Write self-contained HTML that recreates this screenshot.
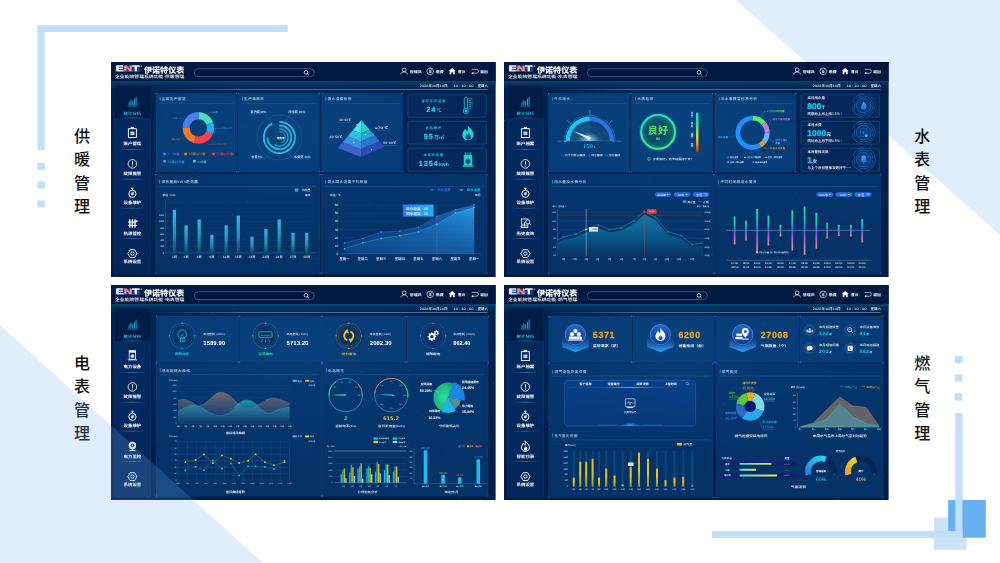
<!DOCTYPE html>
<html lang="zh-CN"><head><meta charset="utf-8"><title>能效管理系统</title>
<style>
html,body{margin:0;padding:0}
body{width:1000px;height:563px;position:relative;overflow:hidden;background:#fff;font-family:"Liberation Sans","Noto Sans CJK SC",sans-serif}
.d{position:absolute}
.dash{position:absolute;display:block;overflow:hidden;will-change:transform;text-rendering:geometricPrecision;transform:scale(0.2);transform-origin:0 0}
.vl{position:absolute;width:20px;height:24px;line-height:24px;text-align:center;font-size:16px;font-weight:500;color:#111;font-family:"Liberation Sans","Noto Sans CJK SC",sans-serif}
.bg{position:absolute;left:0;top:0}
</style></head><body>
<svg class="bg" width="1000" height="563" viewBox="0 0 1000 563">
<polygon points="736,0 1000,0 1000,235" fill="#dfedfc"/>
<rect x="37.5" y="25" width="250.3" height="7" fill="#c0dff9"/>
<rect x="37.5" y="25" width="7.1" height="125" fill="#c0dff9"/>
<rect x="37.4" y="162.8" width="7.5" height="7" fill="#c0dff9"/>
<rect x="37.4" y="181.5" width="7.5" height="7" fill="#c0dff9"/>
<rect x="37.4" y="200.4" width="7.5" height="7" fill="#c0dff9"/>
<rect x="934" y="517.6" width="32.5" height="32.2" fill="#cbe3f9"/>
<rect x="948.2" y="500" width="37.6" height="37.7" fill="#66b0f2"/>
<rect x="955.2" y="413" width="7.3" height="125" fill="#c0dff9"/>
<rect x="712" y="531" width="250.5" height="7" fill="#c0dff9"/>
<rect x="954.8" y="355.8" width="7.6" height="7.4" fill="#c0dff9"/>
<rect x="954.8" y="374.4" width="7.6" height="7.4" fill="#c0dff9"/>
<rect x="954.8" y="393.3" width="7.6" height="7.4" fill="#c0dff9"/>
</svg>
<div class="vl" style="left:72px;top:124.6px">供</div><div class="vl" style="left:72px;top:148.05px">暖</div><div class="vl" style="left:72px;top:171.5px">管</div><div class="vl" style="left:72px;top:194.95px">理</div>
<div class="vl" style="left:912.3px;top:124.6px">水</div><div class="vl" style="left:912.3px;top:148.05px">表</div><div class="vl" style="left:912.3px;top:171.5px">管</div><div class="vl" style="left:912.3px;top:194.95px">理</div>
<div class="vl" style="left:72px;top:351.6px">电</div><div class="vl" style="left:72px;top:375.05px">表</div><div class="vl" style="left:72px;top:398.5px">管</div><div class="vl" style="left:72px;top:421.95px">理</div>
<div class="vl" style="left:912.3px;top:351.6px">燃</div><div class="vl" style="left:912.3px;top:375.05px">气</div><div class="vl" style="left:912.3px;top:398.5px">管</div><div class="vl" style="left:912.3px;top:421.95px">理</div>
<svg class="dash" style="left:111.2px;top:62.3px" width="1924" height="1075" viewBox="111.2 62.3 384.8 215" font-family='"Liberation Sans","Noto Sans CJK SC",sans-serif' font-weight="500">
<defs>
<linearGradient id="bga" x1="0" y1="0" x2="0" y2="1"><stop offset="0" stop-color="#021f4a"/><stop offset="0.45" stop-color="#03224f"/><stop offset="1" stop-color="#031d47"/></linearGradient>
<radialGradient id="gla" cx="0.45" cy="0.3" r="0.52"><stop offset="0" stop-color="#0a5290" stop-opacity="0.32"/><stop offset="1" stop-color="#06306a" stop-opacity="0"/></radialGradient>
<linearGradient id="hla" x1="0" y1="0" x2="1" y2="0"><stop offset="0" stop-color="#7fb6ea" stop-opacity="0"/><stop offset="0.25" stop-color="#8fc2f0" stop-opacity="0.9"/><stop offset="1" stop-color="#b8dcff" stop-opacity="1"/></linearGradient>
<linearGradient id="dva" x1="0" y1="0" x2="1" y2="0"><stop offset="0" stop-color="#7fb6ea" stop-opacity="0"/><stop offset="0.5" stop-color="#8fc2f0" stop-opacity="0.9"/><stop offset="1" stop-color="#7fb6ea" stop-opacity="0"/></linearGradient>
<linearGradient id="hba" x1="0" y1="0" x2="0" y2="1"><stop offset="0" stop-color="#0c5480" stop-opacity="0.85"/><stop offset="0.3" stop-color="#0a4674" stop-opacity="0.45"/><stop offset="1" stop-color="#0a4070" stop-opacity="0"/></linearGradient>
</defs>
<rect x="111.2" y="62.3" width="384.8" height="215" fill="url(#bga)"/>
<rect x="111.2" y="62.3" width="384.8" height="215" fill="url(#gla)"/>
<g fill="#9fd0ff"><circle cx="143.49" cy="95.42" r="0.36" opacity="0.44"/><circle cx="342.41" cy="229.48" r="0.36" opacity="0.54"/><circle cx="299.33" cy="137.85" r="0.29" opacity="0.24"/><circle cx="225.92" cy="197.02" r="0.33" opacity="0.19"/><circle cx="242.87" cy="97.25" r="0.2" opacity="0.27"/><circle cx="144.22" cy="135.8" r="0.45" opacity="0.49"/><circle cx="220.03" cy="208.36" r="0.43" opacity="0.49"/><circle cx="454.05" cy="133.99" r="0.3" opacity="0.23"/><circle cx="406.4" cy="228.5" r="0.48" opacity="0.25"/><circle cx="484.82" cy="251.57" r="0.32" opacity="0.5"/><circle cx="288.66" cy="87.17" r="0.34" opacity="0.22"/><circle cx="280.49" cy="159.21" r="0.25" opacity="0.24"/><circle cx="440.38" cy="102.91" r="0.34" opacity="0.55"/><circle cx="268.68" cy="266.77" r="0.38" opacity="0.55"/><circle cx="252.31" cy="218.41" r="0.26" opacity="0.54"/><circle cx="199.93" cy="172.35" r="0.4" opacity="0.52"/><circle cx="211.89" cy="127.93" r="0.46" opacity="0.31"/><circle cx="486.71" cy="155.61" r="0.43" opacity="0.38"/><circle cx="142.27" cy="239.57" r="0.36" opacity="0.17"/><circle cx="378.96" cy="205.51" r="0.25" opacity="0.44"/><circle cx="461.42" cy="242.24" r="0.37" opacity="0.4"/><circle cx="493.01" cy="155.28" r="0.25" opacity="0.31"/><circle cx="433.28" cy="161.59" r="0.4" opacity="0.51"/><circle cx="308.1" cy="210.9" r="0.3" opacity="0.28"/><circle cx="210.73" cy="179.03" r="0.39" opacity="0.15"/><circle cx="198.32" cy="273.51" r="0.34" opacity="0.44"/><circle cx="376.27" cy="239.54" r="0.46" opacity="0.33"/><circle cx="126.79" cy="256.15" r="0.23" opacity="0.38"/><circle cx="465.64" cy="127.29" r="0.4" opacity="0.16"/><circle cx="334.08" cy="161.48" r="0.27" opacity="0.39"/><circle cx="425.43" cy="263.57" r="0.27" opacity="0.15"/><circle cx="322.84" cy="239.76" r="0.46" opacity="0.17"/><circle cx="483.69" cy="100.2" r="0.2" opacity="0.26"/><circle cx="486.92" cy="179.5" r="0.47" opacity="0.4"/><circle cx="368.49" cy="203.82" r="0.36" opacity="0.45"/><circle cx="470.45" cy="171.04" r="0.2" opacity="0.51"/><circle cx="206.11" cy="219.82" r="0.21" opacity="0.33"/><circle cx="198.74" cy="137.26" r="0.28" opacity="0.39"/><circle cx="189.03" cy="258.24" r="0.24" opacity="0.44"/><circle cx="368.06" cy="100.02" r="0.35" opacity="0.19"/><circle cx="156.81" cy="248.31" r="0.24" opacity="0.54"/><circle cx="341.1" cy="130.43" r="0.38" opacity="0.33"/><circle cx="289.26" cy="180.39" r="0.22" opacity="0.36"/><circle cx="481.67" cy="255.58" r="0.33" opacity="0.44"/><circle cx="281.49" cy="114.66" r="0.47" opacity="0.45"/><circle cx="456.22" cy="89.12" r="0.33" opacity="0.45"/><circle cx="317.26" cy="171.26" r="0.3" opacity="0.34"/><circle cx="189.69" cy="100.48" r="0.3" opacity="0.27"/><circle cx="311.38" cy="211.94" r="0.18" opacity="0.31"/><circle cx="178.32" cy="120.96" r="0.31" opacity="0.4"/><circle cx="476.23" cy="175.07" r="0.3" opacity="0.33"/><circle cx="357.98" cy="117" r="0.2" opacity="0.16"/><circle cx="150.11" cy="102.13" r="0.32" opacity="0.49"/><circle cx="245.29" cy="91.12" r="0.21" opacity="0.49"/><circle cx="385.5" cy="258.71" r="0.21" opacity="0.38"/><circle cx="446.6" cy="131.81" r="0.41" opacity="0.45"/><circle cx="179.22" cy="150.87" r="0.34" opacity="0.48"/><circle cx="342.86" cy="187.38" r="0.33" opacity="0.37"/><circle cx="267.94" cy="176.35" r="0.41" opacity="0.37"/><circle cx="418.23" cy="263.97" r="0.18" opacity="0.25"/><circle cx="459.96" cy="192.41" r="0.44" opacity="0.31"/><circle cx="212.8" cy="112.61" r="0.44" opacity="0.37"/><circle cx="410.46" cy="206.31" r="0.24" opacity="0.48"/><circle cx="320.84" cy="230.44" r="0.33" opacity="0.2"/><circle cx="167.66" cy="115.61" r="0.39" opacity="0.42"/><circle cx="344.9" cy="144.94" r="0.22" opacity="0.42"/><circle cx="117.64" cy="138.39" r="0.29" opacity="0.29"/><circle cx="263.78" cy="263.18" r="0.36" opacity="0.49"/><circle cx="410.02" cy="144.12" r="0.22" opacity="0.32"/><circle cx="140.82" cy="161.24" r="0.29" opacity="0.31"/><circle cx="315.28" cy="123.84" r="0.18" opacity="0.17"/><circle cx="436.61" cy="257.74" r="0.3" opacity="0.26"/><circle cx="150.5" cy="178.22" r="0.21" opacity="0.16"/><circle cx="450.87" cy="253.04" r="0.33" opacity="0.29"/><circle cx="441.35" cy="242.5" r="0.46" opacity="0.32"/><circle cx="379.8" cy="162.91" r="0.32" opacity="0.17"/><circle cx="336.07" cy="226.95" r="0.23" opacity="0.2"/><circle cx="342.28" cy="134.73" r="0.3" opacity="0.42"/><circle cx="476.6" cy="150.05" r="0.33" opacity="0.2"/><circle cx="247.19" cy="180.11" r="0.33" opacity="0.18"/><circle cx="279.06" cy="217.06" r="0.44" opacity="0.22"/><circle cx="127.3" cy="87.88" r="0.3" opacity="0.25"/><circle cx="240.35" cy="113.94" r="0.25" opacity="0.43"/><circle cx="352.93" cy="171.58" r="0.31" opacity="0.2"/><circle cx="157.56" cy="180.51" r="0.24" opacity="0.55"/><circle cx="128.59" cy="122.16" r="0.43" opacity="0.17"/><circle cx="410.57" cy="240.02" r="0.48" opacity="0.37"/><circle cx="255.37" cy="165.61" r="0.38" opacity="0.22"/><circle cx="247.74" cy="201.55" r="0.39" opacity="0.5"/><circle cx="478.62" cy="186.03" r="0.39" opacity="0.5"/><circle cx="244.26" cy="239.73" r="0.36" opacity="0.45"/><circle cx="303.62" cy="97.17" r="0.33" opacity="0.19"/><circle cx="242.28" cy="127.69" r="0.44" opacity="0.5"/><circle cx="206.25" cy="115.25" r="0.31" opacity="0.22"/><circle cx="424.07" cy="194.49" r="0.28" opacity="0.25"/><circle cx="349.63" cy="249.61" r="0.31" opacity="0.54"/><circle cx="169.65" cy="197.17" r="0.33" opacity="0.22"/><circle cx="317.49" cy="258.89" r="0.47" opacity="0.52"/><circle cx="233.74" cy="111.9" r="0.27" opacity="0.18"/><circle cx="139.73" cy="254.31" r="0.23" opacity="0.23"/><circle cx="239.77" cy="99.81" r="0.36" opacity="0.22"/><circle cx="347.75" cy="150.37" r="0.23" opacity="0.31"/><circle cx="425.99" cy="83.65" r="0.39" opacity="0.39"/><circle cx="197.93" cy="114.37" r="0.46" opacity="0.25"/><circle cx="330.79" cy="228.2" r="0.46" opacity="0.26"/><circle cx="160.1" cy="209.82" r="0.26" opacity="0.43"/><circle cx="374.99" cy="102.27" r="0.37" opacity="0.31"/><circle cx="186.72" cy="90.96" r="0.34" opacity="0.21"/><circle cx="358.64" cy="227.01" r="0.21" opacity="0.47"/><circle cx="212.53" cy="175.4" r="0.34" opacity="0.18"/><circle cx="243.5" cy="231.02" r="0.32" opacity="0.53"/><circle cx="258.47" cy="249.19" r="0.3" opacity="0.44"/><circle cx="402.41" cy="178.89" r="0.45" opacity="0.21"/><circle cx="474.44" cy="146.03" r="0.46" opacity="0.23"/><circle cx="405.9" cy="224.35" r="0.21" opacity="0.38"/><circle cx="491.05" cy="150.57" r="0.4" opacity="0.23"/><circle cx="462.11" cy="214.6" r="0.43" opacity="0.23"/><circle cx="427.55" cy="150.39" r="0.45" opacity="0.55"/><circle cx="182.69" cy="258.58" r="0.33" opacity="0.39"/><circle cx="407.87" cy="208.89" r="0.44" opacity="0.2"/><circle cx="116.54" cy="110.88" r="0.33" opacity="0.2"/><circle cx="375.7" cy="137.02" r="0.33" opacity="0.29"/><circle cx="137.14" cy="132.78" r="0.26" opacity="0.43"/><circle cx="423.94" cy="169.42" r="0.19" opacity="0.26"/><circle cx="190.56" cy="251.96" r="0.21" opacity="0.48"/><circle cx="127.3" cy="221.15" r="0.22" opacity="0.23"/><circle cx="417.29" cy="226.98" r="0.41" opacity="0.15"/><circle cx="206.09" cy="216.65" r="0.26" opacity="0.36"/><circle cx="333.19" cy="248.3" r="0.25" opacity="0.2"/><circle cx="264.33" cy="88.73" r="0.43" opacity="0.26"/><circle cx="417.31" cy="258.17" r="0.44" opacity="0.34"/><circle cx="287.88" cy="270.88" r="0.18" opacity="0.49"/><circle cx="225.19" cy="211.6" r="0.26" opacity="0.25"/><circle cx="223.79" cy="189.89" r="0.38" opacity="0.29"/><circle cx="224.56" cy="205.42" r="0.47" opacity="0.36"/><circle cx="390.86" cy="258.78" r="0.37" opacity="0.29"/><circle cx="360.02" cy="248.75" r="0.24" opacity="0.41"/><circle cx="311.02" cy="232.41" r="0.39" opacity="0.15"/><circle cx="189.44" cy="123.23" r="0.32" opacity="0.42"/><circle cx="280.32" cy="90.9" r="0.3" opacity="0.41"/><circle cx="213.06" cy="121.57" r="0.36" opacity="0.51"/><circle cx="411.81" cy="265.05" r="0.26" opacity="0.25"/><circle cx="127.89" cy="252.98" r="0.47" opacity="0.31"/><circle cx="381.99" cy="181.13" r="0.28" opacity="0.15"/><circle cx="303.63" cy="179.14" r="0.38" opacity="0.32"/><circle cx="331.25" cy="180.32" r="0.33" opacity="0.54"/><circle cx="436.09" cy="166.31" r="0.28" opacity="0.2"/><circle cx="379.54" cy="227.19" r="0.32" opacity="0.3"/><circle cx="171.95" cy="191.2" r="0.34" opacity="0.29"/><circle cx="399.37" cy="187.84" r="0.27" opacity="0.44"/><circle cx="311.11" cy="232.11" r="0.23" opacity="0.46"/><circle cx="126.82" cy="126.47" r="0.43" opacity="0.22"/><circle cx="438.02" cy="274.16" r="0.24" opacity="0.4"/><circle cx="459.03" cy="275.37" r="0.24" opacity="0.41"/><circle cx="417.21" cy="122.2" r="0.41" opacity="0.48"/><circle cx="184.27" cy="205.5" r="0.2" opacity="0.29"/><circle cx="424.89" cy="223.9" r="0.47" opacity="0.51"/><circle cx="160.36" cy="206.25" r="0.26" opacity="0.45"/><circle cx="331.41" cy="234.84" r="0.47" opacity="0.43"/><circle cx="168.37" cy="86.76" r="0.2" opacity="0.15"/><circle cx="145.07" cy="199.47" r="0.19" opacity="0.39"/><circle cx="429.42" cy="230.38" r="0.41" opacity="0.52"/><circle cx="178.11" cy="87.06" r="0.19" opacity="0.36"/><circle cx="276.91" cy="171.2" r="0.29" opacity="0.53"/><circle cx="132.51" cy="248.2" r="0.37" opacity="0.54"/><circle cx="385.53" cy="144.16" r="0.3" opacity="0.54"/><circle cx="357.04" cy="147.85" r="0.29" opacity="0.49"/><circle cx="244.95" cy="125.78" r="0.21" opacity="0.36"/><circle cx="140.72" cy="255.34" r="0.46" opacity="0.42"/><circle cx="252.07" cy="168.36" r="0.22" opacity="0.3"/></g>
<rect x="111.2" y="62.3" width="384.8" height="19.2" fill="#021a3f"/>
<rect x="111.2" y="81.5" width="384.8" height="9" fill="url(#hba)"/>
<rect x="115.5" y="66.1" width="24.6" height="6.3" fill="#2458c8" rx="0.5" opacity="0.6"/>
<text x="116" y="71.8" font-size="7.7" font-weight="bold" textLength="23.6" lengthAdjust="spacingAndGlyphs" stroke-width="0.35" font-family='"Liberation Sans","Noto Sans CJK SC",sans-serif'><tspan fill="#ffffff" stroke="#ffffff">E</tspan><tspan fill="#f58a7c" stroke="#f58a7c">N</tspan><tspan fill="#ffffff" stroke="#ffffff">T</tspan></text>
<text x="140.8" y="67.51" font-size="2.2" fill="#fff">®</text>
<text x="144.2" y="72.88" font-size="8" fill="#fff" font-weight="900" textLength="40.3" lengthAdjust="spacingAndGlyphs">伊诺特仪表</text>
<text x="115.2" y="78.73" font-size="4.1" fill="#fff" font-weight="500" textLength="69.4" lengthAdjust="spacingAndGlyphs">企业能效管理系统功能·供暖管理</text>
<rect x="194.5" y="69" width="120" height="7.9" fill="#03153a" rx="3.95" stroke="#8fb4dc" stroke-width="0.4" opacity="1"/>
<circle cx="306.2" cy="72.7" r="1.8" fill="none" stroke="#fff" stroke-width="0.7"/>
<line x1="307.5" y1="74" x2="308.9" y2="75.3" stroke="#fff" stroke-width="0.75"/>
<circle cx="404.3" cy="70.2" r="1.9" fill="none" stroke="#fff" stroke-width="0.7"/>
<path d="M401 74.7C401.3 71.3 407.3 71.3 407.6 74.7" fill="none" stroke="#fff" stroke-width="0.7"/>
<text x="410" y="73.03" font-size="3.5" fill="#fff" font-weight="bold" textLength="12" lengthAdjust="spacingAndGlyphs">管理员</text>
<circle cx="430.4" cy="71.6" r="3.35" fill="none" stroke="#fff" stroke-width="0.6"/>
<path d="M428.9 69.5L430.4 71.5L431.9 69.5M430.4 71.5L430.4 73.9M429 71.7L431.8 71.7M429 72.7L431.8 72.7" fill="none" stroke="#fff" stroke-width="0.5"/>
<text x="436" y="73.03" font-size="3.5" fill="#fff" font-weight="bold" textLength="7.9" lengthAdjust="spacingAndGlyphs">缴费</text>
<polygon points="452.4,68.3 455.9,71.4 454.9,71.4 454.9,74.6 453.3,74.6 453.3,72.5 451.5,72.5 451.5,74.6 449.9,74.6 449.9,71.4 448.9,71.4" fill="#fff"/>
<text x="458.2" y="73.03" font-size="3.5" fill="#fff" font-weight="bold" textLength="7.4" lengthAdjust="spacingAndGlyphs">首页</text>
<path d="M471.9 69.7H476.7A1.9 1.9 0 0 1 476.7 73.5H472.9" fill="none" stroke="#fff" stroke-width="0.6"/>
<polygon points="471.5,73.5 473.5,72.2 473.5,74.8" fill="#fff"/>
<text x="480.5" y="73.03" font-size="3.5" fill="#fff" font-weight="bold" textLength="7.5" lengthAdjust="spacingAndGlyphs">返回</text>
<text x="420" y="87.74" font-size="3.4" fill="#fff" font-weight="500" textLength="28" lengthAdjust="spacingAndGlyphs">2020年10月10日</text>
<text x="453.6" y="87.74" font-size="3.4" fill="#fff" font-weight="500" textLength="20.1" lengthAdjust="spacingAndGlyphs">10 : 10 : 00</text>
<text x="477.9" y="87.74" font-size="3.4" fill="#fff" font-weight="500" textLength="10.1" lengthAdjust="spacingAndGlyphs">星期六</text>
<rect x="152.2" y="89.65" width="335.5" height="0.45" fill="url(#hla)"/>
<rect x="114.65" y="85.7" width="36.4" height="188.4" fill="#04306c" stroke="#15558a" stroke-width="0.35" opacity="0.55"/>
<rect x="114.8" y="85.85" width="36.1" height="32.3" fill="#021a44" opacity="0.85"/>
<rect x="118.7" y="118" width="28" height="0.4" fill="url(#dva)"/>
<rect x="118.7" y="149.4" width="28" height="0.4" fill="url(#dva)"/>
<rect x="118.7" y="179.2" width="28" height="0.4" fill="url(#dva)"/>
<rect x="118.7" y="208.2" width="28" height="0.4" fill="url(#dva)"/>
<rect x="118.7" y="238.9" width="28" height="0.4" fill="url(#dva)"/>
<line x1="127.8" y1="106.4" x2="137.4" y2="106.4" stroke="#27b4dc" stroke-width="0.6"/><rect x="128.85" y="102.4" width="0.9" height="3.2" fill="#27b4dc"/><rect x="130.65" y="100.4" width="0.9" height="5.2" fill="#27b4dc"/><rect x="132.45" y="101.6" width="0.9" height="4" fill="#27b4dc"/><rect x="134.25" y="99" width="0.9" height="6.6" fill="#27b4dc"/><rect x="135.85" y="97" width="0.9" height="8.6" fill="#27b4dc"/>
<text x="132.6" y="114.88" font-size="4.1" fill="#27b4dc" text-anchor="middle" font-weight="bold" textLength="17.6" lengthAdjust="spacingAndGlyphs">统计分析</text>
<rect x="128.6" y="129" width="8" height="8.8" fill="none" stroke="#ffffff" stroke-width="0.9"/><rect x="131" y="127.2" width="3.2" height="2" fill="#ffffff"/><rect x="130.6" y="131.8" width="4" height="3.6" fill="#ffffff" opacity="0.75"/>
<text x="132.6" y="144.98" font-size="4.1" fill="#ffffff" text-anchor="middle" font-weight="bold" textLength="17.6" lengthAdjust="spacingAndGlyphs">账户管理</text>
<circle cx="132.6" cy="164.2" r="4.3" fill="none" stroke="#ffffff" stroke-width="0.8"/><rect x="132.15" y="161.6" width="0.9" height="3.4" fill="#ffffff"/><circle cx="132.6" cy="166.3" r="0.6" fill="#ffffff"/>
<text x="132.6" y="175.58" font-size="4.1" fill="#ffffff" text-anchor="middle" font-weight="bold" textLength="17.6" lengthAdjust="spacingAndGlyphs">故障报警</text>
<circle cx="132.6" cy="194.1" r="3.6" fill="none" stroke="#ffffff" stroke-width="1"/><rect x="131.6" y="188" width="2" height="1.3" fill="#ffffff"/><circle cx="132.6" cy="194.1" r="1.5" fill="#ffffff" opacity="0.8"/><line x1="132.6" y1="194.1" x2="134.4" y2="191.9" stroke="#ffffff" stroke-width="0.6"/><rect x="132.2" y="189.1" width="0.8" height="1.4" fill="#ffffff"/>
<text x="132.6" y="204.78" font-size="4.1" fill="#ffffff" text-anchor="middle" font-weight="bold" textLength="17.6" lengthAdjust="spacingAndGlyphs">设备维护</text>
<rect x="129.3" y="219.5" width="1.4" height="8.6" fill="#ffffff" rx="0.5"/><rect x="131.9" y="219.5" width="1.4" height="8.6" fill="#ffffff" rx="0.5"/><rect x="134.5" y="219.5" width="1.4" height="8.6" fill="#ffffff" rx="0.5"/><rect x="128.2" y="221.9" width="8.8" height="0.9" fill="#ffffff"/><rect x="128.2" y="225.3" width="8.8" height="0.9" fill="#ffffff"/><rect x="136.2" y="220.5" width="1.6" height="1.6" fill="#ffffff"/>
<text x="132.6" y="234.98" font-size="4.1" fill="#ffffff" text-anchor="middle" font-weight="bold" textLength="17.6" lengthAdjust="spacingAndGlyphs">热源管控</text>
<polygon points="134.85,250 137.1,253.9 134.85,257.8 130.35,257.8 128.1,253.9 130.35,250" fill="none" stroke="#ffffff" stroke-width="0.9" stroke-linejoin="round"/><circle cx="132.6" cy="253.9" r="1.7" fill="none" stroke="#ffffff" stroke-width="0.9"/>
<text x="132.6" y="263.68" font-size="4.1" fill="#ffffff" text-anchor="middle" font-weight="bold" textLength="17.6" lengthAdjust="spacingAndGlyphs">系统设置</text>
<defs><linearGradient id="bara" x1="0" y1="0" x2="0" y2="1"><stop offset="0" stop-color="#35b4e6"/><stop offset="0.55" stop-color="#2191b8"/><stop offset="1" stop-color="#0d5c66" stop-opacity="0.75"/></linearGradient><linearGradient id="tipa" x1="0" y1="0" x2="1" y2="0"><stop offset="0" stop-color="#2b72f2"/><stop offset="1" stop-color="#1eb4f4"/></linearGradient><linearGradient id="ar1a" x1="0" y1="1" x2="1" y2="0"><stop offset="0" stop-color="#2a6fd0" stop-opacity="0.12"/><stop offset="0.6" stop-color="#2a6fd0" stop-opacity="0.4"/><stop offset="1" stop-color="#2a74d8" stop-opacity="0.75"/></linearGradient><linearGradient id="ar2a" x1="0" y1="1" x2="1" y2="0"><stop offset="0" stop-color="#1a86d0" stop-opacity="0.1"/><stop offset="0.55" stop-color="#1a86d0" stop-opacity="0.38"/><stop offset="0.85" stop-color="#2096dc" stop-opacity="0.7"/><stop offset="1" stop-color="#28a4e8" stop-opacity="0.95"/></linearGradient></defs>
<rect x="156.4" y="93.8" width="80.2" height="78.2" fill="#0a4f92" opacity="0.58"/>
<rect x="156.4" y="93.8" width="80.2" height="78.2" fill="none" stroke="#1c5aa8" stroke-width="0.3" opacity="0.8"/>
<rect x="155.9" y="93.3" width="1" height="1" fill="#2f7df0"/>
<rect x="236.1" y="93.3" width="1" height="1" fill="#2f7df0"/>
<rect x="155.9" y="171.5" width="1" height="1" fill="#2f7df0"/>
<rect x="236.1" y="171.5" width="1" height="1" fill="#2f7df0"/>
<rect x="160" y="97.1" width="0.55" height="3.8" fill="#36c6f0"/>
<text x="162" y="100.48" font-size="3.6" fill="#b4def8" letter-spacing="0.45">正常生产留温</text>
<line x1="159.4" y1="103.7" x2="233.6" y2="103.7" stroke="#4c86c8" stroke-width="0.3" opacity="0.75"/>
<path d="M198.6 112.4A15.8 15.8 0 0 1 213.25 122.28L206.57 124.98A8.6 8.6 0 0 0 198.6 119.6Z" fill="#4edbc2"/>
<path d="M213.25 122.28A15.8 15.8 0 0 1 213.14 134.37L206.52 131.56A8.6 8.6 0 0 0 206.57 124.98Z" fill="#25a9f2"/>
<path d="M213.14 134.37A15.8 15.8 0 0 1 193.98 143.31L196.09 136.42A8.6 8.6 0 0 0 206.52 131.56Z" fill="#f5414d"/>
<path d="M193.98 143.31A15.8 15.8 0 0 1 182.8 128.2L190 128.2A8.6 8.6 0 0 0 196.09 136.42Z" fill="#f27a22"/>
<path d="M182.8 128.2A15.8 15.8 0 0 1 198.6 112.4L198.6 119.6A8.6 8.6 0 0 0 190 128.2Z" fill="#4e7bf2"/>
<polyline points="207.89,114.93 209.5,112.64 212,112.64" fill="none" stroke="#4edbc2" stroke-width="0.3"/>
<text x="212.6" y="113.46" font-size="2" fill="#4edbc2" opacity="0.9">≥18度</text>
<polyline points="214.79,128.77 217.59,128.86 221.5,128.86" fill="none" stroke="#25a9f2" stroke-width="0.3"/>
<text x="222.1" y="129.68" font-size="2" fill="#25a9f2" opacity="0.9">20度≥18度</text>
<polyline points="206.7,142.23 208.1,144.65 216,144.65" fill="none" stroke="#f5414d" stroke-width="0.3"/>
<text x="216.6" y="145.47" font-size="2" fill="#f5414d" opacity="0.9">22度≥20度</text>
<polyline points="185.33,137.49 183.04,139.1 181,139.1" fill="none" stroke="#f27a22" stroke-width="0.3"/>
<text x="180.4" y="139.92" font-size="2" fill="#f27a22" text-anchor="end" opacity="0.9">22度≥24度</text>
<polyline points="184.57,120.1 182.15,118.7 178,118.7" fill="none" stroke="#4e7bf2" stroke-width="0.3"/>
<text x="177.4" y="119.52" font-size="2" fill="#4e7bf2" text-anchor="end" opacity="0.9">＜16度</text>
<rect x="163.5" y="153" width="2.6" height="2.6" fill="#4e7bf2"/>
<text x="167.7" y="155.65" font-size="3.3" fill="#4e7bf2" letter-spacing="0.2">＜ 16度</text>
<rect x="184.5" y="153" width="2.6" height="2.6" fill="#f27a22"/>
<text x="188.7" y="155.65" font-size="3.3" fill="#f27a22" letter-spacing="0.2">22度≥24度</text>
<rect x="212.5" y="153" width="2.6" height="2.6" fill="#f5414d"/>
<text x="216.7" y="155.65" font-size="3.3" fill="#f5414d" letter-spacing="0.2">22度≥20度</text>
<rect x="163.5" y="160.2" width="2.6" height="2.6" fill="#25a9f2"/>
<text x="167.7" y="162.85" font-size="3.3" fill="#25a9f2" letter-spacing="0.2">20度≥18度</text>
<rect x="193.2" y="160.2" width="2.6" height="2.6" fill="#4edbc2"/>
<text x="197.4" y="162.85" font-size="3.3" fill="#4edbc2" letter-spacing="0.2">≥18度</text>
<rect x="238.7" y="93.8" width="80.8" height="78.2" fill="#0a4f92" opacity="0.58"/>
<rect x="238.7" y="93.8" width="80.8" height="78.2" fill="none" stroke="#1c5aa8" stroke-width="0.3" opacity="0.8"/>
<rect x="238.2" y="93.3" width="1" height="1" fill="#2f7df0"/>
<rect x="319" y="93.3" width="1" height="1" fill="#2f7df0"/>
<rect x="238.2" y="171.5" width="1" height="1" fill="#2f7df0"/>
<rect x="319" y="171.5" width="1" height="1" fill="#2f7df0"/>
<rect x="242.3" y="97.1" width="0.55" height="3.8" fill="#36c6f0"/>
<text x="244.3" y="100.48" font-size="3.6" fill="#b4def8" letter-spacing="0.45">生产单耗率</text>
<line x1="241.7" y1="103.7" x2="316.5" y2="103.7" stroke="#4c86c8" stroke-width="0.3" opacity="0.75"/>
<circle cx="279.6" cy="137.7" r="22.4" fill="none" stroke="#2a86b8" stroke-width="0.35" opacity="0.85"/>
<circle cx="279.6" cy="137.7" r="18.9" fill="none" stroke="#1c6a9a" stroke-width="0.3" opacity="0.7"/>
<circle cx="279.6" cy="137.7" r="12.2" fill="#0c4a78" opacity="0.45"/>
<path d="M279.6 122.1A15.6 15.6 0 1 1 272.28 123.93" fill="none" stroke="#35b8e0" stroke-width="1.8" stroke-linecap="butt"/>
<path d="M279.6 125.8A11.9 11.9 0 1 1 267.71 138.12" fill="none" stroke="#2fb0d8" stroke-width="1.9" stroke-linecap="butt"/>
<path d="M279.6 129.1A8.6 8.6 0 1 1 274.67 144.74" fill="none" stroke="#2190b4" stroke-width="1.7" stroke-linecap="butt"/>
<path d="M279.6 131.9A5.8 5.8 0 0 1 281.58 143.15" fill="none" stroke="#1f86a8" stroke-width="1.4" stroke-linecap="butt"/>
<text x="280.8" y="138.97" font-size="2.6" fill="#fff" text-anchor="middle" font-weight="bold">增费率</text>
<polyline points="250.2,114.1 265,114.1 276,127" fill="none" stroke="#3b9ad0" stroke-width="0.3"/>
<text x="250.7" y="113.01" font-size="3.2" fill="#a8dcf8" font-weight="bold">蒸汽费30%</text>
<polyline points="305.8,114.1 291,114.1 283,124.5" fill="none" stroke="#3b9ad0" stroke-width="0.3"/>
<text x="305.3" y="113.01" font-size="3.2" fill="#a8dcf8" text-anchor="end" font-weight="bold">白班费 30%</text>
<polyline points="251,159.1 266,159.1 277,143" fill="none" stroke="#3b9ad0" stroke-width="0.3"/>
<text x="251.5" y="158.01" font-size="3.2" fill="#a8dcf8" font-weight="bold">水费5%</text>
<polyline points="311.3,159.1 293.5,159.1 284,147" fill="none" stroke="#3b9ad0" stroke-width="0.3"/>
<text x="310.8" y="158.01" font-size="3.2" fill="#a8dcf8" text-anchor="end" font-weight="bold">水资费 13%</text>
<rect x="322.2" y="93.8" width="80.2" height="78.2" fill="#0a4f92" opacity="0.58"/>
<rect x="322.2" y="93.8" width="80.2" height="78.2" fill="none" stroke="#1c5aa8" stroke-width="0.3" opacity="0.8"/>
<rect x="321.7" y="93.3" width="1" height="1" fill="#2f7df0"/>
<rect x="401.9" y="93.3" width="1" height="1" fill="#2f7df0"/>
<rect x="321.7" y="171.5" width="1" height="1" fill="#2f7df0"/>
<rect x="401.9" y="171.5" width="1" height="1" fill="#2f7df0"/>
<rect x="325.8" y="97.1" width="0.55" height="3.8" fill="#36c6f0"/>
<text x="327.8" y="100.48" font-size="3.6" fill="#b4def8" letter-spacing="0.45">供水温度比例</text>
<line x1="325.2" y1="103.7" x2="399.4" y2="103.7" stroke="#4c86c8" stroke-width="0.3" opacity="0.75"/>
<polygon points="361.4,120.4 361.4,120.4 361.4,133.65 352.98,130.48" fill="#46e6e4"/>
<polygon points="361.4,120.4 361.4,120.4 369.82,130.01 361.4,133.65" fill="#2fcad4"/>
<polygon points="352.98,130.48 361.4,133.65 361.4,141.74 347.83,136.64" fill="#35bfe2"/>
<polygon points="361.4,133.65 369.82,130.01 374.97,135.89 361.4,141.74" fill="#26a4d2"/>
<polygon points="347.83,136.64 361.4,141.74 361.4,149.47 342.91,142.52" fill="#3a8fdc"/>
<polygon points="361.4,141.74 374.97,135.89 379.89,141.49 361.4,149.47" fill="#2c74cc"/>
<polygon points="342.91,142.52 361.4,149.47 361.4,157.2 338,148.4" fill="#3f60d2"/>
<polygon points="361.4,149.47 379.89,141.49 384.8,147.1 361.4,157.2" fill="#3048ba"/>
<circle cx="357.3" cy="124.8" r="0.7" fill="#d8f4ff" opacity="0.8"/>
<circle cx="366" cy="134.8" r="0.7" fill="#d8f4ff" opacity="0.8"/>
<circle cx="354" cy="142.8" r="0.7" fill="#d8f4ff" opacity="0.8"/>
<circle cx="371.8" cy="150" r="0.7" fill="#d8f4ff" opacity="0.8"/>
<text x="339.5" y="121.78" font-size="3.2" fill="#eef6ff" textLength="11.5" lengthAdjust="spacingAndGlyphs">30~60℃</text>
<line x1="339" y1="122.8" x2="352" y2="122.8" stroke="#3b86c8" stroke-width="0.25"/>
<text x="375.2" y="129.58" font-size="3.2" fill="#eef6ff" textLength="13.3" lengthAdjust="spacingAndGlyphs">≥70℃</text>
<line x1="374.7" y1="130.6" x2="389.5" y2="130.6" stroke="#3b86c8" stroke-width="0.25"/>
<text x="329.8" y="138.08" font-size="3.2" fill="#eef6ff" textLength="12.7" lengthAdjust="spacingAndGlyphs">40~50℃</text>
<line x1="329.3" y1="139.1" x2="343.5" y2="139.1" stroke="#3b86c8" stroke-width="0.25"/>
<text x="383.5" y="144.78" font-size="3.2" fill="#eef6ff" textLength="12.9" lengthAdjust="spacingAndGlyphs">50~60℃</text>
<line x1="383" y1="145.8" x2="397.4" y2="145.8" stroke="#3b86c8" stroke-width="0.25"/>
<rect x="408.1" y="94.4" width="78.4" height="23.1" fill="#06306a" rx="1.6" opacity="0.45"/>
<rect x="408.1" y="94.4" width="78.4" height="23.1" fill="none" rx="1.6" stroke="#2a7fc0" stroke-width="0.4" opacity="0.9"/>
<text x="434" y="102.55" font-size="3.3" fill="#2fd6f0" text-anchor="middle" letter-spacing="0.8">当前室内温度</text>
<text x="434" y="112.1" text-anchor="middle" fill="#2fd6f0" font-weight="bold" dominant-baseline="alphabetic"><tspan font-size="7.4" letter-spacing="0.9" stroke="#2fd6f0" stroke-width="0.2">24</tspan><tspan font-size="5" dx="0.2">℃</tspan></text>
<rect x="464.5" y="97.6" width="3.2" height="12.5" fill="none" rx="1.6" stroke="#2fd6f0" stroke-width="0.7"/>
<circle cx="466.1" cy="111.2" r="2.7" fill="#0a4478" stroke="#2fd6f0" stroke-width="0.7"/>
<circle cx="466.1" cy="111.2" r="1.2" fill="#2fd6f0"/>
<line x1="468.8" y1="99" x2="473" y2="99" stroke="#2fd6f0" stroke-width="0.55"/>
<line x1="468.8" y1="100.9" x2="471.4" y2="100.9" stroke="#2fd6f0" stroke-width="0.55"/>
<line x1="468.8" y1="102.8" x2="473" y2="102.8" stroke="#2fd6f0" stroke-width="0.55"/>
<line x1="468.8" y1="104.7" x2="471.4" y2="104.7" stroke="#2fd6f0" stroke-width="0.55"/>
<line x1="468.8" y1="106.6" x2="473" y2="106.6" stroke="#2fd6f0" stroke-width="0.55"/>
<line x1="468.8" y1="108.5" x2="471.4" y2="108.5" stroke="#2fd6f0" stroke-width="0.55"/>
<rect x="408.1" y="121.4" width="78.4" height="23.1" fill="#06306a" rx="1.6" opacity="0.45"/>
<rect x="408.1" y="121.4" width="78.4" height="23.1" fill="none" rx="1.6" stroke="#2a7fc0" stroke-width="0.4" opacity="0.9"/>
<text x="434" y="129.55" font-size="3.3" fill="#2fd6f0" text-anchor="middle" letter-spacing="0.8">供热面积</text>
<text x="434" y="139.1" text-anchor="middle" fill="#2fd6f0" font-weight="bold" dominant-baseline="alphabetic"><tspan font-size="7.4" letter-spacing="0.9" stroke="#2fd6f0" stroke-width="0.2">95</tspan><tspan font-size="5" dx="0.2">万㎡</tspan></text>
<path d="M467.7 125.51C470.18 128.81 474.14 130.79 473.81 135.41C473.64 138.71 471.17 140.53 468.2 140.53C464.9 140.53 462.43 138.38 462.59 134.75C462.75 132.11 464.57 130.79 465.23 128.81C466.22 130.46 466.71 131.12 467.38 131.78C468.37 129.8 468.53 127.82 467.7 125.51Z" fill="#22d8d0"/>
<path d="M468.26 132.72C469.46 134.32 471.38 135.28 471.22 137.52C471.14 139.12 469.94 140 468.5 140C466.9 140 465.7 138.96 465.78 137.2C465.86 135.92 466.74 135.28 467.06 134.32C467.54 135.12 467.78 135.44 468.1 135.76C468.58 134.8 468.66 133.84 468.26 132.72Z" fill="#0a4a80"/>
<rect x="408.1" y="148.4" width="78.4" height="23.1" fill="#06306a" rx="1.6" opacity="0.45"/>
<rect x="408.1" y="148.4" width="78.4" height="23.1" fill="none" rx="1.6" stroke="#2a7fc0" stroke-width="0.4" opacity="0.9"/>
<text x="434" y="156.55" font-size="3.3" fill="#2fd6f0" text-anchor="middle" letter-spacing="0.8">本周供热量</text>
<text x="434" y="166.1" text-anchor="middle" fill="#2fd6f0" font-weight="bold" dominant-baseline="alphabetic"><tspan font-size="7.4" letter-spacing="0.9" stroke="#2fd6f0" stroke-width="0.2">1354</tspan><tspan font-size="5" dx="0.2">kwh</tspan></text>
<rect x="463.9" y="155.4" width="8.6" height="10.4" fill="#22d0c8" rx="0.5"/>
<rect x="462.8" y="165.8" width="10.8" height="1.3" fill="#22d0c8"/>
<rect x="465.1" y="152.6" width="1" height="3" fill="#22d0c8"/>
<rect x="467.7" y="152.6" width="1" height="3" fill="#22d0c8"/>
<rect x="470.3" y="152.6" width="1" height="3" fill="#22d0c8"/>
<path d="M467.98 157.69C469.06 159.13 470.79 159.99 470.65 162.01C470.58 163.45 469.5 164.24 468.2 164.24C466.76 164.24 465.68 163.3 465.75 161.72C465.82 160.57 466.62 159.99 466.9 159.13C467.34 159.85 467.55 160.14 467.84 160.42C468.27 159.56 468.34 158.7 467.98 157.69Z" fill="#0a4a80"/>
<rect x="156" y="175" width="164.2" height="98.5" fill="#0a4f92" opacity="0.43"/>
<rect x="156" y="175" width="164.2" height="98.5" fill="none" stroke="#1c5aa8" stroke-width="0.3" opacity="0.8"/>
<rect x="155.5" y="174.5" width="1" height="1" fill="#2f7df0"/>
<rect x="319.7" y="174.5" width="1" height="1" fill="#2f7df0"/>
<rect x="155.5" y="273" width="1" height="1" fill="#2f7df0"/>
<rect x="319.7" y="273" width="1" height="1" fill="#2f7df0"/>
<rect x="159.6" y="180.3" width="0.55" height="3.8" fill="#36c6f0"/>
<text x="161.6" y="183.68" font-size="3.6" fill="#b4def8" letter-spacing="0.45">供热量耗kWh走势图</text>
<line x1="159" y1="186.9" x2="317.2" y2="186.9" stroke="#4c86c8" stroke-width="0.3" opacity="0.75"/>
<rect x="295" y="188.7" width="3.5" height="3.3" fill="#2fa8dc"/>
<text x="310.6" y="191.51" font-size="2.7" fill="#d8ecff" text-anchor="end">供热量</text>
<text x="310.6" y="196.51" font-size="2.7" fill="#d8ecff" text-anchor="end">每日</text>
<text x="162.7" y="196.55" font-size="2.8" fill="#d8ecff">单位 : kwh</text>
<text x="164.3" y="253.95" font-size="2.3" fill="#e4f2ff" text-anchor="end">0</text>
<text x="164.3" y="247.68" font-size="2.3" fill="#e4f2ff" text-anchor="end">200</text>
<line x1="165.6" y1="246.83" x2="311" y2="246.83" stroke="#4a86c4" stroke-width="0.2" opacity="0.35"/>
<text x="164.3" y="241.41" font-size="2.3" fill="#e4f2ff" text-anchor="end">400</text>
<line x1="165.6" y1="240.56" x2="311" y2="240.56" stroke="#4a86c4" stroke-width="0.2" opacity="0.35"/>
<text x="164.3" y="235.14" font-size="2.3" fill="#e4f2ff" text-anchor="end">600</text>
<line x1="165.6" y1="234.29" x2="311" y2="234.29" stroke="#4a86c4" stroke-width="0.2" opacity="0.35"/>
<text x="164.3" y="228.87" font-size="2.3" fill="#e4f2ff" text-anchor="end">800</text>
<line x1="165.6" y1="228.02" x2="311" y2="228.02" stroke="#4a86c4" stroke-width="0.2" opacity="0.35"/>
<text x="164.3" y="222.6" font-size="2.3" fill="#e4f2ff" text-anchor="end">1000</text>
<line x1="165.6" y1="221.75" x2="311" y2="221.75" stroke="#4a86c4" stroke-width="0.2" opacity="0.35"/>
<text x="164.3" y="216.33" font-size="2.3" fill="#e4f2ff" text-anchor="end">1200</text>
<line x1="165.6" y1="215.48" x2="311" y2="215.48" stroke="#4a86c4" stroke-width="0.2" opacity="0.35"/>
<line x1="165.6" y1="208.5" x2="311" y2="208.5" stroke="#4a86c4" stroke-width="0.2" opacity="0.3"/>
<line x1="165.6" y1="202.3" x2="311" y2="202.3" stroke="#4a86c4" stroke-width="0.2" opacity="0.3"/>
<line x1="165.6" y1="200.3" x2="165.6" y2="253.1" stroke="#3f7fc0" stroke-width="0.3"/>
<line x1="165.6" y1="253.1" x2="316" y2="253.1" stroke="#3f7fc0" stroke-width="0.35"/>
<rect x="172.95" y="210.1" width="3.3" height="43" fill="url(#bara)"/>
<text x="174.6" y="257.91" font-size="3.2" fill="#e4f2ff" text-anchor="middle">1日</text>
<rect x="184.65" y="225.7" width="3.3" height="27.4" fill="url(#bara)"/>
<text x="186.3" y="257.91" font-size="3.2" fill="#e4f2ff" text-anchor="middle">3日</text>
<rect x="197.75" y="219.8" width="3.3" height="33.3" fill="url(#bara)"/>
<text x="199.4" y="257.91" font-size="3.2" fill="#e4f2ff" text-anchor="middle">6日</text>
<rect x="210.45" y="235.1" width="3.3" height="18" fill="url(#bara)"/>
<text x="212.1" y="257.91" font-size="3.2" fill="#e4f2ff" text-anchor="middle">9日</text>
<rect x="224.75" y="225.7" width="3.3" height="27.4" fill="url(#bara)"/>
<text x="226.4" y="257.91" font-size="3.2" fill="#e4f2ff" text-anchor="middle">12日</text>
<rect x="236.85" y="215.9" width="3.3" height="37.2" fill="url(#bara)"/>
<text x="238.5" y="257.91" font-size="3.2" fill="#e4f2ff" text-anchor="middle">15日</text>
<rect x="250.55" y="237" width="3.3" height="16.1" fill="url(#bara)"/>
<text x="252.2" y="257.91" font-size="3.2" fill="#e4f2ff" text-anchor="middle">18日</text>
<rect x="264.45" y="229.2" width="3.3" height="23.9" fill="url(#bara)"/>
<text x="266.1" y="257.91" font-size="3.2" fill="#e4f2ff" text-anchor="middle">21日</text>
<rect x="277.75" y="219.8" width="3.3" height="33.3" fill="url(#bara)"/>
<text x="279.4" y="257.91" font-size="3.2" fill="#e4f2ff" text-anchor="middle">24日</text>
<rect x="291.55" y="233.1" width="3.3" height="20" fill="url(#bara)"/>
<text x="293.2" y="257.91" font-size="3.2" fill="#e4f2ff" text-anchor="middle">27日</text>
<rect x="305.25" y="233.1" width="3.3" height="20" fill="url(#bara)"/>
<text x="306.9" y="257.91" font-size="3.2" fill="#e4f2ff" text-anchor="middle">30日</text>
<rect x="322" y="175" width="165.2" height="98.5" fill="#0a4f92" opacity="0.43"/>
<rect x="322" y="175" width="165.2" height="98.5" fill="none" stroke="#1c5aa8" stroke-width="0.3" opacity="0.8"/>
<rect x="321.5" y="174.5" width="1" height="1" fill="#2f7df0"/>
<rect x="486.7" y="174.5" width="1" height="1" fill="#2f7df0"/>
<rect x="321.5" y="273" width="1" height="1" fill="#2f7df0"/>
<rect x="486.7" y="273" width="1" height="1" fill="#2f7df0"/>
<rect x="325.6" y="180.3" width="0.55" height="3.8" fill="#36c6f0"/>
<text x="327.6" y="183.68" font-size="3.6" fill="#b4def8" letter-spacing="0.45">供水回水温度平均数值</text>
<line x1="325" y1="186.9" x2="484.2" y2="186.9" stroke="#4c86c8" stroke-width="0.3" opacity="0.75"/>
<line x1="429.8" y1="190.1" x2="434.8" y2="190.1" stroke="#3f7df5" stroke-width="0.5"/>
<circle cx="432.3" cy="190.1" r="0.9" fill="#3f7df5"/>
<text x="437.7" y="191.41" font-size="3.2" fill="#3f7df5" textLength="13.1" lengthAdjust="spacingAndGlyphs">供水温度</text>
<line x1="459.1" y1="190.1" x2="464.1" y2="190.1" stroke="#1fd3ee" stroke-width="0.5"/>
<circle cx="461.6" cy="190.1" r="0.9" fill="#1fd3ee"/>
<text x="467" y="191.41" font-size="3.2" fill="#1fd3ee" textLength="13.7" lengthAdjust="spacingAndGlyphs">回水温度</text>
<text x="330.2" y="196.75" font-size="2.8" fill="#d8ecff">单位 : ℃</text>
<text x="480.7" y="196.75" font-size="2.8" fill="#d8ecff" text-anchor="end">每日</text>
<text x="338.5" y="255.18" font-size="3.2" fill="#e4f2ff" text-anchor="end">0</text>
<line x1="341" y1="254" x2="481" y2="254" stroke="#4a86c4" stroke-width="0.35" opacity="0.9"/>
<text x="338.5" y="247.08" font-size="3.2" fill="#e4f2ff" text-anchor="end">10</text>
<line x1="341" y1="245.9" x2="481" y2="245.9" stroke="#4a86c4" stroke-width="0.2" opacity="0.4"/>
<text x="338.5" y="238.98" font-size="3.2" fill="#e4f2ff" text-anchor="end">20</text>
<line x1="341" y1="237.8" x2="481" y2="237.8" stroke="#4a86c4" stroke-width="0.2" opacity="0.4"/>
<text x="338.5" y="230.88" font-size="3.2" fill="#e4f2ff" text-anchor="end">30</text>
<line x1="341" y1="229.7" x2="481" y2="229.7" stroke="#4a86c4" stroke-width="0.2" opacity="0.4"/>
<text x="338.5" y="222.78" font-size="3.2" fill="#e4f2ff" text-anchor="end">40</text>
<line x1="341" y1="221.6" x2="481" y2="221.6" stroke="#4a86c4" stroke-width="0.2" opacity="0.4"/>
<text x="338.5" y="214.68" font-size="3.2" fill="#e4f2ff" text-anchor="end">50</text>
<line x1="341" y1="213.5" x2="481" y2="213.5" stroke="#4a86c4" stroke-width="0.2" opacity="0.4"/>
<text x="338.5" y="206.58" font-size="3.2" fill="#e4f2ff" text-anchor="end">60</text>
<line x1="341" y1="205.4" x2="481" y2="205.4" stroke="#4a86c4" stroke-width="0.2" opacity="0.4"/>
<polygon points="344.7,243.5 362.9,238.8 381.4,232.5 400,231.4 418.6,227.7 437.1,216.9 455.7,210.1 474.3,205.2 474.3,254 344.7,254" fill="url(#ar1a)"/>
<polygon points="344.7,249.1 362.9,243.1 381.4,238.8 400,235.9 418.6,232 437.1,224.3 455.7,213.4 474.3,207.7 474.3,254 344.7,254" fill="url(#ar2a)"/>
<polyline points="344.7,243.5 362.9,238.8 381.4,232.5 400,231.4 418.6,227.7 437.1,216.9 455.7,210.1 474.3,205.2" fill="none" stroke="#3f7df5" stroke-width="0.35"/>
<polyline points="344.7,249.1 362.9,243.1 381.4,238.8 400,235.9 418.6,232 437.1,224.3 455.7,213.4 474.3,207.7" fill="none" stroke="#1fd3ee" stroke-width="0.35"/>
<circle cx="344.7" cy="243.5" r="0.85" fill="#3f7df5"/>
<circle cx="362.9" cy="238.8" r="0.85" fill="#3f7df5"/>
<circle cx="381.4" cy="232.5" r="0.85" fill="#3f7df5"/>
<circle cx="400" cy="231.4" r="0.85" fill="#3f7df5"/>
<circle cx="418.6" cy="227.7" r="0.85" fill="#3f7df5"/>
<circle cx="437.1" cy="216.9" r="0.85" fill="#3f7df5"/>
<circle cx="455.7" cy="210.1" r="0.85" fill="#3f7df5"/>
<circle cx="474.3" cy="205.2" r="0.85" fill="#3f7df5"/>
<circle cx="344.7" cy="249.1" r="0.85" fill="#1fd3ee"/>
<circle cx="362.9" cy="243.1" r="0.85" fill="#1fd3ee"/>
<circle cx="381.4" cy="238.8" r="0.85" fill="#1fd3ee"/>
<circle cx="400" cy="235.9" r="0.85" fill="#1fd3ee"/>
<circle cx="418.6" cy="232" r="0.85" fill="#1fd3ee"/>
<circle cx="437.1" cy="224.3" r="0.85" fill="#1fd3ee"/>
<circle cx="455.7" cy="213.4" r="0.85" fill="#1fd3ee"/>
<circle cx="474.3" cy="207.7" r="0.85" fill="#1fd3ee"/>
<line x1="437.1" y1="204.5" x2="437.1" y2="254" stroke="#5aa0e8" stroke-width="0.3" opacity="0.8"/>
<line x1="344.7" y1="254" x2="344.7" y2="255" stroke="#5a96d4" stroke-width="0.3"/>
<text x="344.7" y="260.29" font-size="3.4" fill="#e4f2ff" text-anchor="middle">星期一</text>
<line x1="362.9" y1="254" x2="362.9" y2="255" stroke="#5a96d4" stroke-width="0.3"/>
<text x="362.9" y="260.29" font-size="3.4" fill="#e4f2ff" text-anchor="middle">星期二</text>
<line x1="381.4" y1="254" x2="381.4" y2="255" stroke="#5a96d4" stroke-width="0.3"/>
<text x="381.4" y="260.29" font-size="3.4" fill="#e4f2ff" text-anchor="middle">星期三</text>
<line x1="400" y1="254" x2="400" y2="255" stroke="#5a96d4" stroke-width="0.3"/>
<text x="400" y="260.29" font-size="3.4" fill="#e4f2ff" text-anchor="middle">星期四</text>
<line x1="418.6" y1="254" x2="418.6" y2="255" stroke="#5a96d4" stroke-width="0.3"/>
<text x="418.6" y="260.29" font-size="3.4" fill="#e4f2ff" text-anchor="middle">星期五</text>
<line x1="437.1" y1="254" x2="437.1" y2="255" stroke="#5a96d4" stroke-width="0.3"/>
<text x="437.1" y="260.29" font-size="3.4" fill="#e4f2ff" text-anchor="middle">星期六</text>
<line x1="455.7" y1="254" x2="455.7" y2="255" stroke="#5a96d4" stroke-width="0.3"/>
<text x="455.7" y="260.29" font-size="3.4" fill="#e4f2ff" text-anchor="middle">星期日</text>
<line x1="474.3" y1="254" x2="474.3" y2="255" stroke="#5a96d4" stroke-width="0.3"/>
<text x="474.3" y="260.29" font-size="3.4" fill="#e4f2ff" text-anchor="middle">星期一</text>
<rect x="403" y="204.8" width="30.8" height="12.1" fill="url(#tipa)"/>
<text x="406.2" y="209.82" font-size="3.7" fill="#fff">供水温度 : 48</text>
<text x="406.2" y="215.02" font-size="3.7" fill="#fff">回水温度 : 35</text>
</svg>
<svg class="dash" style="left:504.2px;top:62.3px" width="1924" height="1075" viewBox="504.2 62.3 384.8 215" font-family='"Liberation Sans","Noto Sans CJK SC",sans-serif' font-weight="500">
<defs>
<linearGradient id="bgb" x1="0" y1="0" x2="0" y2="1"><stop offset="0" stop-color="#021f4a"/><stop offset="0.45" stop-color="#03224f"/><stop offset="1" stop-color="#031d47"/></linearGradient>
<radialGradient id="glb" cx="0.45" cy="0.3" r="0.52"><stop offset="0" stop-color="#0a5290" stop-opacity="0.32"/><stop offset="1" stop-color="#06306a" stop-opacity="0"/></radialGradient>
<linearGradient id="hlb" x1="0" y1="0" x2="1" y2="0"><stop offset="0" stop-color="#7fb6ea" stop-opacity="0"/><stop offset="0.25" stop-color="#8fc2f0" stop-opacity="0.9"/><stop offset="1" stop-color="#b8dcff" stop-opacity="1"/></linearGradient>
<linearGradient id="dvb" x1="0" y1="0" x2="1" y2="0"><stop offset="0" stop-color="#7fb6ea" stop-opacity="0"/><stop offset="0.5" stop-color="#8fc2f0" stop-opacity="0.9"/><stop offset="1" stop-color="#7fb6ea" stop-opacity="0"/></linearGradient>
<linearGradient id="hbb" x1="0" y1="0" x2="0" y2="1"><stop offset="0" stop-color="#0c5480" stop-opacity="0.85"/><stop offset="0.3" stop-color="#0a4674" stop-opacity="0.45"/><stop offset="1" stop-color="#0a4070" stop-opacity="0"/></linearGradient>
</defs>
<rect x="504.2" y="62.3" width="384.8" height="215" fill="url(#bgb)"/>
<rect x="504.2" y="62.3" width="384.8" height="215" fill="url(#glb)"/>
<g fill="#9fd0ff"><circle cx="588.8" cy="269.68" r="0.33" opacity="0.24"/><circle cx="618.56" cy="225.92" r="0.41" opacity="0.26"/><circle cx="674.89" cy="148.71" r="0.24" opacity="0.48"/><circle cx="540.9" cy="100.95" r="0.37" opacity="0.33"/><circle cx="845.32" cy="152.02" r="0.29" opacity="0.44"/><circle cx="835.41" cy="256" r="0.34" opacity="0.3"/><circle cx="707.81" cy="167.6" r="0.29" opacity="0.21"/><circle cx="784.33" cy="138.56" r="0.37" opacity="0.26"/><circle cx="819.58" cy="111.6" r="0.4" opacity="0.48"/><circle cx="765.94" cy="193.03" r="0.31" opacity="0.34"/><circle cx="709.46" cy="269.43" r="0.27" opacity="0.36"/><circle cx="866.59" cy="164.56" r="0.2" opacity="0.55"/><circle cx="649.05" cy="182.04" r="0.46" opacity="0.33"/><circle cx="552.72" cy="171.23" r="0.37" opacity="0.54"/><circle cx="818.01" cy="227.15" r="0.29" opacity="0.38"/><circle cx="550.89" cy="136.1" r="0.33" opacity="0.32"/><circle cx="553.06" cy="269.1" r="0.46" opacity="0.32"/><circle cx="534.99" cy="276.79" r="0.26" opacity="0.18"/><circle cx="526.52" cy="130.56" r="0.41" opacity="0.43"/><circle cx="600.73" cy="204.34" r="0.19" opacity="0.36"/><circle cx="586.85" cy="121.22" r="0.25" opacity="0.4"/><circle cx="686" cy="94.58" r="0.24" opacity="0.33"/><circle cx="846.28" cy="277" r="0.39" opacity="0.25"/><circle cx="629.62" cy="122.01" r="0.48" opacity="0.27"/><circle cx="862.46" cy="176.95" r="0.31" opacity="0.24"/><circle cx="748.97" cy="170.08" r="0.25" opacity="0.27"/><circle cx="757.13" cy="180.16" r="0.19" opacity="0.52"/><circle cx="651.81" cy="257.26" r="0.22" opacity="0.35"/><circle cx="647.29" cy="96.85" r="0.18" opacity="0.16"/><circle cx="816.25" cy="200.36" r="0.26" opacity="0.4"/><circle cx="861.84" cy="234.65" r="0.42" opacity="0.35"/><circle cx="571.4" cy="215.92" r="0.41" opacity="0.38"/><circle cx="528.19" cy="228.1" r="0.24" opacity="0.31"/><circle cx="684.07" cy="179.92" r="0.26" opacity="0.33"/><circle cx="672.94" cy="270.23" r="0.33" opacity="0.41"/><circle cx="820.92" cy="214.67" r="0.48" opacity="0.54"/><circle cx="799.3" cy="144.18" r="0.27" opacity="0.39"/><circle cx="504.52" cy="120.81" r="0.38" opacity="0.5"/><circle cx="847.35" cy="203.92" r="0.4" opacity="0.27"/><circle cx="755.48" cy="162.41" r="0.22" opacity="0.46"/><circle cx="644.53" cy="203.1" r="0.36" opacity="0.19"/><circle cx="693.4" cy="191.82" r="0.35" opacity="0.2"/><circle cx="561.63" cy="176.94" r="0.2" opacity="0.29"/><circle cx="612.78" cy="201.85" r="0.18" opacity="0.15"/><circle cx="739.08" cy="154.1" r="0.25" opacity="0.37"/><circle cx="795.34" cy="194.17" r="0.37" opacity="0.48"/><circle cx="702.73" cy="224.83" r="0.39" opacity="0.19"/><circle cx="805.51" cy="255.81" r="0.28" opacity="0.26"/><circle cx="568.85" cy="212.88" r="0.28" opacity="0.44"/><circle cx="870.63" cy="157.99" r="0.29" opacity="0.16"/><circle cx="736.31" cy="201.73" r="0.2" opacity="0.54"/><circle cx="648.34" cy="138.54" r="0.39" opacity="0.42"/><circle cx="787.97" cy="276.21" r="0.42" opacity="0.22"/><circle cx="536.44" cy="185.71" r="0.34" opacity="0.37"/><circle cx="508.15" cy="181.39" r="0.41" opacity="0.2"/><circle cx="508.99" cy="160.12" r="0.41" opacity="0.32"/><circle cx="750.58" cy="175.17" r="0.4" opacity="0.17"/><circle cx="540.55" cy="190.06" r="0.4" opacity="0.41"/><circle cx="662.15" cy="276.26" r="0.43" opacity="0.36"/><circle cx="684.63" cy="274.24" r="0.33" opacity="0.32"/><circle cx="852.54" cy="231.25" r="0.21" opacity="0.35"/><circle cx="509.32" cy="147.29" r="0.33" opacity="0.19"/><circle cx="676.24" cy="92.93" r="0.36" opacity="0.2"/><circle cx="778.93" cy="159.97" r="0.43" opacity="0.18"/><circle cx="552.86" cy="238.17" r="0.21" opacity="0.32"/><circle cx="513.85" cy="132.07" r="0.21" opacity="0.46"/><circle cx="799.78" cy="198.35" r="0.27" opacity="0.44"/><circle cx="870.75" cy="155.03" r="0.46" opacity="0.51"/><circle cx="861.95" cy="94.78" r="0.41" opacity="0.45"/><circle cx="851.17" cy="158.56" r="0.22" opacity="0.41"/><circle cx="693.46" cy="244.5" r="0.45" opacity="0.29"/><circle cx="571.61" cy="233.78" r="0.25" opacity="0.46"/><circle cx="756.37" cy="218.15" r="0.33" opacity="0.38"/><circle cx="820.39" cy="153.8" r="0.31" opacity="0.38"/><circle cx="862.84" cy="122.41" r="0.31" opacity="0.3"/><circle cx="573.82" cy="207.65" r="0.22" opacity="0.27"/><circle cx="641.89" cy="182.12" r="0.25" opacity="0.41"/><circle cx="857.46" cy="112.38" r="0.35" opacity="0.19"/><circle cx="715.49" cy="141.27" r="0.22" opacity="0.3"/><circle cx="547.12" cy="124.01" r="0.23" opacity="0.48"/><circle cx="602.11" cy="180.85" r="0.22" opacity="0.21"/><circle cx="591.75" cy="243.38" r="0.41" opacity="0.52"/><circle cx="541.93" cy="144.31" r="0.19" opacity="0.29"/><circle cx="573.5" cy="113.75" r="0.32" opacity="0.18"/><circle cx="734.54" cy="220.28" r="0.43" opacity="0.38"/><circle cx="859.77" cy="255.4" r="0.37" opacity="0.2"/><circle cx="626.37" cy="192.98" r="0.37" opacity="0.26"/><circle cx="860.38" cy="124.4" r="0.24" opacity="0.5"/><circle cx="711.09" cy="235.57" r="0.38" opacity="0.27"/><circle cx="539.24" cy="239.27" r="0.47" opacity="0.41"/><circle cx="659.44" cy="140.25" r="0.42" opacity="0.2"/><circle cx="716.6" cy="116.64" r="0.24" opacity="0.42"/><circle cx="708.87" cy="123.33" r="0.36" opacity="0.39"/><circle cx="729.88" cy="207.12" r="0.32" opacity="0.51"/><circle cx="571.96" cy="230.37" r="0.3" opacity="0.36"/><circle cx="737.16" cy="148.72" r="0.48" opacity="0.18"/><circle cx="820.34" cy="221.78" r="0.3" opacity="0.53"/><circle cx="837.63" cy="248.13" r="0.33" opacity="0.42"/><circle cx="682.1" cy="263.69" r="0.29" opacity="0.46"/><circle cx="764.38" cy="220.51" r="0.28" opacity="0.51"/><circle cx="740.37" cy="86.42" r="0.29" opacity="0.49"/><circle cx="521.7" cy="258.96" r="0.44" opacity="0.31"/><circle cx="652.76" cy="149.1" r="0.48" opacity="0.23"/><circle cx="883.19" cy="118.57" r="0.25" opacity="0.5"/><circle cx="565.79" cy="193.7" r="0.29" opacity="0.16"/><circle cx="844.94" cy="216.51" r="0.36" opacity="0.45"/><circle cx="815.45" cy="251.28" r="0.34" opacity="0.53"/><circle cx="773.19" cy="231.99" r="0.27" opacity="0.54"/><circle cx="664.41" cy="83.61" r="0.25" opacity="0.43"/><circle cx="871.72" cy="146.06" r="0.44" opacity="0.35"/><circle cx="650.58" cy="179.85" r="0.38" opacity="0.29"/><circle cx="830.07" cy="239.37" r="0.37" opacity="0.53"/><circle cx="574.03" cy="232.51" r="0.42" opacity="0.37"/><circle cx="713.1" cy="255.87" r="0.39" opacity="0.43"/><circle cx="659.92" cy="150.44" r="0.42" opacity="0.25"/><circle cx="595.21" cy="180.24" r="0.31" opacity="0.18"/><circle cx="568.54" cy="156.98" r="0.25" opacity="0.38"/><circle cx="728" cy="237.74" r="0.33" opacity="0.21"/><circle cx="723.35" cy="217.71" r="0.43" opacity="0.39"/><circle cx="613.22" cy="104.04" r="0.38" opacity="0.25"/><circle cx="575.82" cy="200.34" r="0.22" opacity="0.33"/><circle cx="690.62" cy="140.97" r="0.29" opacity="0.4"/><circle cx="571.41" cy="99.57" r="0.39" opacity="0.36"/><circle cx="770.18" cy="208.02" r="0.25" opacity="0.26"/><circle cx="594.49" cy="140.13" r="0.43" opacity="0.4"/><circle cx="654.43" cy="109.14" r="0.18" opacity="0.26"/><circle cx="596.05" cy="232.75" r="0.44" opacity="0.28"/><circle cx="775.35" cy="208.69" r="0.3" opacity="0.36"/><circle cx="573.89" cy="182.87" r="0.31" opacity="0.36"/><circle cx="574.97" cy="85.34" r="0.35" opacity="0.31"/><circle cx="825.01" cy="273.11" r="0.41" opacity="0.41"/><circle cx="771.9" cy="112.97" r="0.29" opacity="0.51"/><circle cx="817.19" cy="263.18" r="0.35" opacity="0.32"/><circle cx="561.94" cy="146.97" r="0.48" opacity="0.53"/><circle cx="686.23" cy="133.93" r="0.27" opacity="0.25"/><circle cx="514.05" cy="167.19" r="0.43" opacity="0.21"/><circle cx="736.71" cy="169.94" r="0.22" opacity="0.18"/><circle cx="585.89" cy="103.1" r="0.19" opacity="0.48"/><circle cx="678.69" cy="91.21" r="0.25" opacity="0.2"/><circle cx="687.27" cy="140.6" r="0.36" opacity="0.31"/><circle cx="650.56" cy="250.15" r="0.25" opacity="0.38"/><circle cx="793.76" cy="127.3" r="0.47" opacity="0.49"/><circle cx="553.25" cy="221.49" r="0.22" opacity="0.17"/><circle cx="871.15" cy="251.9" r="0.34" opacity="0.43"/><circle cx="583.57" cy="111.94" r="0.44" opacity="0.18"/><circle cx="827.57" cy="185.62" r="0.19" opacity="0.37"/><circle cx="511.63" cy="182.69" r="0.38" opacity="0.52"/><circle cx="682.89" cy="128.49" r="0.33" opacity="0.54"/><circle cx="545.15" cy="276.12" r="0.22" opacity="0.36"/><circle cx="724.17" cy="157.66" r="0.19" opacity="0.33"/><circle cx="790.59" cy="202.69" r="0.38" opacity="0.35"/><circle cx="703.53" cy="262.4" r="0.46" opacity="0.25"/><circle cx="504.31" cy="163.67" r="0.3" opacity="0.32"/><circle cx="707.71" cy="261.36" r="0.45" opacity="0.33"/><circle cx="866.89" cy="143.74" r="0.27" opacity="0.17"/><circle cx="664.03" cy="114.58" r="0.25" opacity="0.18"/><circle cx="609.44" cy="248.18" r="0.23" opacity="0.28"/><circle cx="839.23" cy="183.17" r="0.47" opacity="0.33"/><circle cx="540.56" cy="248.53" r="0.42" opacity="0.25"/><circle cx="784" cy="100.34" r="0.44" opacity="0.19"/><circle cx="884.11" cy="94.86" r="0.29" opacity="0.5"/><circle cx="874.41" cy="271.28" r="0.28" opacity="0.26"/><circle cx="712.89" cy="174.28" r="0.24" opacity="0.25"/><circle cx="706.82" cy="227.3" r="0.25" opacity="0.4"/><circle cx="648.02" cy="173.44" r="0.33" opacity="0.23"/><circle cx="625.68" cy="230.53" r="0.31" opacity="0.2"/><circle cx="582.02" cy="273.1" r="0.21" opacity="0.38"/><circle cx="734.13" cy="85.37" r="0.22" opacity="0.51"/><circle cx="566.55" cy="143.15" r="0.2" opacity="0.25"/><circle cx="696" cy="234.02" r="0.3" opacity="0.41"/></g>
<rect x="504.2" y="62.3" width="384.8" height="19.2" fill="#021a3f"/>
<rect x="504.2" y="81.5" width="384.8" height="9" fill="url(#hbb)"/>
<rect x="508.5" y="66.1" width="24.6" height="6.3" fill="#2458c8" rx="0.5" opacity="0.6"/>
<text x="509" y="71.8" font-size="7.7" font-weight="bold" textLength="23.6" lengthAdjust="spacingAndGlyphs" stroke-width="0.35" font-family='"Liberation Sans","Noto Sans CJK SC",sans-serif'><tspan fill="#ffffff" stroke="#ffffff">E</tspan><tspan fill="#f58a7c" stroke="#f58a7c">N</tspan><tspan fill="#ffffff" stroke="#ffffff">T</tspan></text>
<text x="533.8" y="67.51" font-size="2.2" fill="#fff">®</text>
<text x="537.2" y="72.88" font-size="8" fill="#fff" font-weight="900" textLength="40.3" lengthAdjust="spacingAndGlyphs">伊诺特仪表</text>
<text x="508.2" y="78.73" font-size="4.1" fill="#fff" font-weight="500" textLength="69.4" lengthAdjust="spacingAndGlyphs">企业能效管理系统功能·水表管理</text>
<rect x="587.5" y="69" width="120" height="7.9" fill="#03153a" rx="3.95" stroke="#8fb4dc" stroke-width="0.4" opacity="1"/>
<circle cx="699.2" cy="72.7" r="1.8" fill="none" stroke="#fff" stroke-width="0.7"/>
<line x1="700.5" y1="74" x2="701.9" y2="75.3" stroke="#fff" stroke-width="0.75"/>
<circle cx="797.3" cy="70.2" r="1.9" fill="none" stroke="#fff" stroke-width="0.7"/>
<path d="M794 74.7C794.3 71.3 800.3 71.3 800.6 74.7" fill="none" stroke="#fff" stroke-width="0.7"/>
<text x="803" y="73.03" font-size="3.5" fill="#fff" font-weight="bold" textLength="12" lengthAdjust="spacingAndGlyphs">管理员</text>
<circle cx="823.4" cy="71.6" r="3.35" fill="none" stroke="#fff" stroke-width="0.6"/>
<path d="M821.9 69.5L823.4 71.5L824.9 69.5M823.4 71.5L823.4 73.9M822 71.7L824.8 71.7M822 72.7L824.8 72.7" fill="none" stroke="#fff" stroke-width="0.5"/>
<text x="829" y="73.03" font-size="3.5" fill="#fff" font-weight="bold" textLength="7.9" lengthAdjust="spacingAndGlyphs">缴费</text>
<polygon points="845.4,68.3 848.9,71.4 847.9,71.4 847.9,74.6 846.3,74.6 846.3,72.5 844.5,72.5 844.5,74.6 842.9,74.6 842.9,71.4 841.9,71.4" fill="#fff"/>
<text x="851.2" y="73.03" font-size="3.5" fill="#fff" font-weight="bold" textLength="7.4" lengthAdjust="spacingAndGlyphs">首页</text>
<path d="M864.9 69.7H869.7A1.9 1.9 0 0 1 869.7 73.5H865.9" fill="none" stroke="#fff" stroke-width="0.6"/>
<polygon points="864.5,73.5 866.5,72.2 866.5,74.8" fill="#fff"/>
<text x="873.5" y="73.03" font-size="3.5" fill="#fff" font-weight="bold" textLength="7.5" lengthAdjust="spacingAndGlyphs">返回</text>
<text x="813" y="87.74" font-size="3.4" fill="#fff" font-weight="500" textLength="28" lengthAdjust="spacingAndGlyphs">2020年10月10日</text>
<text x="846.6" y="87.74" font-size="3.4" fill="#fff" font-weight="500" textLength="20.1" lengthAdjust="spacingAndGlyphs">10 : 10 : 00</text>
<text x="870.9" y="87.74" font-size="3.4" fill="#fff" font-weight="500" textLength="10.1" lengthAdjust="spacingAndGlyphs">星期六</text>
<rect x="545.2" y="89.65" width="335.5" height="0.45" fill="url(#hlb)"/>
<rect x="507.65" y="85.7" width="36.4" height="188.4" fill="#04306c" stroke="#15558a" stroke-width="0.35" opacity="0.55"/>
<rect x="507.8" y="85.85" width="36.1" height="32.3" fill="#021a44" opacity="0.85"/>
<rect x="511.7" y="118" width="28" height="0.4" fill="url(#dvb)"/>
<rect x="511.7" y="149.4" width="28" height="0.4" fill="url(#dvb)"/>
<rect x="511.7" y="179.2" width="28" height="0.4" fill="url(#dvb)"/>
<rect x="511.7" y="208.2" width="28" height="0.4" fill="url(#dvb)"/>
<rect x="511.7" y="238.9" width="28" height="0.4" fill="url(#dvb)"/>
<line x1="520.8" y1="106.4" x2="530.4" y2="106.4" stroke="#27b4dc" stroke-width="0.6"/><rect x="521.85" y="102.4" width="0.9" height="3.2" fill="#27b4dc"/><rect x="523.65" y="100.4" width="0.9" height="5.2" fill="#27b4dc"/><rect x="525.45" y="101.6" width="0.9" height="4" fill="#27b4dc"/><rect x="527.25" y="99" width="0.9" height="6.6" fill="#27b4dc"/><rect x="528.85" y="97" width="0.9" height="8.6" fill="#27b4dc"/>
<text x="525.6" y="114.88" font-size="4.1" fill="#27b4dc" text-anchor="middle" font-weight="bold" textLength="17.6" lengthAdjust="spacingAndGlyphs">统计分析</text>
<rect x="521.6" y="129" width="8" height="8.8" fill="none" stroke="#ffffff" stroke-width="0.9"/><rect x="524" y="127.2" width="3.2" height="2" fill="#ffffff"/><rect x="523.6" y="131.8" width="4" height="3.6" fill="#ffffff" opacity="0.75"/>
<text x="525.6" y="144.98" font-size="4.1" fill="#ffffff" text-anchor="middle" font-weight="bold" textLength="17.6" lengthAdjust="spacingAndGlyphs">账户档案</text>
<circle cx="525.6" cy="164.2" r="4.3" fill="none" stroke="#ffffff" stroke-width="0.8"/><rect x="525.15" y="161.6" width="0.9" height="3.4" fill="#ffffff"/><circle cx="525.6" cy="166.3" r="0.6" fill="#ffffff"/>
<text x="525.6" y="175.58" font-size="4.1" fill="#ffffff" text-anchor="middle" font-weight="bold" textLength="17.6" lengthAdjust="spacingAndGlyphs">故障报警</text>
<circle cx="525.6" cy="194.1" r="3.6" fill="none" stroke="#ffffff" stroke-width="1"/><rect x="524.6" y="188" width="2" height="1.3" fill="#ffffff"/><circle cx="525.6" cy="194.1" r="1.5" fill="#ffffff" opacity="0.8"/><line x1="525.6" y1="194.1" x2="527.4" y2="191.9" stroke="#ffffff" stroke-width="0.6"/><rect x="525.2" y="189.1" width="0.8" height="1.4" fill="#ffffff"/>
<text x="525.6" y="204.78" font-size="4.1" fill="#ffffff" text-anchor="middle" font-weight="bold" textLength="17.6" lengthAdjust="spacingAndGlyphs">设备维护</text>
<rect x="521.6" y="219.3" width="6.4" height="8.6" fill="none" stroke="#ffffff" stroke-width="0.8"/><rect x="522.8" y="223.9" width="0.9" height="3" fill="#ffffff"/><rect x="524.3" y="222.5" width="0.9" height="4.4" fill="#ffffff"/><rect x="525.8" y="224.7" width="0.9" height="2.2" fill="#ffffff"/><circle cx="528" cy="222.1" r="2.1" fill="#0a2d66" stroke="#ffffff" stroke-width="0.8"/><line x1="529.5" y1="223.6" x2="530.8" y2="225.1" stroke="#ffffff" stroke-width="0.9"/>
<text x="525.6" y="234.98" font-size="4.1" fill="#ffffff" text-anchor="middle" font-weight="bold" textLength="17.6" lengthAdjust="spacingAndGlyphs">历史查询</text>
<polygon points="527.85,250 530.1,253.9 527.85,257.8 523.35,257.8 521.1,253.9 523.35,250" fill="none" stroke="#ffffff" stroke-width="0.9" stroke-linejoin="round"/><circle cx="525.6" cy="253.9" r="1.7" fill="none" stroke="#ffffff" stroke-width="0.9"/>
<text x="525.6" y="263.68" font-size="4.1" fill="#ffffff" text-anchor="middle" font-weight="bold" textLength="17.6" lengthAdjust="spacingAndGlyphs">系统设置</text>
<defs><linearGradient id="wqb" x1="0" y1="0" x2="0" y2="1"><stop offset="0" stop-color="#27d9e6"/><stop offset="0.3" stop-color="#2fe08a"/><stop offset="0.6" stop-color="#e8d21e"/><stop offset="0.8" stop-color="#f08a1a"/><stop offset="1" stop-color="#d8201a"/></linearGradient><linearGradient id="rgb" x1="0" y1="0" x2="0.3" y2="1"><stop offset="0" stop-color="#22d8d8"/><stop offset="1" stop-color="#48e878"/></linearGradient><radialGradient id="rgfb" cx="0.5" cy="0.5" r="0.5"><stop offset="0" stop-color="#0a3a66"/><stop offset="0.8" stop-color="#0c5a72"/><stop offset="1" stop-color="#14847e"/></radialGradient><linearGradient id="wab" x1="0" y1="0" x2="0" y2="1"><stop offset="0" stop-color="#0f7fae" stop-opacity="0.95"/><stop offset="0.6" stop-color="#0c6a9a" stop-opacity="0.7"/><stop offset="1" stop-color="#0a4f84" stop-opacity="0.35"/></linearGradient><linearGradient id="upb" x1="0" y1="0" x2="0" y2="1"><stop offset="0" stop-color="#22eaa0"/><stop offset="0.6" stop-color="#22c8b8"/><stop offset="1" stop-color="#2a72ea"/></linearGradient><linearGradient id="dnb" x1="0" y1="0" x2="0" y2="1"><stop offset="0" stop-color="#6a58ee"/><stop offset="0.4" stop-color="#b45ee0"/><stop offset="1" stop-color="#f58a7c"/></linearGradient><radialGradient id="gdb" cx="0.5" cy="1" r="1"><stop offset="0" stop-color="#8fd8f0" stop-opacity="0.55"/><stop offset="0.35" stop-color="#1a5a8a" stop-opacity="0.8"/><stop offset="1" stop-color="#145080" stop-opacity="0.85"/></radialGradient><linearGradient id="drb" x1="0" y1="0" x2="0" y2="1"><stop offset="0" stop-color="#35b8f5"/><stop offset="1" stop-color="#1f62d8"/></linearGradient></defs>
<rect x="548.7" y="93.8" width="80.7" height="78.2" fill="#0a4f92" opacity="0.58"/>
<rect x="548.7" y="93.8" width="80.7" height="78.2" fill="none" stroke="#1c5aa8" stroke-width="0.3" opacity="0.8"/>
<rect x="548.2" y="93.3" width="1" height="1" fill="#2f7df0"/>
<rect x="628.9" y="93.3" width="1" height="1" fill="#2f7df0"/>
<rect x="548.2" y="171.5" width="1" height="1" fill="#2f7df0"/>
<rect x="628.9" y="171.5" width="1" height="1" fill="#2f7df0"/>
<rect x="552.3" y="97.1" width="0.55" height="3.8" fill="#36c6f0"/>
<text x="554.3" y="100.48" font-size="3.6" fill="#b4def8" letter-spacing="0.45">今日用水</text>
<line x1="551.7" y1="103.7" x2="626.4" y2="103.7" stroke="#4c86c8" stroke-width="0.3" opacity="0.75"/>
<path d="M564.4 141.2A25.6 25.6 0 0 1 615.6 141.2L615.2 141.2A25.2 25.2 0 0 0 564.8 141.2Z" fill="#6a9ac8" opacity="0.8"/>
<path d="M590 141.2L570.5 141.2A19.5 19.5 0 0 1 609.5 141.2Z" fill="url(#gdb)"/>
<path d="M565.7 141.2A24.3 24.3 0 0 1 590 116.9L590 121.3A19.9 19.9 0 0 0 570.1 141.2Z" fill="#17c8f6"/>
<path d="M590 116.9A24.3 24.3 0 0 1 614.3 141.2L609.9 141.2A19.9 19.9 0 0 0 590 121.3Z" fill="#2a74e2"/>
<path d="M590 141.2L590 121.7A19.5 19.5 0 0 1 609.5 141.2Z" fill="#0a2f66" opacity="0.35"/>
<path d="M590 141.2L581.5 141.2A8.5 8.5 0 0 1 598.5 141.2Z" fill="#9fd8f0" opacity="0.17"/>
<path d="M590 141.2L583.8 141.2A6.2 6.2 0 0 1 596.2 141.2Z" fill="#9fd8f0" opacity="0.23"/>
<path d="M590 141.2L586 141.2A4 4 0 0 1 594 141.2Z" fill="#9fd8f0" opacity="0.3"/>
<polygon points="573.3,131.4 589.6,137 588.4,139.6" fill="#e8f6ff"/>
<circle cx="589" cy="138.6" r="1.9" fill="#d0e8f8"/>
<line x1="560.5" y1="141.4" x2="620.5" y2="141.4" stroke="#5a90c8" stroke-width="0.3" opacity="0.8"/>
<line x1="570.75" y1="123.87" x2="568.08" y2="121.46" stroke="#9fc0e0" stroke-width="0.45"/>
<line x1="566.83" y1="121.95" x2="568.43" y2="120.17" stroke="#9fc0e0" stroke-width="0.45"/>
<line x1="590" y1="115.3" x2="590" y2="111.7" stroke="#9fc0e0" stroke-width="0.45"/>
<line x1="588.8" y1="111.1" x2="591.2" y2="111.1" stroke="#9fc0e0" stroke-width="0.45"/>
<line x1="609.25" y1="123.87" x2="611.92" y2="121.46" stroke="#9fc0e0" stroke-width="0.45"/>
<line x1="611.57" y1="120.17" x2="613.17" y2="121.95" stroke="#9fc0e0" stroke-width="0.45"/>
<rect x="564.3" y="141" width="2.2" height="1.4" fill="#17c8f6"/>
<rect x="612.6" y="141" width="2.2" height="1.4" fill="#2a74e2"/>
<text x="561.5" y="141.97" font-size="1.8" fill="#9fc0e0" text-anchor="end">0.00</text>
<text x="618.5" y="141.97" font-size="1.8" fill="#9fc0e0">5.00</text>
<text x="589.6" y="148.8" text-anchor="middle" dominant-baseline="alphabetic" fill="#1fc8f2" font-weight="bold" font-family='"Liberation Serif","Noto Serif CJK SC",serif'><tspan font-size="5.6" letter-spacing="0.6">150</tspan><tspan font-size="3.2">T</tspan></text>
<circle cx="562.6" cy="155.7" r="0.95" fill="none" stroke="#1fc8f2" stroke-width="0.35"/>
<text x="564.8" y="156.72" font-size="2.5" fill="#d8ecff" textLength="20.5" lengthAdjust="spacingAndGlyphs">水压下限总警报</text>
<circle cx="589.3" cy="155.7" r="0.95" fill="none" stroke="#1fc8f2" stroke-width="0.35"/>
<text x="591.5" y="156.72" font-size="2.5" fill="#d8ecff" textLength="11.3" lengthAdjust="spacingAndGlyphs">流水警报</text>
<circle cx="606.8" cy="155.7" r="0.95" fill="none" stroke="#1fc8f2" stroke-width="0.35"/>
<text x="609" y="156.72" font-size="2.5" fill="#d8ecff" textLength="11.3" lengthAdjust="spacingAndGlyphs">停水警报</text>
<rect x="631.9" y="93.8" width="80.8" height="78.2" fill="#0a4f92" opacity="0.58"/>
<rect x="631.9" y="93.8" width="80.8" height="78.2" fill="none" stroke="#1c5aa8" stroke-width="0.3" opacity="0.8"/>
<rect x="631.4" y="93.3" width="1" height="1" fill="#2f7df0"/>
<rect x="712.2" y="93.3" width="1" height="1" fill="#2f7df0"/>
<rect x="631.4" y="171.5" width="1" height="1" fill="#2f7df0"/>
<rect x="712.2" y="171.5" width="1" height="1" fill="#2f7df0"/>
<rect x="635.5" y="97.1" width="0.55" height="3.8" fill="#36c6f0"/>
<text x="637.5" y="100.48" font-size="3.6" fill="#b4def8" letter-spacing="0.45">水质检测</text>
<line x1="634.9" y1="103.7" x2="709.7" y2="103.7" stroke="#4c86c8" stroke-width="0.3" opacity="0.75"/>
<circle cx="658.3" cy="132.2" r="19.3" fill="#22d8c0" opacity="0.16"/>
<circle cx="658.3" cy="132.2" r="18.4" fill="#22d8c0" opacity="0.2"/>
<circle cx="658.3" cy="132.2" r="16.9" fill="url(#rgfb)" stroke="url(#rgb)" stroke-width="2"/>
<circle cx="658.3" cy="132.2" r="14.6" fill="none" stroke="#1a8a8a" stroke-width="0.3" opacity="0.8"/>
<text x="658.3" y="134.18" font-size="10.2" fill="#5cea5c" text-anchor="middle" font-weight="bold" letter-spacing="0.2">良好</text>
<text x="658.3" y="140.64" font-size="3.9" fill="#5cea5c" text-anchor="middle" font-weight="bold">80</text>
<rect x="696.2" y="112.9" width="2.5" height="39.6" fill="url(#wqb)" rx="1.2"/>
<rect x="695.6" y="123.6" width="3.7" height="0.7" fill="#1fd8e8"/>
<text x="691.8" y="114.6" font-size="2.6" fill="#d8ecff" text-anchor="middle" writing-mode="tb" style="writing-mode:vertical-rl" dominant-baseline="central">优秀</text>
<text x="691.8" y="124.6" font-size="2.6" fill="#d8ecff" text-anchor="middle" writing-mode="tb" style="writing-mode:vertical-rl" dominant-baseline="central">良好</text>
<text x="691.8" y="135.3" font-size="2.6" fill="#d8ecff" text-anchor="middle" writing-mode="tb" style="writing-mode:vertical-rl" dominant-baseline="central">警报</text>
<text x="691.8" y="145.5" font-size="2.6" fill="#d8ecff" text-anchor="middle" writing-mode="tb" style="writing-mode:vertical-rl" dominant-baseline="central">危险</text>
<circle cx="649.3" cy="159.2" r="1.6" fill="none" stroke="#c8dcf0" stroke-width="0.35"/>
<circle cx="649.3" cy="159.2" r="0.6" fill="none" stroke="#c8dcf0" stroke-width="0.3"/>
<text x="653" y="160.31" font-size="2.7" fill="#d8ecff" textLength="41" lengthAdjust="spacingAndGlyphs">水质良好，请继续保持下去！</text>
<rect x="715.5" y="93.8" width="80.6" height="78.2" fill="#0a4f92" opacity="0.58"/>
<rect x="715.5" y="93.8" width="80.6" height="78.2" fill="none" stroke="#1c5aa8" stroke-width="0.3" opacity="0.8"/>
<rect x="715" y="93.3" width="1" height="1" fill="#2f7df0"/>
<rect x="795.6" y="93.3" width="1" height="1" fill="#2f7df0"/>
<rect x="715" y="171.5" width="1" height="1" fill="#2f7df0"/>
<rect x="795.6" y="171.5" width="1" height="1" fill="#2f7df0"/>
<rect x="719.1" y="97.1" width="0.55" height="3.8" fill="#36c6f0"/>
<text x="721.1" y="100.48" font-size="3.6" fill="#b4def8" letter-spacing="0.45">年水表报警信息分析</text>
<line x1="718.5" y1="103.7" x2="793.1" y2="103.7" stroke="#4c86c8" stroke-width="0.3" opacity="0.75"/>
<path d="M752.7 116A17.1 17.1 0 0 1 765.8 122.11L762.05 125.26A12.2 12.2 0 0 0 752.7 120.9Z" fill="#5eea5e"/>
<path d="M765.8 122.11A17.1 17.1 0 0 1 769.8 133.1L764.9 133.1A12.2 12.2 0 0 0 762.05 125.26Z" fill="#c77ddc"/>
<path d="M769.8 133.1A17.1 17.1 0 0 1 766.17 143.63L762.31 140.61A12.2 12.2 0 0 0 764.9 133.1Z" fill="#5cb8ff"/>
<path d="M766.17 143.63A17.1 17.1 0 0 1 761.25 147.91L758.8 143.67A12.2 12.2 0 0 0 762.31 140.61Z" fill="#f29220"/>
<path d="M761.25 147.91A17.1 17.1 0 1 1 752.7 116L752.7 120.9A12.2 12.2 0 1 0 758.8 143.67Z" fill="#1e90ff"/>
<polyline points="760.73,118 764.2,111.8 766.3,111.8" fill="none" stroke="#5eea5e" stroke-width="0.3"/>
<text x="767.2" y="112.62" font-size="2.5" fill="#5eea5e" textLength="17.5" lengthAdjust="spacingAndGlyphs">24小时三期报警</text>
<polyline points="768.55,126.69 771.5,119.8" fill="none" stroke="#c77ddc" stroke-width="0.3"/>
<text x="772.6" y="120.62" font-size="2.5" fill="#c77ddc" textLength="17.5" lengthAdjust="spacingAndGlyphs">超月下限流报警</text>
<polyline points="768.96,138.38 772.5,141.8 774.2,141.8" fill="none" stroke="#5cb8ff" stroke-width="0.3"/>
<text x="775.2" y="140.93" font-size="2.5" fill="#5cb8ff" textLength="12.2" lengthAdjust="spacingAndGlyphs">水压下限B</text>
<text x="775.2" y="144.62" font-size="2.5" fill="#5cb8ff">报警</text>
<polyline points="763.69,146.2 765.5,148.8 769,148.8" fill="none" stroke="#f29220" stroke-width="0.3"/>
<text x="770" y="149.62" font-size="2.5" fill="#f29220" textLength="15.5" lengthAdjust="spacingAndGlyphs">设备未知报警</text>
<polyline points="735.77,135.48 731.5,137.5 729,137.5" fill="none" stroke="#1e90ff" stroke-width="0.3"/>
<text x="728.4" y="138.22" font-size="2.5" fill="#4aa8ff" text-anchor="end" textLength="10.2" lengthAdjust="spacingAndGlyphs">漏水报警</text>
<rect x="727.5" y="157.1" width="1.8" height="1.2" fill="#1e90ff"/>
<text x="730.1" y="158.56" font-size="2.1" fill="#d8ecff" textLength="8.6" lengthAdjust="spacingAndGlyphs">漏水报警</text>
<rect x="744.2" y="157.1" width="1.8" height="1.2" fill="#5eea5e"/>
<text x="746.8" y="158.56" font-size="2.1" fill="#d8ecff" textLength="14.5" lengthAdjust="spacingAndGlyphs">24小时三期报警</text>
<rect x="765.4" y="157.1" width="1.8" height="1.2" fill="#c77ddc"/>
<text x="768" y="158.56" font-size="2.1" fill="#d8ecff" textLength="14.5" lengthAdjust="spacingAndGlyphs">超月下限流报警</text>
<rect x="727.5" y="161.8" width="1.8" height="1.2" fill="#5cb8ff"/>
<text x="730.1" y="163.26" font-size="2.1" fill="#d8ecff" textLength="14" lengthAdjust="spacingAndGlyphs">水压下限B报警</text>
<rect x="752.7" y="161.8" width="1.8" height="1.2" fill="#f29220"/>
<text x="755.3" y="163.26" font-size="2.1" fill="#d8ecff" textLength="12.2" lengthAdjust="spacingAndGlyphs">设备未知报警</text>
<rect x="801.2" y="94.4" width="78.4" height="23.1" fill="#06306a" rx="1.6" opacity="0.45"/>
<rect x="801.2" y="94.4" width="78.4" height="23.1" fill="none" rx="1.6" stroke="#2a7fc0" stroke-width="0.4" opacity="0.9"/>
<text x="807.6" y="99.54" font-size="3.5" fill="#fff" font-weight="500">本月用水量</text>
<text x="807.4" y="109.3" fill="#1fd0ee" font-weight="bold" dominant-baseline="alphabetic"><tspan font-size="8.3" stroke="#1fd0ee" stroke-width="0.3" letter-spacing="0.15">800</tspan><tspan font-size="4.6" dx="0.3" fill="#e8f6ff">T</tspan></text>
<text x="807.6" y="115.3" font-size="3.5" fill="#fff">同期比上月上涨1.5%<tspan fill="#1fd0ee" dx="0.4" font-weight="bold" font-size="4.6">↑</tspan></text>
<circle cx="863.9" cy="105.8" r="11.6" fill="none" stroke="#1f86dc" stroke-width="0.55" opacity="0.75" stroke-dasharray="15 5"/>
<circle cx="863.9" cy="105.8" r="9.4" fill="none" stroke="#2a8fe0" stroke-width="0.5" opacity="0.9" stroke-dasharray="20 5 8 5"/>
<circle cx="863.9" cy="105.8" r="7.4" fill="#0a3a78" stroke="#2a8fe0" stroke-width="0.5" opacity="0.95"/>
<path d="M863.9 101.6C865.3 104 866.8 105.6 866.8 107.3C866.8 111 861 111 861 107.3Z" fill="url(#drb)"/>
<rect x="801.2" y="121.4" width="78.4" height="23.1" fill="#06306a" rx="1.6" opacity="0.45"/>
<rect x="801.2" y="121.4" width="78.4" height="23.1" fill="none" rx="1.6" stroke="#2a7fc0" stroke-width="0.4" opacity="0.9"/>
<text x="807.6" y="126.54" font-size="3.5" fill="#fff" font-weight="500">本月水费</text>
<text x="807.4" y="136.3" fill="#1fd0ee" font-weight="bold" dominant-baseline="alphabetic"><tspan font-size="8.3" stroke="#1fd0ee" stroke-width="0.3" letter-spacing="0.15">1000</tspan><tspan font-size="4.6" dx="0.3" fill="#e8f6ff">元</tspan></text>
<text x="807.6" y="142.3" font-size="3.5" fill="#fff">同比比上月下降0.5%<tspan fill="#1fd0ee" dx="0.4" font-weight="bold" font-size="4.6">↓</tspan></text>
<circle cx="863.9" cy="132.8" r="11.6" fill="none" stroke="#1f86dc" stroke-width="0.55" opacity="0.75" stroke-dasharray="15 5"/>
<circle cx="863.9" cy="132.8" r="9.4" fill="none" stroke="#2a8fe0" stroke-width="0.5" opacity="0.9" stroke-dasharray="20 5 8 5"/>
<circle cx="863.9" cy="132.8" r="7.4" fill="#0a3a78" stroke="#2a8fe0" stroke-width="0.5" opacity="0.95"/>
<rect x="860.9" y="129" width="6" height="7.6" fill="none" rx="0.4" stroke="#2a7ad8" stroke-width="0.5"/>
<text x="863.7" y="134.1" font-size="4.6" fill="#2a8ae8" text-anchor="middle" font-weight="bold">¥</text>
<circle cx="866.5" cy="135.8" r="1.5" fill="#2fb0f0"/>
<rect x="801.2" y="148.4" width="78.4" height="23.1" fill="#06306a" rx="1.6" opacity="0.45"/>
<rect x="801.2" y="148.4" width="78.4" height="23.1" fill="none" rx="1.6" stroke="#2a7fc0" stroke-width="0.4" opacity="0.9"/>
<text x="807.6" y="153.53" font-size="3.5" fill="#fff" font-weight="500">本月警报次数</text>
<text x="807.4" y="163.3" fill="#1fd0ee" font-weight="bold" dominant-baseline="alphabetic"><tspan font-size="8.3" stroke="#1fd0ee" stroke-width="0.3" letter-spacing="0.15">1</tspan><tspan font-size="4.6" dx="0.3" fill="#e8f6ff">次</tspan></text>
<text x="807.6" y="169.3" font-size="3.5" fill="#fff">与上个月份警报次数持平<tspan fill="#1fd0ee" dx="0.4" font-weight="bold" font-size="4.6">—</tspan></text>
<circle cx="863.9" cy="159.8" r="11.6" fill="none" stroke="#1f86dc" stroke-width="0.55" opacity="0.75" stroke-dasharray="15 5"/>
<circle cx="863.9" cy="159.8" r="9.4" fill="none" stroke="#2a8fe0" stroke-width="0.5" opacity="0.9" stroke-dasharray="20 5 8 5"/>
<circle cx="863.9" cy="159.8" r="7.4" fill="#0a3a78" stroke="#2a8fe0" stroke-width="0.5" opacity="0.95"/>
<path d="M863.9 155.9C866.1 155.9 866.5 158.2 866.5 160.2L867.5 162.4L860.3 162.4L861.3 160.2C861.3 158.2 861.7 155.9 863.9 155.9Z" fill="url(#drb)"/>
<circle cx="863.9" cy="163.3" r="0.9" fill="#2a7ae0"/>
<path d="M866.77 155.1A5 5 0 0 1 868.73 157.91" fill="none" stroke="#2a8ae8" stroke-width="0.45"/>
<path d="M859.07 157.91A5 5 0 0 1 861.03 155.1" fill="none" stroke="#2a8ae8" stroke-width="0.45"/>
<rect x="548.8" y="175" width="165" height="98.5" fill="#0a4f92" opacity="0.43"/>
<rect x="548.8" y="175" width="165" height="98.5" fill="none" stroke="#1c5aa8" stroke-width="0.3" opacity="0.8"/>
<rect x="548.3" y="174.5" width="1" height="1" fill="#2f7df0"/>
<rect x="713.3" y="174.5" width="1" height="1" fill="#2f7df0"/>
<rect x="548.3" y="273" width="1" height="1" fill="#2f7df0"/>
<rect x="713.3" y="273" width="1" height="1" fill="#2f7df0"/>
<rect x="552.4" y="180.3" width="0.55" height="3.8" fill="#36c6f0"/>
<text x="554.4" y="183.68" font-size="3.6" fill="#b4def8" letter-spacing="0.45">用水量及水费分析</text>
<line x1="551.8" y1="186.9" x2="710.8" y2="186.9" stroke="#4c86c8" stroke-width="0.3" opacity="0.75"/>
<rect x="654.9" y="192.65" width="16.4" height="4.3" fill="#2a6fe6" rx="2.15"/><text x="661.9" y="195.91" font-size="2.7" fill="#fff" text-anchor="middle">2020年</text><polygon points="666.8,194.3 668.6,194.3 667.7,195.5" fill="#fff"/>
<rect x="674" y="192.65" width="16.5" height="4.3" fill="#2a6fe6" rx="2.15"/><text x="681.05" y="195.91" font-size="2.7" fill="#fff" text-anchor="middle">10日</text><polygon points="686,194.3 687.8,194.3 686.9,195.5" fill="#fff"/>
<rect x="693" y="192.65" width="16.6" height="4.3" fill="#2a6fe6" rx="2.15"/><text x="699.7" y="195.91" font-size="2.7" fill="#fff" text-anchor="middle" letter-spacing="0.6">全区</text><circle cx="706" cy="194.6" r="1" fill="none" stroke="#fff" stroke-width="0.35"/><line x1="706.7" y1="195.3" x2="707.5" y2="196.1" stroke="#fff" stroke-width="0.35"/>
<rect x="683" y="200.7" width="3.6" height="2.4" fill="#1fb8c8"/>
<text x="687.6" y="202.84" font-size="2.3" fill="#d8ecff" textLength="8.2" lengthAdjust="spacingAndGlyphs">用水量</text>
<line x1="698.4" y1="201.9" x2="701.4" y2="201.9" stroke="#1fb8d8" stroke-width="0.4"/>
<text x="703" y="202.84" font-size="2.3" fill="#d8ecff" textLength="6" lengthAdjust="spacingAndGlyphs">水费</text>
<text x="552.7" y="207.52" font-size="2" fill="#d8ecff">单位 : 用水量 T</text>
<text x="709.2" y="207.52" font-size="2" fill="#d8ecff" text-anchor="end">单位 : 水费 元</text>
<text x="556.3" y="213.3" font-size="1.9" fill="#cfe4f8" text-anchor="end">1200</text>
<text x="704.6" y="213.38" font-size="1.9" fill="#cfe4f8">1200元</text>
<line x1="557.6" y1="212.6" x2="703.2" y2="212.6" stroke="#3f9ad0" stroke-width="0.22" opacity="0.5"/>
<text x="556.3" y="221.98" font-size="1.9" fill="#cfe4f8" text-anchor="end">1000</text>
<text x="704.6" y="222.06" font-size="1.9" fill="#cfe4f8">1000元</text>
<line x1="557.6" y1="221.28" x2="703.2" y2="221.28" stroke="#3f9ad0" stroke-width="0.22" opacity="0.5"/>
<text x="556.3" y="230.66" font-size="1.9" fill="#cfe4f8" text-anchor="end">800</text>
<text x="704.6" y="230.74" font-size="1.9" fill="#cfe4f8">800元</text>
<line x1="557.6" y1="229.96" x2="703.2" y2="229.96" stroke="#3f9ad0" stroke-width="0.22" opacity="0.5"/>
<text x="556.3" y="239.34" font-size="1.9" fill="#cfe4f8" text-anchor="end">600</text>
<text x="704.6" y="239.42" font-size="1.9" fill="#cfe4f8">600元</text>
<line x1="557.6" y1="238.64" x2="703.2" y2="238.64" stroke="#3f9ad0" stroke-width="0.22" opacity="0.5"/>
<text x="556.3" y="248.02" font-size="1.9" fill="#cfe4f8" text-anchor="end">400</text>
<text x="704.6" y="248.1" font-size="1.9" fill="#cfe4f8">400元</text>
<line x1="557.6" y1="247.32" x2="703.2" y2="247.32" stroke="#3f9ad0" stroke-width="0.22" opacity="0.5"/>
<text x="556.3" y="256.7" font-size="1.9" fill="#cfe4f8" text-anchor="end">200</text>
<text x="704.6" y="256.78" font-size="1.9" fill="#cfe4f8">200元</text>
<line x1="557.6" y1="256" x2="703.2" y2="256" stroke="#3f9ad0" stroke-width="0.22" opacity="0.5"/>
<line x1="557.6" y1="209.5" x2="557.6" y2="256" stroke="#4a9ad8" stroke-width="0.35"/>
<polygon points="557.6,240.4 563.8,237.4 576.2,234.5 586.3,229.6 598.2,225.1 609.8,230 621.7,228 634.2,221.2 644.6,212 655.7,217.5 668,232.1 681.1,235.9 692.4,244.8 703.2,243.3 703.2,256 557.6,256" fill="#041f4c" opacity="0.55"/>
<polygon points="557.6,243 563.8,240 576.2,237.1 586.3,232.2 598.2,227.7 609.8,232.6 621.7,230.6 634.2,223.8 644.6,214.6 655.7,220.1 668,234.7 681.1,238.5 692.4,247.4 703.2,245.9 703.2,256 557.6,256" fill="url(#wab)"/>
<polyline points="557.6,240.4 563.8,237.4 576.2,234.5 586.3,229.6 598.2,225.1 609.8,230 621.7,228 634.2,221.2 644.6,212 655.7,217.5 668,232.1 681.1,235.9 692.4,244.8 703.2,243.3" fill="none" stroke="#1fb4dc" stroke-width="0.55" stroke-linejoin="round"/>
<circle cx="563.8" cy="237.4" r="0.75" fill="#0a3f74" stroke="#3fd0f0" stroke-width="0.35"/>
<circle cx="576.2" cy="234.5" r="0.75" fill="#0a3f74" stroke="#3fd0f0" stroke-width="0.35"/>
<circle cx="586.3" cy="229.6" r="0.75" fill="#0a3f74" stroke="#3fd0f0" stroke-width="0.35"/>
<circle cx="598.2" cy="225.1" r="0.75" fill="#0a3f74" stroke="#3fd0f0" stroke-width="0.35"/>
<circle cx="609.8" cy="230" r="0.75" fill="#0a3f74" stroke="#3fd0f0" stroke-width="0.35"/>
<circle cx="621.7" cy="228" r="0.75" fill="#0a3f74" stroke="#3fd0f0" stroke-width="0.35"/>
<circle cx="634.2" cy="221.2" r="0.75" fill="#0a3f74" stroke="#3fd0f0" stroke-width="0.35"/>
<circle cx="644.6" cy="212" r="0.75" fill="#0a3f74" stroke="#3fd0f0" stroke-width="0.35"/>
<circle cx="655.7" cy="217.5" r="0.75" fill="#0a3f74" stroke="#3fd0f0" stroke-width="0.35"/>
<circle cx="668" cy="232.1" r="0.75" fill="#0a3f74" stroke="#3fd0f0" stroke-width="0.35"/>
<circle cx="681.1" cy="235.9" r="0.75" fill="#0a3f74" stroke="#3fd0f0" stroke-width="0.35"/>
<circle cx="692.4" cy="244.8" r="0.75" fill="#0a3f74" stroke="#3fd0f0" stroke-width="0.35"/>
<line x1="557.6" y1="215.3" x2="703.2" y2="215.3" stroke="#d83838" stroke-width="0.3" opacity="0.85"/>
<line x1="644.6" y1="212" x2="644.6" y2="256" stroke="#d83838" stroke-width="0.35"/>
<line x1="586.3" y1="209" x2="586.3" y2="256" stroke="#e8f0f8" stroke-width="0.4"/>
<rect x="589.2" y="227.3" width="9" height="4.6" fill="#f4f8fc" rx="0.4"/>
<text x="593.7" y="230.55" font-size="2.3" fill="#334">2000</text>
<g text-anchor="middle"><text x="593.7" y="230.55" font-size="2.3" fill="#445566">2000</text></g>
<circle cx="586.3" cy="229.6" r="0.9" fill="#fff"/>
<rect x="647.1" y="209.6" width="9.6" height="4.5" fill="#e23a3a" rx="0.4"/>
<g text-anchor="middle"><text x="651.9" y="212.75" font-size="2.3" fill="#ffd8d8">1500</text></g>
<circle cx="644.6" cy="212" r="0.9" fill="#e23a3a"/>
<text x="563.8" y="260.2" font-size="2.2" fill="#cfe4f8" text-anchor="middle">1月</text>
<text x="575.2" y="260.2" font-size="2.2" fill="#cfe4f8" text-anchor="middle">2月</text>
<text x="586.5" y="260.2" font-size="2.2" fill="#cfe4f8" text-anchor="middle">3月</text>
<text x="597.7" y="260.2" font-size="2.2" fill="#cfe4f8" text-anchor="middle">4月</text>
<text x="609.8" y="260.2" font-size="2.2" fill="#cfe4f8" text-anchor="middle">5月</text>
<text x="622" y="260.2" font-size="2.2" fill="#cfe4f8" text-anchor="middle">6月</text>
<text x="634.4" y="260.2" font-size="2.2" fill="#cfe4f8" text-anchor="middle">7月</text>
<text x="644.6" y="260.2" font-size="2.2" fill="#cfe4f8" text-anchor="middle">8月</text>
<text x="655.7" y="260.2" font-size="2.2" fill="#cfe4f8" text-anchor="middle">9月</text>
<text x="667" y="260.2" font-size="2.2" fill="#cfe4f8" text-anchor="middle">10月</text>
<text x="679.1" y="260.2" font-size="2.2" fill="#cfe4f8" text-anchor="middle">11月</text>
<text x="692.4" y="260.2" font-size="2.2" fill="#cfe4f8" text-anchor="middle">12月</text>
<rect x="715" y="175" width="165.9" height="98.5" fill="#0a4f92" opacity="0.43"/>
<rect x="715" y="175" width="165.9" height="98.5" fill="none" stroke="#1c5aa8" stroke-width="0.3" opacity="0.8"/>
<rect x="714.5" y="174.5" width="1" height="1" fill="#2f7df0"/>
<rect x="880.4" y="174.5" width="1" height="1" fill="#2f7df0"/>
<rect x="714.5" y="273" width="1" height="1" fill="#2f7df0"/>
<rect x="880.4" y="273" width="1" height="1" fill="#2f7df0"/>
<rect x="718.6" y="180.3" width="0.55" height="3.8" fill="#36c6f0"/>
<text x="720.6" y="183.68" font-size="3.6" fill="#b4def8" letter-spacing="0.45">不同时间段用水情况</text>
<line x1="718" y1="186.9" x2="877.9" y2="186.9" stroke="#4c86c8" stroke-width="0.3" opacity="0.75"/>
<rect x="816.5" y="192.65" width="17" height="4.3" fill="#2a6fe6" rx="2.15"/><text x="823.8" y="195.91" font-size="2.7" fill="#fff" text-anchor="middle">2020年</text><polygon points="829,194.3 830.8,194.3 829.9,195.5" fill="#fff"/>
<rect x="835.7" y="192.65" width="17" height="4.3" fill="#2a6fe6" rx="2.15"/><text x="843" y="195.91" font-size="2.7" fill="#fff" text-anchor="middle">10日</text><polygon points="848.2,194.3 850,194.3 849.1,195.5" fill="#fff"/>
<rect x="854.6" y="192.65" width="17.2" height="4.3" fill="#2a6fe6" rx="2.15"/><text x="861.6" y="195.91" font-size="2.7" fill="#fff" text-anchor="middle" letter-spacing="0.6">全区</text><circle cx="868.2" cy="194.6" r="1" fill="none" stroke="#fff" stroke-width="0.35"/><line x1="868.9" y1="195.3" x2="869.7" y2="196.1" stroke="#fff" stroke-width="0.35"/>
<rect x="733.95" y="216.9" width="1.7" height="13.7" fill="url(#upb)" rx="0.5"/>
<rect x="733.95" y="230.6" width="1.7" height="14.2" fill="url(#dnb)" rx="0.5"/>
<rect x="745.35" y="220.8" width="1.7" height="9.8" fill="url(#upb)" rx="0.5"/>
<rect x="745.35" y="230.6" width="1.7" height="10.1" fill="url(#dnb)" rx="0.5"/>
<rect x="756.45" y="209.1" width="1.7" height="21.5" fill="url(#upb)" rx="0.5"/>
<rect x="756.45" y="230.6" width="1.7" height="22.5" fill="url(#dnb)" rx="0.5"/>
<rect x="767.75" y="215.9" width="1.7" height="14.7" fill="url(#upb)" rx="0.5"/>
<rect x="767.75" y="230.6" width="1.7" height="15.2" fill="url(#dnb)" rx="0.5"/>
<rect x="779.85" y="225.1" width="1.7" height="5.5" fill="url(#upb)" rx="0.5"/>
<rect x="779.85" y="230.6" width="1.7" height="6.2" fill="url(#dnb)" rx="0.5"/>
<rect x="791.65" y="210.6" width="1.7" height="20" fill="url(#upb)" rx="0.5"/>
<rect x="791.65" y="230.6" width="1.7" height="20.1" fill="url(#dnb)" rx="0.5"/>
<rect x="803.95" y="206.7" width="1.7" height="23.9" fill="url(#upb)" rx="0.5"/>
<rect x="803.95" y="230.6" width="1.7" height="24.4" fill="url(#dnb)" rx="0.5"/>
<rect x="815.65" y="213" width="1.7" height="17.6" fill="url(#upb)" rx="0.5"/>
<rect x="815.65" y="230.6" width="1.7" height="18.2" fill="url(#dnb)" rx="0.5"/>
<rect x="826.45" y="222.8" width="1.7" height="7.8" fill="url(#upb)" rx="0.5"/>
<rect x="826.45" y="230.6" width="1.7" height="8.2" fill="url(#dnb)" rx="0.5"/>
<rect x="838.15" y="225.1" width="1.7" height="5.5" fill="url(#upb)" rx="0.5"/>
<rect x="838.15" y="230.6" width="1.7" height="5.8" fill="url(#dnb)" rx="0.5"/>
<rect x="850.25" y="225.1" width="1.7" height="5.5" fill="url(#upb)" rx="0.5"/>
<rect x="850.25" y="230.6" width="1.7" height="6.2" fill="url(#dnb)" rx="0.5"/>
<rect x="861.55" y="219.2" width="1.7" height="11.4" fill="url(#upb)" rx="0.5"/>
<rect x="861.55" y="230.6" width="1.7" height="12.1" fill="url(#dnb)" rx="0.5"/>
<line x1="726.6" y1="230.6" x2="870.6" y2="230.6" stroke="#b8c8e0" stroke-width="0.4"/>
<line x1="726.6" y1="260.5" x2="870.6" y2="260.5" stroke="#9ab4d4" stroke-width="0.35"/>
<rect x="756.6" y="251.9" width="1.4" height="1.8" fill="#e8f0f8"/>
<text x="759.2" y="253.62" font-size="2" fill="#d8ecff" textLength="30" lengthAdjust="spacingAndGlyphs">日间水量 比 夜间水量对比</text>
<text x="734.8" y="264.6" font-size="2.7" fill="#fff" text-anchor="middle">07:00</text>
<text x="734.8" y="268.3" font-size="2.7" fill="#fff" text-anchor="middle">-09:00</text>
<text x="746.2" y="264.6" font-size="2.7" fill="#fff" text-anchor="middle">09:00</text>
<text x="746.2" y="268.3" font-size="2.7" fill="#fff" text-anchor="middle">11:00</text>
<text x="757.3" y="264.6" font-size="2.7" fill="#fff" text-anchor="middle">11:00</text>
<text x="757.3" y="268.3" font-size="2.7" fill="#fff" text-anchor="middle">13:00</text>
<text x="768.6" y="264.6" font-size="2.7" fill="#fff" text-anchor="middle">13:00</text>
<text x="768.6" y="268.3" font-size="2.7" fill="#fff" text-anchor="middle">14:00</text>
<text x="780.7" y="264.6" font-size="2.7" fill="#fff" text-anchor="middle">15:00</text>
<text x="780.7" y="268.3" font-size="2.7" fill="#fff" text-anchor="middle">16:00</text>
<text x="792.5" y="264.6" font-size="2.7" fill="#fff" text-anchor="middle">17:00</text>
<text x="792.5" y="268.3" font-size="2.7" fill="#fff" text-anchor="middle">18:00</text>
<text x="804.8" y="264.6" font-size="2.7" fill="#fff" text-anchor="middle">19:00</text>
<text x="804.8" y="268.3" font-size="2.7" fill="#fff" text-anchor="middle">20:00</text>
<text x="816.5" y="264.6" font-size="2.7" fill="#fff" text-anchor="middle">21:00</text>
<text x="816.5" y="268.3" font-size="2.7" fill="#fff" text-anchor="middle">22:00</text>
<text x="827.3" y="264.6" font-size="2.7" fill="#fff" text-anchor="middle">23:00</text>
<text x="827.3" y="268.3" font-size="2.7" fill="#fff" text-anchor="middle">24:00</text>
<text x="839" y="264.6" font-size="2.7" fill="#fff" text-anchor="middle">01:00</text>
<text x="839" y="268.3" font-size="2.7" fill="#fff" text-anchor="middle">02:00</text>
<text x="851.1" y="264.6" font-size="2.7" fill="#fff" text-anchor="middle">03:00</text>
<text x="851.1" y="268.3" font-size="2.7" fill="#fff" text-anchor="middle">04:00</text>
<text x="862.4" y="264.6" font-size="2.7" fill="#fff" text-anchor="middle">05:00</text>
<text x="862.4" y="268.3" font-size="2.7" fill="#fff" text-anchor="middle">06:00</text>
</svg>
<svg class="dash" style="left:111.2px;top:285.4px" width="1924" height="1075" viewBox="111.2 285.4 384.8 215" font-family='"Liberation Sans","Noto Sans CJK SC",sans-serif' font-weight="500">
<defs>
<linearGradient id="bgc" x1="0" y1="0" x2="0" y2="1"><stop offset="0" stop-color="#021f4a"/><stop offset="0.45" stop-color="#03224f"/><stop offset="1" stop-color="#031d47"/></linearGradient>
<radialGradient id="glc" cx="0.45" cy="0.3" r="0.52"><stop offset="0" stop-color="#0a5290" stop-opacity="0.32"/><stop offset="1" stop-color="#06306a" stop-opacity="0"/></radialGradient>
<linearGradient id="hlc" x1="0" y1="0" x2="1" y2="0"><stop offset="0" stop-color="#7fb6ea" stop-opacity="0"/><stop offset="0.25" stop-color="#8fc2f0" stop-opacity="0.9"/><stop offset="1" stop-color="#b8dcff" stop-opacity="1"/></linearGradient>
<linearGradient id="dvc" x1="0" y1="0" x2="1" y2="0"><stop offset="0" stop-color="#7fb6ea" stop-opacity="0"/><stop offset="0.5" stop-color="#8fc2f0" stop-opacity="0.9"/><stop offset="1" stop-color="#7fb6ea" stop-opacity="0"/></linearGradient>
<linearGradient id="hbc" x1="0" y1="0" x2="0" y2="1"><stop offset="0" stop-color="#0c5480" stop-opacity="0.85"/><stop offset="0.3" stop-color="#0a4674" stop-opacity="0.45"/><stop offset="1" stop-color="#0a4070" stop-opacity="0"/></linearGradient>
</defs>
<rect x="111.2" y="285.4" width="384.8" height="215" fill="url(#bgc)"/>
<rect x="111.2" y="285.4" width="384.8" height="215" fill="url(#glc)"/>
<g fill="#9fd0ff"><circle cx="455.3" cy="375.6" r="0.25" opacity="0.43"/><circle cx="408.53" cy="456.27" r="0.34" opacity="0.27"/><circle cx="196.39" cy="319.29" r="0.43" opacity="0.36"/><circle cx="335.27" cy="496.17" r="0.28" opacity="0.18"/><circle cx="184.63" cy="488.05" r="0.2" opacity="0.15"/><circle cx="475.93" cy="308.82" r="0.32" opacity="0.27"/><circle cx="293.96" cy="459.31" r="0.39" opacity="0.46"/><circle cx="415.28" cy="446.11" r="0.41" opacity="0.55"/><circle cx="176.14" cy="360.59" r="0.45" opacity="0.49"/><circle cx="224.07" cy="439.5" r="0.33" opacity="0.34"/><circle cx="334.79" cy="435.9" r="0.27" opacity="0.33"/><circle cx="135.73" cy="308.78" r="0.23" opacity="0.42"/><circle cx="398.15" cy="310.94" r="0.27" opacity="0.16"/><circle cx="157.43" cy="353.41" r="0.39" opacity="0.17"/><circle cx="447.33" cy="455.24" r="0.45" opacity="0.5"/><circle cx="345.49" cy="452.97" r="0.25" opacity="0.25"/><circle cx="425.99" cy="417.69" r="0.41" opacity="0.47"/><circle cx="367.13" cy="425.31" r="0.19" opacity="0.4"/><circle cx="340.31" cy="441.25" r="0.29" opacity="0.34"/><circle cx="259.81" cy="434.23" r="0.24" opacity="0.18"/><circle cx="408.56" cy="371.14" r="0.42" opacity="0.53"/><circle cx="455.89" cy="428.79" r="0.47" opacity="0.48"/><circle cx="235.78" cy="438.81" r="0.31" opacity="0.43"/><circle cx="204.43" cy="327.74" r="0.24" opacity="0.32"/><circle cx="495.01" cy="353.9" r="0.35" opacity="0.23"/><circle cx="295.35" cy="481.9" r="0.23" opacity="0.27"/><circle cx="361.92" cy="373.06" r="0.46" opacity="0.49"/><circle cx="461.96" cy="435.47" r="0.48" opacity="0.26"/><circle cx="395.05" cy="319.74" r="0.24" opacity="0.52"/><circle cx="376.4" cy="440.61" r="0.45" opacity="0.2"/><circle cx="418.64" cy="448.56" r="0.24" opacity="0.16"/><circle cx="423.42" cy="415.84" r="0.41" opacity="0.4"/><circle cx="398.76" cy="310.74" r="0.24" opacity="0.26"/><circle cx="174.73" cy="307.19" r="0.25" opacity="0.15"/><circle cx="288.6" cy="318.72" r="0.45" opacity="0.24"/><circle cx="494.79" cy="441.29" r="0.22" opacity="0.22"/><circle cx="455.47" cy="418.57" r="0.4" opacity="0.43"/><circle cx="113.52" cy="456.51" r="0.28" opacity="0.4"/><circle cx="199.2" cy="386.47" r="0.44" opacity="0.39"/><circle cx="296.87" cy="320.56" r="0.31" opacity="0.27"/><circle cx="286.66" cy="395.21" r="0.21" opacity="0.28"/><circle cx="169.3" cy="356.51" r="0.39" opacity="0.2"/><circle cx="302.41" cy="308.64" r="0.32" opacity="0.34"/><circle cx="428.39" cy="485.98" r="0.32" opacity="0.45"/><circle cx="181.57" cy="423.98" r="0.22" opacity="0.2"/><circle cx="145.12" cy="485.28" r="0.34" opacity="0.49"/><circle cx="444.74" cy="495.85" r="0.47" opacity="0.44"/><circle cx="231.47" cy="396.02" r="0.36" opacity="0.25"/><circle cx="381.43" cy="387.39" r="0.34" opacity="0.36"/><circle cx="395.18" cy="353.59" r="0.22" opacity="0.37"/><circle cx="308.32" cy="346.11" r="0.24" opacity="0.22"/><circle cx="212.71" cy="313.11" r="0.47" opacity="0.36"/><circle cx="195.34" cy="391.07" r="0.32" opacity="0.33"/><circle cx="162.82" cy="494.82" r="0.44" opacity="0.16"/><circle cx="487.22" cy="385.2" r="0.18" opacity="0.19"/><circle cx="433.07" cy="368.47" r="0.34" opacity="0.34"/><circle cx="453.91" cy="411.87" r="0.22" opacity="0.39"/><circle cx="427.57" cy="320.99" r="0.33" opacity="0.33"/><circle cx="328.16" cy="340.43" r="0.3" opacity="0.25"/><circle cx="371.36" cy="370.34" r="0.27" opacity="0.39"/><circle cx="148.44" cy="497.97" r="0.44" opacity="0.43"/><circle cx="177.55" cy="389.8" r="0.48" opacity="0.4"/><circle cx="246.74" cy="351.38" r="0.24" opacity="0.5"/><circle cx="435.38" cy="455.48" r="0.43" opacity="0.42"/><circle cx="132.07" cy="420.81" r="0.43" opacity="0.48"/><circle cx="475.24" cy="390.52" r="0.38" opacity="0.22"/><circle cx="287" cy="409.36" r="0.22" opacity="0.37"/><circle cx="173.73" cy="372.78" r="0.28" opacity="0.29"/><circle cx="402.41" cy="419.89" r="0.37" opacity="0.17"/><circle cx="130.71" cy="369.64" r="0.22" opacity="0.35"/><circle cx="222.79" cy="339.42" r="0.41" opacity="0.35"/><circle cx="166.79" cy="366.41" r="0.37" opacity="0.51"/><circle cx="443.77" cy="409.08" r="0.2" opacity="0.42"/><circle cx="128.82" cy="438.46" r="0.28" opacity="0.19"/><circle cx="479.61" cy="431.67" r="0.25" opacity="0.53"/><circle cx="210.47" cy="379.37" r="0.48" opacity="0.27"/><circle cx="493.8" cy="383.72" r="0.44" opacity="0.41"/><circle cx="422.46" cy="398.27" r="0.25" opacity="0.51"/><circle cx="434.71" cy="327.76" r="0.42" opacity="0.38"/><circle cx="402.17" cy="428.65" r="0.19" opacity="0.21"/><circle cx="234.6" cy="309.21" r="0.48" opacity="0.47"/><circle cx="401.84" cy="342.62" r="0.22" opacity="0.23"/><circle cx="237.75" cy="319.01" r="0.47" opacity="0.52"/><circle cx="258.26" cy="453.82" r="0.24" opacity="0.17"/><circle cx="438.92" cy="324.06" r="0.23" opacity="0.36"/><circle cx="415.91" cy="411.11" r="0.22" opacity="0.32"/><circle cx="299.53" cy="363.02" r="0.25" opacity="0.26"/><circle cx="168.68" cy="470.42" r="0.34" opacity="0.41"/><circle cx="396.47" cy="332.95" r="0.2" opacity="0.49"/><circle cx="298.52" cy="447.96" r="0.35" opacity="0.44"/><circle cx="469.11" cy="315.27" r="0.36" opacity="0.54"/><circle cx="323.69" cy="359.33" r="0.19" opacity="0.54"/><circle cx="331.7" cy="387.83" r="0.3" opacity="0.53"/><circle cx="326.15" cy="382.46" r="0.34" opacity="0.2"/><circle cx="159.51" cy="491.08" r="0.19" opacity="0.24"/><circle cx="400.2" cy="327.72" r="0.22" opacity="0.41"/><circle cx="206.93" cy="434.7" r="0.2" opacity="0.3"/><circle cx="240.14" cy="430.34" r="0.2" opacity="0.21"/><circle cx="166.85" cy="410.2" r="0.37" opacity="0.45"/><circle cx="262.79" cy="401.65" r="0.32" opacity="0.54"/><circle cx="184.37" cy="321.03" r="0.33" opacity="0.31"/><circle cx="190.81" cy="456.56" r="0.18" opacity="0.25"/><circle cx="381.96" cy="413.59" r="0.37" opacity="0.5"/><circle cx="376.08" cy="457.19" r="0.19" opacity="0.2"/><circle cx="269.95" cy="460.59" r="0.47" opacity="0.2"/><circle cx="310.16" cy="315.91" r="0.26" opacity="0.54"/><circle cx="305.73" cy="409.96" r="0.34" opacity="0.37"/><circle cx="156.34" cy="325.09" r="0.19" opacity="0.32"/><circle cx="356.92" cy="418.71" r="0.26" opacity="0.41"/><circle cx="173.9" cy="396.4" r="0.31" opacity="0.24"/><circle cx="340.45" cy="376.2" r="0.36" opacity="0.23"/><circle cx="291.87" cy="483.33" r="0.44" opacity="0.45"/><circle cx="451.16" cy="439.17" r="0.34" opacity="0.39"/><circle cx="373.51" cy="325.38" r="0.25" opacity="0.54"/><circle cx="381.37" cy="334.04" r="0.35" opacity="0.28"/><circle cx="200.16" cy="402.51" r="0.27" opacity="0.19"/><circle cx="201.6" cy="438.92" r="0.23" opacity="0.33"/><circle cx="339.86" cy="419.35" r="0.45" opacity="0.25"/><circle cx="480.19" cy="374.55" r="0.44" opacity="0.38"/><circle cx="147.03" cy="309.21" r="0.3" opacity="0.36"/><circle cx="421.92" cy="366.24" r="0.3" opacity="0.32"/><circle cx="152.77" cy="472.8" r="0.21" opacity="0.44"/><circle cx="280.2" cy="307.07" r="0.27" opacity="0.46"/><circle cx="280.75" cy="389.2" r="0.21" opacity="0.33"/><circle cx="377.48" cy="344.43" r="0.26" opacity="0.39"/><circle cx="390.05" cy="355.72" r="0.44" opacity="0.22"/><circle cx="204.76" cy="375.47" r="0.38" opacity="0.19"/><circle cx="246.73" cy="467.31" r="0.31" opacity="0.43"/><circle cx="171.41" cy="440.04" r="0.22" opacity="0.44"/><circle cx="432.08" cy="327.24" r="0.25" opacity="0.38"/><circle cx="434.18" cy="338.17" r="0.24" opacity="0.21"/><circle cx="406.07" cy="416.16" r="0.42" opacity="0.52"/><circle cx="494.98" cy="316.16" r="0.34" opacity="0.19"/><circle cx="453.2" cy="411" r="0.22" opacity="0.3"/><circle cx="268.1" cy="486.55" r="0.34" opacity="0.32"/><circle cx="321.77" cy="454.15" r="0.24" opacity="0.39"/><circle cx="402.23" cy="484.74" r="0.32" opacity="0.44"/><circle cx="148.6" cy="362.66" r="0.23" opacity="0.16"/><circle cx="166.47" cy="407.96" r="0.19" opacity="0.23"/><circle cx="356.04" cy="433.34" r="0.21" opacity="0.33"/><circle cx="145.34" cy="384.2" r="0.41" opacity="0.32"/><circle cx="327.63" cy="315.63" r="0.3" opacity="0.35"/><circle cx="291.35" cy="488.23" r="0.29" opacity="0.17"/><circle cx="164.24" cy="370.83" r="0.44" opacity="0.24"/><circle cx="470.05" cy="320.75" r="0.24" opacity="0.19"/><circle cx="432.18" cy="338.51" r="0.4" opacity="0.29"/><circle cx="365.56" cy="491.76" r="0.44" opacity="0.22"/><circle cx="346.12" cy="395.55" r="0.28" opacity="0.34"/><circle cx="460.8" cy="498.56" r="0.43" opacity="0.53"/><circle cx="246.08" cy="424.8" r="0.28" opacity="0.52"/><circle cx="221.23" cy="451.55" r="0.23" opacity="0.52"/><circle cx="395.29" cy="391.27" r="0.3" opacity="0.34"/><circle cx="328.28" cy="364.53" r="0.44" opacity="0.53"/><circle cx="305" cy="398.85" r="0.3" opacity="0.26"/><circle cx="292.22" cy="387.14" r="0.22" opacity="0.37"/><circle cx="317.47" cy="349.15" r="0.43" opacity="0.25"/><circle cx="204.37" cy="326.77" r="0.2" opacity="0.16"/><circle cx="157.37" cy="441.17" r="0.45" opacity="0.36"/><circle cx="165.81" cy="386.18" r="0.24" opacity="0.37"/><circle cx="120.47" cy="468.53" r="0.3" opacity="0.43"/><circle cx="142.92" cy="358.18" r="0.2" opacity="0.33"/><circle cx="418.37" cy="429.39" r="0.27" opacity="0.15"/><circle cx="438.95" cy="433.07" r="0.27" opacity="0.22"/><circle cx="409.76" cy="461.05" r="0.48" opacity="0.49"/><circle cx="430.49" cy="347.41" r="0.19" opacity="0.19"/><circle cx="321.1" cy="442.68" r="0.32" opacity="0.48"/><circle cx="299.6" cy="496.39" r="0.25" opacity="0.19"/><circle cx="355.31" cy="398.35" r="0.47" opacity="0.24"/><circle cx="453.38" cy="444.08" r="0.29" opacity="0.39"/><circle cx="363.35" cy="421.25" r="0.47" opacity="0.33"/></g>
<rect x="111.2" y="285.4" width="384.8" height="19.2" fill="#021a3f"/>
<rect x="111.2" y="304.6" width="384.8" height="9" fill="url(#hbc)"/>
<rect x="115.5" y="289.2" width="24.6" height="6.3" fill="#2458c8" rx="0.5" opacity="0.6"/>
<text x="116" y="294.9" font-size="7.7" font-weight="bold" textLength="23.6" lengthAdjust="spacingAndGlyphs" stroke-width="0.35" font-family='"Liberation Sans","Noto Sans CJK SC",sans-serif'><tspan fill="#ffffff" stroke="#ffffff">E</tspan><tspan fill="#f58a7c" stroke="#f58a7c">N</tspan><tspan fill="#ffffff" stroke="#ffffff">T</tspan></text>
<text x="140.8" y="290.61" font-size="2.2" fill="#fff">®</text>
<text x="144.2" y="295.98" font-size="8" fill="#fff" font-weight="900" textLength="40.3" lengthAdjust="spacingAndGlyphs">伊诺特仪表</text>
<text x="115.2" y="301.83" font-size="4.1" fill="#fff" font-weight="500" textLength="69.4" lengthAdjust="spacingAndGlyphs">企业能效管理系统功能·电表管理</text>
<rect x="194.5" y="292.1" width="120" height="7.9" fill="#03153a" rx="3.95" stroke="#8fb4dc" stroke-width="0.4" opacity="1"/>
<circle cx="306.2" cy="295.8" r="1.8" fill="none" stroke="#fff" stroke-width="0.7"/>
<line x1="307.5" y1="297.1" x2="308.9" y2="298.4" stroke="#fff" stroke-width="0.75"/>
<circle cx="404.3" cy="293.3" r="1.9" fill="none" stroke="#fff" stroke-width="0.7"/>
<path d="M401 297.8C401.3 294.4 407.3 294.4 407.6 297.8" fill="none" stroke="#fff" stroke-width="0.7"/>
<text x="410" y="296.13" font-size="3.5" fill="#fff" font-weight="bold" textLength="12" lengthAdjust="spacingAndGlyphs">管理员</text>
<circle cx="430.4" cy="294.7" r="3.35" fill="none" stroke="#fff" stroke-width="0.6"/>
<path d="M428.9 292.6L430.4 294.6L431.9 292.6M430.4 294.6L430.4 297M429 294.8L431.8 294.8M429 295.8L431.8 295.8" fill="none" stroke="#fff" stroke-width="0.5"/>
<text x="436" y="296.13" font-size="3.5" fill="#fff" font-weight="bold" textLength="7.9" lengthAdjust="spacingAndGlyphs">缴费</text>
<polygon points="452.4,291.4 455.9,294.5 454.9,294.5 454.9,297.7 453.3,297.7 453.3,295.6 451.5,295.6 451.5,297.7 449.9,297.7 449.9,294.5 448.9,294.5" fill="#fff"/>
<text x="458.2" y="296.13" font-size="3.5" fill="#fff" font-weight="bold" textLength="7.4" lengthAdjust="spacingAndGlyphs">首页</text>
<path d="M471.9 292.8H476.7A1.9 1.9 0 0 1 476.7 296.6H472.9" fill="none" stroke="#fff" stroke-width="0.6"/>
<polygon points="471.5,296.6 473.5,295.3 473.5,297.9" fill="#fff"/>
<text x="480.5" y="296.13" font-size="3.5" fill="#fff" font-weight="bold" textLength="7.5" lengthAdjust="spacingAndGlyphs">返回</text>
<text x="420" y="310.84" font-size="3.4" fill="#fff" font-weight="500" textLength="28" lengthAdjust="spacingAndGlyphs">2020年10月10日</text>
<text x="453.6" y="310.84" font-size="3.4" fill="#fff" font-weight="500" textLength="20.1" lengthAdjust="spacingAndGlyphs">10 : 10 : 00</text>
<text x="477.9" y="310.84" font-size="3.4" fill="#fff" font-weight="500" textLength="10.1" lengthAdjust="spacingAndGlyphs">星期六</text>
<rect x="152.2" y="312.75" width="335.5" height="0.45" fill="url(#hlc)"/>
<rect x="114.65" y="308.8" width="36.4" height="188.4" fill="#04306c" stroke="#15558a" stroke-width="0.35" opacity="0.55"/>
<rect x="114.8" y="308.95" width="36.1" height="32.3" fill="#021a44" opacity="0.85"/>
<rect x="118.7" y="341.1" width="28" height="0.4" fill="url(#dvc)"/>
<rect x="118.7" y="372.5" width="28" height="0.4" fill="url(#dvc)"/>
<rect x="118.7" y="402.3" width="28" height="0.4" fill="url(#dvc)"/>
<rect x="118.7" y="431.3" width="28" height="0.4" fill="url(#dvc)"/>
<rect x="118.7" y="462" width="28" height="0.4" fill="url(#dvc)"/>
<line x1="127.8" y1="329.5" x2="137.4" y2="329.5" stroke="#27b4dc" stroke-width="0.6"/><rect x="128.85" y="325.5" width="0.9" height="3.2" fill="#27b4dc"/><rect x="130.65" y="323.5" width="0.9" height="5.2" fill="#27b4dc"/><rect x="132.45" y="324.7" width="0.9" height="4" fill="#27b4dc"/><rect x="134.25" y="322.1" width="0.9" height="6.6" fill="#27b4dc"/><rect x="135.85" y="320.1" width="0.9" height="8.6" fill="#27b4dc"/>
<text x="132.6" y="337.98" font-size="4.1" fill="#27b4dc" text-anchor="middle" font-weight="bold" textLength="17.6" lengthAdjust="spacingAndGlyphs">统计分析</text>
<rect x="129.4" y="351.1" width="6.4" height="8.6" fill="none" stroke="#ffffff" stroke-width="0.8"/><rect x="129.4" y="351.1" width="6.4" height="2" fill="#ffffff"/><rect x="131" y="354.9" width="3.2" height="3.2" fill="#ffffff" opacity="0.85"/><line x1="128" y1="360.3" x2="137.2" y2="360.3" stroke="#ffffff" stroke-width="0.8"/>
<text x="132.6" y="368.08" font-size="4.1" fill="#ffffff" text-anchor="middle" font-weight="bold" textLength="17.6" lengthAdjust="spacingAndGlyphs">电力设备</text>
<circle cx="132.6" cy="387.3" r="4.3" fill="none" stroke="#ffffff" stroke-width="0.8"/><rect x="132.15" y="384.7" width="0.9" height="3.4" fill="#ffffff"/><circle cx="132.6" cy="389.4" r="0.6" fill="#ffffff"/>
<text x="132.6" y="398.68" font-size="4.1" fill="#ffffff" text-anchor="middle" font-weight="bold" textLength="17.6" lengthAdjust="spacingAndGlyphs">故障报警</text>
<circle cx="132.6" cy="417.2" r="3.6" fill="none" stroke="#ffffff" stroke-width="1"/><rect x="131.6" y="411.1" width="2" height="1.3" fill="#ffffff"/><circle cx="132.6" cy="417.2" r="1.5" fill="#ffffff" opacity="0.8"/><line x1="132.6" y1="417.2" x2="134.4" y2="415" stroke="#ffffff" stroke-width="0.6"/><rect x="132.2" y="412.2" width="0.8" height="1.4" fill="#ffffff"/>
<text x="132.6" y="427.88" font-size="4.1" fill="#ffffff" text-anchor="middle" font-weight="bold" textLength="17.6" lengthAdjust="spacingAndGlyphs">设备维护</text>
<circle cx="132.6" cy="445.8" r="3.7" fill="#ffffff" opacity="0.9"/><circle cx="132.6" cy="445.8" r="1.8" fill="#0a2d66"/><circle cx="132.6" cy="445.8" r="0.8" fill="#ffffff"/><rect x="131.8" y="449.2" width="1.6" height="1.6" fill="#ffffff"/><rect x="129.6" y="450.6" width="6" height="0.9" fill="#ffffff"/>
<text x="132.6" y="458.08" font-size="4.1" fill="#ffffff" text-anchor="middle" font-weight="bold" textLength="17.6" lengthAdjust="spacingAndGlyphs">电力监控</text>
<polygon points="134.85,473.1 137.1,477 134.85,480.9 130.35,480.9 128.1,477 130.35,473.1" fill="none" stroke="#ffffff" stroke-width="0.9" stroke-linejoin="round"/><circle cx="132.6" cy="477" r="1.7" fill="none" stroke="#ffffff" stroke-width="0.9"/>
<text x="132.6" y="486.78" font-size="4.1" fill="#ffffff" text-anchor="middle" font-weight="bold" textLength="17.6" lengthAdjust="spacingAndGlyphs">系统设置</text>
<defs><linearGradient id="ea1c" x1="0" y1="0" x2="0" y2="1"><stop offset="0" stop-color="#a08068" stop-opacity="0.7"/><stop offset="0.55" stop-color="#74707a" stop-opacity="0.35"/><stop offset="1" stop-color="#6a6a70" stop-opacity="0.03"/></linearGradient><linearGradient id="ea2c" x1="0" y1="0" x2="0" y2="1"><stop offset="0" stop-color="#27a8c8" stop-opacity="0.78"/><stop offset="0.6" stop-color="#1f8cb0" stop-opacity="0.4"/><stop offset="1" stop-color="#1a7898" stop-opacity="0.04"/></linearGradient><linearGradient id="g1c" x1="0" y1="1" x2="1" y2="0"><stop offset="0" stop-color="#3be27a"/><stop offset="0.5" stop-color="#1fd6d6"/><stop offset="1" stop-color="#1fd6d6"/></linearGradient><linearGradient id="ndc" x1="0" y1="0" x2="1" y2="0"><stop offset="0" stop-color="#5af07a"/><stop offset="1" stop-color="#1fd6d6"/></linearGradient><radialGradient id="pgc" cx="0.5" cy="0.5" r="0.6"><stop offset="0" stop-color="#2fe0a0"/><stop offset="1" stop-color="#13a874"/></radialGradient></defs>
<rect x="156.8" y="316.7" width="81.8" height="45.9" fill="#0a4f92" opacity="0.58"/>
<rect x="156.8" y="316.7" width="81.8" height="45.9" fill="none" stroke="#1c5aa8" stroke-width="0.3" opacity="0.8"/>
<rect x="156.3" y="316.2" width="1" height="1" fill="#2f7df0"/>
<rect x="238.1" y="316.2" width="1" height="1" fill="#2f7df0"/>
<rect x="156.3" y="362.1" width="1" height="1" fill="#2f7df0"/>
<rect x="238.1" y="362.1" width="1" height="1" fill="#2f7df0"/>
<circle cx="182.4" cy="336.2" r="12.6" fill="#062a5e" stroke="#1fc8f0" stroke-width="0.45" opacity="0.6"/>
<circle cx="182.4" cy="336.2" r="10.4" fill="#0a3468" stroke="#1fc8f0" stroke-width="0.25" opacity="0.8"/>
<circle cx="182.4" cy="323.6" r="0.65" fill="#1fc8f0"/>
<circle cx="195" cy="336.2" r="0.65" fill="#1fc8f0"/>
<circle cx="182.4" cy="348.8" r="0.65" fill="#1fc8f0"/>
<circle cx="169.8" cy="336.2" r="0.65" fill="#1fc8f0"/>
<text x="182.4" y="354.93" font-size="3" fill="#1fc8f0" text-anchor="middle" font-weight="bold" textLength="14.4" lengthAdjust="spacingAndGlyphs">照明插座</text>
<text x="203.5" y="335.37" font-size="2.6" fill="#d8ecff" textLength="21.3" lengthAdjust="spacingAndGlyphs">本月能耗 ( KWh)</text>
<text x="203.5" y="345.48" font-size="5.9" fill="#fff" font-weight="bold" textLength="21.8" lengthAdjust="spacingAndGlyphs">1589.90</text>
<circle cx="182.4" cy="334.6" r="4.3" fill="none" stroke="#1fc8f0" stroke-width="0.8"/>
<rect x="180.4" y="338.6" width="4" height="3.6" fill="#0a3468" stroke="#1fc8f0" stroke-width="0.7"/>
<line x1="180.4" y1="340.4" x2="184.4" y2="340.4" stroke="#1fc8f0" stroke-width="0.5"/>
<path d="M181.2 338.4L181.8 334.8L183 334.8L183.6 338.4" fill="none" stroke="#1fc8f0" stroke-width="0.45"/>
<rect x="240" y="316.7" width="81.8" height="45.9" fill="#0a4f92" opacity="0.58"/>
<rect x="240" y="316.7" width="81.8" height="45.9" fill="none" stroke="#1c5aa8" stroke-width="0.3" opacity="0.8"/>
<rect x="239.5" y="316.2" width="1" height="1" fill="#2f7df0"/>
<rect x="321.3" y="316.2" width="1" height="1" fill="#2f7df0"/>
<rect x="239.5" y="362.1" width="1" height="1" fill="#2f7df0"/>
<rect x="321.3" y="362.1" width="1" height="1" fill="#2f7df0"/>
<circle cx="265.7" cy="336.2" r="12.6" fill="#062a5e" stroke="#2be09a" stroke-width="0.45" opacity="0.6"/>
<circle cx="265.7" cy="336.2" r="10.4" fill="#0a3468" stroke="#2be09a" stroke-width="0.25" opacity="0.8"/>
<circle cx="265.7" cy="323.6" r="0.65" fill="#2be09a"/>
<circle cx="278.3" cy="336.2" r="0.65" fill="#2be09a"/>
<circle cx="265.7" cy="348.8" r="0.65" fill="#2be09a"/>
<circle cx="253.1" cy="336.2" r="0.65" fill="#2be09a"/>
<text x="265.7" y="354.93" font-size="3" fill="#2be09a" text-anchor="middle" font-weight="bold" textLength="14.4" lengthAdjust="spacingAndGlyphs">空调用电</text>
<text x="286.8" y="335.37" font-size="2.6" fill="#d8ecff" textLength="21.3" lengthAdjust="spacingAndGlyphs">本月能耗 ( kWh)</text>
<text x="286.8" y="345.48" font-size="5.9" fill="#fff" font-weight="bold" textLength="21.8" lengthAdjust="spacingAndGlyphs">5713.20</text>
<rect x="259.1" y="332.2" width="13.2" height="5.6" fill="none" rx="1" stroke="#2be09a" stroke-width="0.7"/>
<line x1="260.7" y1="335.8" x2="270.7" y2="335.8" stroke="#2be09a" stroke-width="0.5"/>
<line x1="262.7" y1="339.2" x2="261.65" y2="343" stroke="#2be09a" stroke-width="0.5"/>
<line x1="265.7" y1="339.2" x2="265.7" y2="343" stroke="#2be09a" stroke-width="0.5"/>
<line x1="268.7" y1="339.2" x2="269.75" y2="343" stroke="#2be09a" stroke-width="0.5"/>
<rect x="322.4" y="316.7" width="83.4" height="45.9" fill="#0a4f92" opacity="0.58"/>
<rect x="322.4" y="316.7" width="83.4" height="45.9" fill="none" stroke="#1c5aa8" stroke-width="0.3" opacity="0.8"/>
<rect x="321.9" y="316.2" width="1" height="1" fill="#2f7df0"/>
<rect x="405.3" y="316.2" width="1" height="1" fill="#2f7df0"/>
<rect x="321.9" y="362.1" width="1" height="1" fill="#2f7df0"/>
<rect x="405.3" y="362.1" width="1" height="1" fill="#2f7df0"/>
<circle cx="349" cy="336.2" r="12.6" fill="#062a5e" stroke="#f2b024" stroke-width="0.45" opacity="0.6"/>
<circle cx="349" cy="336.2" r="10.4" fill="#0a3468" stroke="#f2b024" stroke-width="0.25" opacity="0.8"/>
<circle cx="349" cy="323.6" r="0.65" fill="#f2b024"/>
<circle cx="361.6" cy="336.2" r="0.65" fill="#f2b024"/>
<circle cx="349" cy="348.8" r="0.65" fill="#f2b024"/>
<circle cx="336.4" cy="336.2" r="0.65" fill="#f2b024"/>
<text x="349" y="354.93" font-size="3" fill="#f2b024" text-anchor="middle" font-weight="bold" textLength="14.4" lengthAdjust="spacingAndGlyphs">动力用电</text>
<text x="370" y="335.37" font-size="2.6" fill="#d8ecff" textLength="21.3" lengthAdjust="spacingAndGlyphs">本月能耗 ( kWh)</text>
<text x="370" y="345.48" font-size="5.9" fill="#fff" font-weight="bold" textLength="21.8" lengthAdjust="spacingAndGlyphs">2082.30</text>
<path d="M347.43 340.52A4.6 4.6 0 0 1 346.7 332.22" fill="none" stroke="#f5c52c" stroke-width="1.7"/>
<path d="M350.57 331.88A4.6 4.6 0 0 1 351.3 340.18" fill="none" stroke="#f5c52c" stroke-width="1.7"/>
<polygon points="344.24,332.74 349.24,333.54 347.44,329.34" fill="#f5c52c"/>
<polygon points="353.76,339.66 348.76,338.86 350.56,343.06" fill="#f5c52c"/>
<rect x="407.2" y="316.7" width="81.4" height="45.9" fill="#0a4f92" opacity="0.58"/>
<rect x="407.2" y="316.7" width="81.4" height="45.9" fill="none" stroke="#1c5aa8" stroke-width="0.3" opacity="0.8"/>
<rect x="406.7" y="316.2" width="1" height="1" fill="#2f7df0"/>
<rect x="488.1" y="316.2" width="1" height="1" fill="#2f7df0"/>
<rect x="406.7" y="362.1" width="1" height="1" fill="#2f7df0"/>
<rect x="488.1" y="362.1" width="1" height="1" fill="#2f7df0"/>
<circle cx="433.3" cy="336.2" r="12.6" fill="#062a5e" stroke="#3f9af5" stroke-width="0.45" opacity="0.6"/>
<circle cx="433.3" cy="336.2" r="10.4" fill="#0a3468" stroke="#3f9af5" stroke-width="0.25" opacity="0.8"/>
<circle cx="433.3" cy="323.6" r="0.65" fill="#3f9af5"/>
<circle cx="445.9" cy="336.2" r="0.65" fill="#3f9af5"/>
<circle cx="433.3" cy="348.8" r="0.65" fill="#3f9af5"/>
<circle cx="420.7" cy="336.2" r="0.65" fill="#3f9af5"/>
<text x="433.3" y="354.93" font-size="3" fill="#e8f4ff" text-anchor="middle" font-weight="bold" textLength="14.4" lengthAdjust="spacingAndGlyphs">特殊用电</text>
<text x="453.5" y="335.37" font-size="2.6" fill="#d8ecff" textLength="21.3" lengthAdjust="spacingAndGlyphs">本月能耗 ( KWh)</text>
<text x="453.5" y="345.48" font-size="5.9" fill="#fff" font-weight="bold" textLength="17.2" lengthAdjust="spacingAndGlyphs">862.40</text>
<path d="M431.67 332.62L432.53 332.62L433.02 333.97L433.59 334.21L434.89 333.6L435.5 334.21L434.89 335.51L435.13 336.08L436.48 336.57L436.48 337.43L435.13 337.92L434.89 338.49L435.5 339.79L434.89 340.4L433.59 339.79L433.02 340.03L432.53 341.38L431.67 341.38L431.18 340.03L430.61 339.79L429.31 340.4L428.7 339.79L429.31 338.49L429.07 337.92L427.72 337.43L427.72 336.57L429.07 336.08L429.31 335.51L428.7 334.21L429.31 333.6L430.61 334.21L431.18 333.97Z" fill="#fff"/>
<circle cx="432.1" cy="337" r="1.7" fill="#0a3468"/>
<path d="M436.3 330.62L436.9 330.62L437.24 331.47L437.63 331.65L438.51 331.39L438.89 331.86L438.43 332.66L438.53 333.08L439.28 333.6L439.15 334.19L438.25 334.33L437.97 334.67L438.04 335.59L437.49 335.85L436.82 335.23L436.38 335.23L435.71 335.85L435.16 335.59L435.23 334.67L434.95 334.33L434.05 334.19L433.92 333.6L434.67 333.08L434.77 332.66L434.31 331.86L434.69 331.39L435.57 331.65L435.96 331.47Z" fill="#fff"/>
<circle cx="436.6" cy="333.3" r="1" fill="#0a3468"/>
<rect x="156.5" y="364.2" width="165.4" height="132.3" fill="#0a4f92" opacity="0.43"/>
<rect x="156.5" y="364.2" width="165.4" height="132.3" fill="none" stroke="#1c5aa8" stroke-width="0.3" opacity="0.8"/>
<rect x="156" y="363.7" width="1" height="1" fill="#2f7df0"/>
<rect x="321.4" y="363.7" width="1" height="1" fill="#2f7df0"/>
<rect x="156" y="496" width="1" height="1" fill="#2f7df0"/>
<rect x="321.4" y="496" width="1" height="1" fill="#2f7df0"/>
<rect x="160.1" y="368.6" width="0.55" height="3.8" fill="#36c6f0"/>
<text x="162.1" y="371.98" font-size="3.6" fill="#b4def8" letter-spacing="0.45">总电能耗大曲线</text>
<line x1="159.5" y1="375.2" x2="318.9" y2="375.2" stroke="#4c86c8" stroke-width="0.3" opacity="0.75"/>
<text x="173.5" y="381.84" font-size="1.8" fill="#cfe4f8" text-anchor="middle">单位: KWh</text>
<text x="176.6" y="424.27" font-size="1.8" fill="#cfe4f8" text-anchor="end">0</text>
<line x1="178.3" y1="423.6" x2="289.8" y2="423.6" stroke="#4a8ac8" stroke-width="0.2" opacity="0.9"/>
<text x="176.6" y="417.97" font-size="1.8" fill="#cfe4f8" text-anchor="end">200</text>
<line x1="178.3" y1="417.3" x2="289.8" y2="417.3" stroke="#4a8ac8" stroke-width="0.2" opacity="0.45"/>
<text x="176.6" y="411.67" font-size="1.8" fill="#cfe4f8" text-anchor="end">400</text>
<line x1="178.3" y1="411" x2="289.8" y2="411" stroke="#4a8ac8" stroke-width="0.2" opacity="0.45"/>
<text x="176.6" y="405.37" font-size="1.8" fill="#cfe4f8" text-anchor="end">600</text>
<line x1="178.3" y1="404.7" x2="289.8" y2="404.7" stroke="#4a8ac8" stroke-width="0.2" opacity="0.45"/>
<text x="176.6" y="399.07" font-size="1.8" fill="#cfe4f8" text-anchor="end">800</text>
<line x1="178.3" y1="398.4" x2="289.8" y2="398.4" stroke="#4a8ac8" stroke-width="0.2" opacity="0.45"/>
<text x="176.6" y="392.77" font-size="1.8" fill="#cfe4f8" text-anchor="end">1000</text>
<line x1="178.3" y1="392.1" x2="289.8" y2="392.1" stroke="#4a8ac8" stroke-width="0.2" opacity="0.45"/>
<text x="176.6" y="386.47" font-size="1.8" fill="#cfe4f8" text-anchor="end">1200</text>
<line x1="178.3" y1="385.8" x2="289.8" y2="385.8" stroke="#4a8ac8" stroke-width="0.2" opacity="0.45"/>
<path d="M178.3 400.7C179.54 400.54 181.76 399.52 184.5 399.9C187.24 400.28 188.9 401.3 192 402.6C195.1 403.9 196.7 406.72 200 406.4C203.3 406.08 204.7 403.68 208.5 401C212.3 398.32 214.8 394 219 393C223.2 392 225.5 393.7 229.5 396C233.5 398.3 235.06 401.82 239 404.5C242.94 407.18 245.1 409.38 249.2 409.4C253.3 409.42 255.14 406.76 259.5 404.6C263.86 402.44 266.7 399.48 271 398.6C275.3 397.72 277.24 399.16 281 400.2C284.76 401.24 288.04 403.08 289.8 403.8L289.8 423.6L178.3 423.6Z" fill="url(#ea1c)"/>
<path d="M178.3 400.7C179.54 400.54 181.76 399.52 184.5 399.9C187.24 400.28 188.9 401.3 192 402.6C195.1 403.9 196.7 406.72 200 406.4C203.3 406.08 204.7 403.68 208.5 401C212.3 398.32 214.8 394 219 393C223.2 392 225.5 393.7 229.5 396C233.5 398.3 235.06 401.82 239 404.5C242.94 407.18 245.1 409.38 249.2 409.4C253.3 409.42 255.14 406.76 259.5 404.6C263.86 402.44 266.7 399.48 271 398.6C275.3 397.72 277.24 399.16 281 400.2C284.76 401.24 288.04 403.08 289.8 403.8" fill="none" stroke="#b89070" stroke-width="0.3"/>
<path d="M178.3 411.5C179.64 410.84 182.16 409.38 185 408.2C187.84 407.02 189.3 405.72 192.5 405.6C195.7 405.48 197.3 406 201 407.6C204.7 409.2 207.04 411.9 211 413.6C214.96 415.3 217 416.34 220.8 416.1C224.6 415.86 226.44 414.82 230 412.4C233.56 409.98 235.28 406.4 238.6 404C241.92 401.6 243.32 400.48 246.6 400.4C249.88 400.32 251.82 401.56 255 403.6C258.18 405.64 259.54 408.6 262.5 410.6C265.46 412.6 266.5 413.8 269.8 413.6C273.1 413.4 275 410.8 279 409.6C283 408.4 287.64 408 289.8 407.6L289.8 423.6L178.3 423.6Z" fill="url(#ea2c)"/>
<path d="M178.3 411.5C179.64 410.84 182.16 409.38 185 408.2C187.84 407.02 189.3 405.72 192.5 405.6C195.7 405.48 197.3 406 201 407.6C204.7 409.2 207.04 411.9 211 413.6C214.96 415.3 217 416.34 220.8 416.1C224.6 415.86 226.44 414.82 230 412.4C233.56 409.98 235.28 406.4 238.6 404C241.92 401.6 243.32 400.48 246.6 400.4C249.88 400.32 251.82 401.56 255 403.6C258.18 405.64 259.54 408.6 262.5 410.6C265.46 412.6 266.5 413.8 269.8 413.6C273.1 413.4 275 410.8 279 409.6C283 408.4 287.64 408 289.8 407.6" fill="none" stroke="#2fc0dc" stroke-width="0.3"/>
<rect x="292.9" y="380.2" width="4.1" height="1.9" fill="#2fd0f0"/>
<text x="298" y="381.92" font-size="2" fill="#d8ecff">实际</text>
<rect x="305.3" y="380.2" width="4.1" height="1.9" fill="#f2a040"/>
<text x="310.4" y="381.92" font-size="2" fill="#d8ecff">日均</text>
<text x="315.2" y="386.54" font-size="1.8" fill="#cfe4f8" text-anchor="end">时间: 日</text>
<text x="178.3" y="427.24" font-size="1.8" fill="#cfe4f8" text-anchor="middle">1日</text>
<text x="185.73" y="427.24" font-size="1.8" fill="#cfe4f8" text-anchor="middle">3日</text>
<text x="193.17" y="427.24" font-size="1.8" fill="#cfe4f8" text-anchor="middle">5日</text>
<text x="200.6" y="427.24" font-size="1.8" fill="#cfe4f8" text-anchor="middle">7日</text>
<text x="208.03" y="427.24" font-size="1.8" fill="#cfe4f8" text-anchor="middle">9日</text>
<text x="215.47" y="427.24" font-size="1.8" fill="#cfe4f8" text-anchor="middle">11日</text>
<text x="222.9" y="427.24" font-size="1.8" fill="#cfe4f8" text-anchor="middle">13日</text>
<text x="230.33" y="427.24" font-size="1.8" fill="#cfe4f8" text-anchor="middle">15日</text>
<text x="237.77" y="427.24" font-size="1.8" fill="#cfe4f8" text-anchor="middle">17日</text>
<text x="245.2" y="427.24" font-size="1.8" fill="#cfe4f8" text-anchor="middle">19日</text>
<text x="252.63" y="427.24" font-size="1.8" fill="#cfe4f8" text-anchor="middle">21日</text>
<text x="260.07" y="427.24" font-size="1.8" fill="#cfe4f8" text-anchor="middle">23日</text>
<text x="267.5" y="427.24" font-size="1.8" fill="#cfe4f8" text-anchor="middle">25日</text>
<text x="274.93" y="427.24" font-size="1.8" fill="#cfe4f8" text-anchor="middle">27日</text>
<text x="282.37" y="427.24" font-size="1.8" fill="#cfe4f8" text-anchor="middle">29日</text>
<text x="289.8" y="427.24" font-size="1.8" fill="#cfe4f8" text-anchor="middle">31日</text>
<text x="235.5" y="434.59" font-size="2.9" fill="#e8f4ff" text-anchor="middle" font-weight="bold" textLength="19" lengthAdjust="spacingAndGlyphs">当月逐日曲线</text>
<text x="173.5" y="437.44" font-size="1.8" fill="#cfe4f8" text-anchor="middle">单位: KWh</text>
<text x="176.6" y="442.57" font-size="1.8" fill="#cfe4f8" text-anchor="end">75</text>
<line x1="178.3" y1="441.9" x2="289.8" y2="441.9" stroke="#4a8ac8" stroke-width="0.22" opacity="0.6"/>
<text x="176.6" y="449" font-size="1.8" fill="#cfe4f8" text-anchor="end">60</text>
<line x1="178.3" y1="448.33" x2="289.8" y2="448.33" stroke="#4a8ac8" stroke-width="0.22" opacity="0.6"/>
<text x="176.6" y="455.43" font-size="1.8" fill="#cfe4f8" text-anchor="end">50</text>
<line x1="178.3" y1="454.77" x2="289.8" y2="454.77" stroke="#4a8ac8" stroke-width="0.22" opacity="0.6"/>
<text x="176.6" y="461.87" font-size="1.8" fill="#cfe4f8" text-anchor="end">35</text>
<line x1="178.3" y1="461.2" x2="289.8" y2="461.2" stroke="#4a8ac8" stroke-width="0.22" opacity="0.6"/>
<text x="176.6" y="468.3" font-size="1.8" fill="#cfe4f8" text-anchor="end">20</text>
<line x1="178.3" y1="467.63" x2="289.8" y2="467.63" stroke="#4a8ac8" stroke-width="0.22" opacity="0.6"/>
<text x="176.6" y="474.73" font-size="1.8" fill="#cfe4f8" text-anchor="end">10</text>
<line x1="178.3" y1="474.07" x2="289.8" y2="474.07" stroke="#4a8ac8" stroke-width="0.22" opacity="0.6"/>
<text x="176.6" y="481.17" font-size="1.8" fill="#cfe4f8" text-anchor="end">-5</text>
<line x1="178.3" y1="480.5" x2="289.8" y2="480.5" stroke="#4a8ac8" stroke-width="0.22" opacity="0.6"/>
<line x1="178.3" y1="441.9" x2="178.3" y2="480.5" stroke="#4a8ac8" stroke-width="0.22" opacity="0.6"/>
<text x="178.3" y="484.73" font-size="1.7" fill="#cfe4f8" text-anchor="middle">0:00</text>
<line x1="187.59" y1="441.9" x2="187.59" y2="480.5" stroke="#4a8ac8" stroke-width="0.22" opacity="0.6"/>
<text x="187.59" y="484.73" font-size="1.7" fill="#cfe4f8" text-anchor="middle">2:00</text>
<line x1="196.88" y1="441.9" x2="196.88" y2="480.5" stroke="#4a8ac8" stroke-width="0.22" opacity="0.6"/>
<text x="196.88" y="484.73" font-size="1.7" fill="#cfe4f8" text-anchor="middle">4:00</text>
<line x1="206.18" y1="441.9" x2="206.18" y2="480.5" stroke="#4a8ac8" stroke-width="0.22" opacity="0.6"/>
<text x="206.18" y="484.73" font-size="1.7" fill="#cfe4f8" text-anchor="middle">6:00</text>
<line x1="215.47" y1="441.9" x2="215.47" y2="480.5" stroke="#4a8ac8" stroke-width="0.22" opacity="0.6"/>
<text x="215.47" y="484.73" font-size="1.7" fill="#cfe4f8" text-anchor="middle">8:00</text>
<line x1="224.76" y1="441.9" x2="224.76" y2="480.5" stroke="#4a8ac8" stroke-width="0.22" opacity="0.6"/>
<text x="224.76" y="484.73" font-size="1.7" fill="#cfe4f8" text-anchor="middle">10:00</text>
<line x1="234.05" y1="441.9" x2="234.05" y2="480.5" stroke="#4a8ac8" stroke-width="0.22" opacity="0.6"/>
<text x="234.05" y="484.73" font-size="1.7" fill="#cfe4f8" text-anchor="middle">12:00</text>
<line x1="243.34" y1="441.9" x2="243.34" y2="480.5" stroke="#4a8ac8" stroke-width="0.22" opacity="0.6"/>
<text x="243.34" y="484.73" font-size="1.7" fill="#cfe4f8" text-anchor="middle">14:00</text>
<line x1="252.63" y1="441.9" x2="252.63" y2="480.5" stroke="#4a8ac8" stroke-width="0.22" opacity="0.6"/>
<text x="252.63" y="484.73" font-size="1.7" fill="#cfe4f8" text-anchor="middle">16:00</text>
<line x1="261.93" y1="441.9" x2="261.93" y2="480.5" stroke="#4a8ac8" stroke-width="0.22" opacity="0.6"/>
<text x="261.93" y="484.73" font-size="1.7" fill="#cfe4f8" text-anchor="middle">18:00</text>
<line x1="271.22" y1="441.9" x2="271.22" y2="480.5" stroke="#4a8ac8" stroke-width="0.22" opacity="0.6"/>
<text x="271.22" y="484.73" font-size="1.7" fill="#cfe4f8" text-anchor="middle">20:00</text>
<line x1="280.51" y1="441.9" x2="280.51" y2="480.5" stroke="#4a8ac8" stroke-width="0.22" opacity="0.6"/>
<text x="280.51" y="484.73" font-size="1.7" fill="#cfe4f8" text-anchor="middle">22:00</text>
<line x1="289.8" y1="441.9" x2="289.8" y2="480.5" stroke="#4a8ac8" stroke-width="0.22" opacity="0.6"/>
<text x="289.8" y="484.73" font-size="1.7" fill="#cfe4f8" text-anchor="middle">24:00</text>
<polyline points="185.5,462.5 195.8,460.4 204.1,454.8 213.1,463.5 222.1,455.8 231.1,459.1 239.4,463.5 248.4,461.2 255.8,454.8 265.1,462.5 274.1,465.6 284.7,462.5" fill="none" stroke="#b8b030" stroke-width="0.3"/>
<polyline points="185.5,470.7 195.8,467.1 204.1,470.7 213.1,461 222.1,468.9 231.1,463.8 239.4,475.9 248.4,466.6 255.8,466.6 265.1,467.4 274.1,469.5 284.7,461" fill="none" stroke="#1f9ac8" stroke-width="0.3"/>
<rect x="184.7" y="461.7" width="1.6" height="1.6" fill="#ecd820"/>
<rect x="195" y="459.6" width="1.6" height="1.6" fill="#ecd820"/>
<rect x="203.3" y="454" width="1.6" height="1.6" fill="#ecd820"/>
<rect x="212.3" y="462.7" width="1.6" height="1.6" fill="#ecd820"/>
<rect x="221.3" y="455" width="1.6" height="1.6" fill="#ecd820"/>
<rect x="230.3" y="458.3" width="1.6" height="1.6" fill="#ecd820"/>
<rect x="238.6" y="462.7" width="1.6" height="1.6" fill="#ecd820"/>
<rect x="247.6" y="460.4" width="1.6" height="1.6" fill="#ecd820"/>
<rect x="255" y="454" width="1.6" height="1.6" fill="#ecd820"/>
<rect x="264.3" y="461.7" width="1.6" height="1.6" fill="#ecd820"/>
<rect x="273.3" y="464.8" width="1.6" height="1.6" fill="#ecd820"/>
<rect x="283.9" y="461.7" width="1.6" height="1.6" fill="#ecd820"/>
<rect x="184.75" y="469.95" width="1.5" height="1.5" fill="#1fd0f5"/>
<rect x="195.05" y="466.35" width="1.5" height="1.5" fill="#1fd0f5"/>
<rect x="203.35" y="469.95" width="1.5" height="1.5" fill="#1fd0f5"/>
<rect x="212.35" y="460.25" width="1.5" height="1.5" fill="#1fd0f5"/>
<rect x="221.35" y="468.15" width="1.5" height="1.5" fill="#1fd0f5"/>
<rect x="230.35" y="463.05" width="1.5" height="1.5" fill="#1fd0f5"/>
<rect x="238.65" y="475.15" width="1.5" height="1.5" fill="#1fd0f5"/>
<rect x="247.65" y="465.85" width="1.5" height="1.5" fill="#1fd0f5"/>
<rect x="255.05" y="465.85" width="1.5" height="1.5" fill="#1fd0f5"/>
<rect x="264.35" y="466.65" width="1.5" height="1.5" fill="#1fd0f5"/>
<rect x="273.35" y="468.75" width="1.5" height="1.5" fill="#1fd0f5"/>
<rect x="283.95" y="460.25" width="1.5" height="1.5" fill="#1fd0f5"/>
<rect x="292.9" y="435.8" width="4.1" height="1.9" fill="#2fd0f0"/>
<text x="298" y="437.52" font-size="2" fill="#d8ecff">今日</text>
<rect x="305.3" y="435.8" width="4.1" height="1.9" fill="#ecd820"/>
<text x="310.4" y="437.52" font-size="2" fill="#d8ecff">昨日</text>
<text x="315.2" y="442.64" font-size="1.8" fill="#cfe4f8" text-anchor="end">时间: 日</text>
<text x="235.5" y="493.29" font-size="2.9" fill="#e8f4ff" text-anchor="middle" font-weight="bold" textLength="19" lengthAdjust="spacingAndGlyphs">当日曲线走势</text>
<rect x="322.7" y="364.2" width="165.5" height="132.3" fill="#0a4f92" opacity="0.43"/>
<rect x="322.7" y="364.2" width="165.5" height="132.3" fill="none" stroke="#1c5aa8" stroke-width="0.3" opacity="0.8"/>
<rect x="322.2" y="363.7" width="1" height="1" fill="#2f7df0"/>
<rect x="487.7" y="363.7" width="1" height="1" fill="#2f7df0"/>
<rect x="322.2" y="496" width="1" height="1" fill="#2f7df0"/>
<rect x="487.7" y="496" width="1" height="1" fill="#2f7df0"/>
<rect x="326.3" y="368.6" width="0.55" height="3.8" fill="#36c6f0"/>
<text x="328.3" y="371.98" font-size="3.6" fill="#b4def8" letter-spacing="0.45">电站概览</text>
<line x1="325.7" y1="375.2" x2="485.2" y2="375.2" stroke="#4c86c8" stroke-width="0.3" opacity="0.75"/>
<circle cx="345.9" cy="395.5" r="16.7" fill="none" stroke="#1fd6d6" stroke-width="0.55"/>
<path d="M329.21 396.08A16.7 16.7 0 0 1 336.32 381.82" fill="none" stroke="#46e47c" stroke-width="0.8"/>
<path d="M358.31 384.33A16.7 16.7 0 0 1 362.56 396.66" fill="none" stroke="#f06a6a" stroke-width="0.85"/>
<path d="M362.59 396.08A16.7 16.7 0 0 1 329.21 396.08" fill="none" stroke="#1a9ab8" stroke-width="0.6" opacity="0.55"/>
<text x="332.6" y="396.13" font-size="1.7" fill="#9fd8e8" text-anchor="middle">0</text>
<text x="335.42" y="387.94" font-size="1.7" fill="#9fd8e8" text-anchor="middle">50</text>
<text x="341.79" y="383.48" font-size="1.7" fill="#9fd8e8" text-anchor="middle">100</text>
<text x="350.01" y="383.48" font-size="1.7" fill="#9fd8e8" text-anchor="middle">150</text>
<text x="356.38" y="387.94" font-size="1.7" fill="#9fd8e8" text-anchor="middle">200</text>
<text x="359.2" y="396.13" font-size="1.7" fill="#9fd8e8" text-anchor="middle">250</text>
<polygon points="334.3,395.2 346.2,394.7 346.2,396.1 334.3,395.7" fill="url(#ndc)"/>
<text x="345.9" y="420" font-size="5.4" fill="#1fe0d8" text-anchor="middle" font-weight="bold">2</text>
<text x="345.9" y="427.39" font-size="2.9" fill="#e8f4ff" text-anchor="middle" textLength="21" lengthAdjust="spacingAndGlyphs">当前电率(kw)</text>
<circle cx="391.5" cy="395.5" r="16.7" fill="none" stroke="#1fe0d0" stroke-width="0.55"/>
<path d="M374.89 393.75A16.7 16.7 0 0 1 397.76 380.02" fill="none" stroke="#f06a6a" stroke-width="0.85"/>
<path d="M398.29 380.24A16.7 16.7 0 0 1 408.11 397.25" fill="none" stroke="#3ee88a" stroke-width="0.8"/>
<text x="378" y="396.13" font-size="1.7" fill="#9fd8e8" text-anchor="middle">0</text>
<text x="381.95" y="386.58" font-size="1.7" fill="#9fd8e8" text-anchor="middle">200</text>
<text x="391.5" y="382.63" font-size="1.7" fill="#9fd8e8" text-anchor="middle">400</text>
<text x="401.05" y="386.58" font-size="1.7" fill="#9fd8e8" text-anchor="middle">600</text>
<text x="405" y="396.13" font-size="1.7" fill="#9fd8e8" text-anchor="middle">800</text>
<text x="401.05" y="405.67" font-size="1.7" fill="#9fd8e8" text-anchor="middle">1000</text>
<text x="391.5" y="409.63" font-size="1.7" fill="#9fd8e8" text-anchor="middle">1200</text>
<text x="381.95" y="405.67" font-size="1.7" fill="#9fd8e8" text-anchor="middle">1400</text>
<polygon points="378.5,394.6 393.2,395 395.5,396.2 393,396.2" fill="#2fd8e8"/>
<text x="391.5" y="420" font-size="5.4" fill="#f2d044" text-anchor="middle" font-weight="bold" letter-spacing="0.5">615.2</text>
<text x="391.5" y="427.39" font-size="2.9" fill="#e8f4ff" text-anchor="middle" textLength="27" lengthAdjust="spacingAndGlyphs">当日发电量(kwh)</text>
<path d="M448.4 397.9L442.06 411.49A15 15 0 0 1 454.74 384.31Z" fill="url(#pgc)"/>
<path d="M448.4 397.9L454.08 382.3A16.6 16.6 0 0 1 464.75 400.78Z" fill="#1e84e4"/>
<path d="M448.4 397.9L461.2 400.16A13 13 0 0 1 454.9 409.16Z" fill="#5a8c94"/>
<path d="M448.4 397.9L456.1 411.24A15.4 15.4 0 0 1 441.17 411.5Z" fill="#1fb4e4"/>
<text x="432.2" y="385.65" font-size="2.8" fill="#fff" text-anchor="end" font-weight="bold">空调插座</text>
<text x="432.2" y="392.33" font-size="3.6" fill="#fff" text-anchor="end" font-weight="bold">50.28%</text>
<polyline points="433,391 436.5,391 438.5,393.4" fill="none" stroke="#e8f4ff" stroke-width="0.3"/>
<text x="462.3" y="383.55" font-size="2.8" fill="#fff" font-weight="bold">照明插座用电</text>
<text x="462.3" y="389.63" font-size="3.6" fill="#fff" font-weight="bold">24.45%</text>
<polyline points="461.5,384.6 458.5,387.6" fill="none" stroke="#e8f4ff" stroke-width="0.3"/>
<text x="462.3" y="406.95" font-size="2.8" fill="#fff" font-weight="bold">动力用电</text>
<text x="462.3" y="413.33" font-size="3.6" fill="#fff" font-weight="bold">15.04%</text>
<polyline points="461.5,408 459.2,405.8" fill="none" stroke="#e8f4ff" stroke-width="0.3"/>
<text x="440.6" y="412.65" font-size="2.8" fill="#fff" text-anchor="end" font-weight="bold">特殊用电</text>
<text x="440.6" y="419.33" font-size="3.6" fill="#fff" text-anchor="end" font-weight="bold">10.23%</text>
<polyline points="441.4,413.6 445.2,412" fill="none" stroke="#e8f4ff" stroke-width="0.3"/>
<text x="449.4" y="427.39" font-size="2.9" fill="#e8f4ff" text-anchor="middle" textLength="20.5" lengthAdjust="spacingAndGlyphs">分项能耗占比</text>
<rect x="373.7" y="437.9" width="4.6" height="2.2" fill="#1fc0f2"/>
<text x="379.3" y="439.7" font-size="1.7" fill="#d8ecff">照明插座用电</text>
<rect x="392.8" y="437.9" width="4.6" height="2.2" fill="#1fd090"/>
<text x="398.4" y="439.7" font-size="1.7" fill="#d8ecff">空调用电</text>
<rect x="373.7" y="441.3" width="4.6" height="2.2" fill="#f2c024"/>
<text x="379.3" y="443.1" font-size="1.7" fill="#d8ecff">动力用电</text>
<rect x="392.8" y="441.3" width="4.6" height="2.2" fill="#8fe0f2"/>
<text x="398.4" y="443.1" font-size="1.7" fill="#d8ecff">特殊用电</text>
<text x="326.6" y="447" font-size="1.7" fill="#cfe4f8">单位 : KWh</text>
<text x="406.4" y="447" font-size="1.7" fill="#cfe4f8" text-anchor="end">时间 : 6月</text>
<text x="332.6" y="483.77" font-size="1.8" fill="#cfe4f8" text-anchor="end">0</text>
<line x1="334.3" y1="483.1" x2="406.4" y2="483.1" stroke="#7aa4d0" stroke-width="0.4" opacity="1"/>
<text x="332.6" y="477.43" font-size="1.8" fill="#cfe4f8" text-anchor="end">500</text>
<line x1="334.3" y1="476.76" x2="406.4" y2="476.76" stroke="#7aa4d0" stroke-width="0.22" opacity="0.45"/>
<text x="332.6" y="471.09" font-size="1.8" fill="#cfe4f8" text-anchor="end">1000</text>
<line x1="334.3" y1="470.42" x2="406.4" y2="470.42" stroke="#7aa4d0" stroke-width="0.22" opacity="0.45"/>
<text x="332.6" y="464.75" font-size="1.8" fill="#cfe4f8" text-anchor="end">1500</text>
<line x1="334.3" y1="464.08" x2="406.4" y2="464.08" stroke="#7aa4d0" stroke-width="0.22" opacity="0.45"/>
<text x="332.6" y="458.41" font-size="1.8" fill="#cfe4f8" text-anchor="end">2000</text>
<line x1="334.3" y1="457.74" x2="406.4" y2="457.74" stroke="#7aa4d0" stroke-width="0.22" opacity="0.45"/>
<text x="332.6" y="452.07" font-size="1.8" fill="#cfe4f8" text-anchor="end">2500</text>
<line x1="334.3" y1="451.4" x2="406.4" y2="451.4" stroke="#7aa4d0" stroke-width="0.22" opacity="0.45"/>
<line x1="334.3" y1="451.4" x2="406.4" y2="451.4" stroke="#c8d8ec" stroke-width="0.35"/>
<rect x="340.8" y="474.6" width="1.35" height="8.5" fill="#1fb4ec"/>
<rect x="342.35" y="470.7" width="1.35" height="12.4" fill="#1fb890"/>
<rect x="343.9" y="468.9" width="1.35" height="14.2" fill="#e2b42a"/>
<rect x="345.45" y="478.5" width="1.35" height="4.6" fill="#86d8ee"/>
<rect x="349.3" y="472.8" width="1.35" height="10.3" fill="#1fb4ec"/>
<rect x="350.85" y="465.1" width="1.35" height="18" fill="#1fb890"/>
<rect x="352.4" y="467.6" width="1.35" height="15.5" fill="#e2b42a"/>
<rect x="353.95" y="476.4" width="1.35" height="6.7" fill="#86d8ee"/>
<rect x="357.6" y="468.7" width="1.35" height="14.4" fill="#1fb4ec"/>
<rect x="359.15" y="466.9" width="1.35" height="16.2" fill="#1fb890"/>
<rect x="360.7" y="463.8" width="1.35" height="19.3" fill="#e2b42a"/>
<rect x="362.25" y="479" width="1.35" height="4.1" fill="#86d8ee"/>
<rect x="366.6" y="468.7" width="1.35" height="14.4" fill="#1fb4ec"/>
<rect x="368.15" y="466.4" width="1.35" height="16.7" fill="#1fb890"/>
<rect x="369.7" y="468.2" width="1.35" height="14.9" fill="#e2b42a"/>
<rect x="371.25" y="474.6" width="1.35" height="8.5" fill="#86d8ee"/>
<rect x="375.1" y="472" width="1.35" height="11.1" fill="#1fb4ec"/>
<rect x="376.65" y="462.5" width="1.35" height="20.6" fill="#1fb890"/>
<rect x="378.2" y="464.3" width="1.35" height="18.8" fill="#e2b42a"/>
<rect x="379.75" y="473.8" width="1.35" height="9.3" fill="#86d8ee"/>
<rect x="384.1" y="470.7" width="1.35" height="12.4" fill="#1fb4ec"/>
<rect x="385.65" y="464.8" width="1.35" height="18.3" fill="#1fb890"/>
<rect x="387.2" y="464.8" width="1.35" height="18.3" fill="#e2b42a"/>
<rect x="388.75" y="475.4" width="1.35" height="7.7" fill="#86d8ee"/>
<rect x="393.1" y="472" width="1.35" height="11.1" fill="#1fb4ec"/>
<rect x="394.65" y="466.9" width="1.35" height="16.2" fill="#1fb890"/>
<rect x="396.2" y="466.9" width="1.35" height="16.2" fill="#e2b42a"/>
<rect x="397.75" y="477.2" width="1.35" height="5.9" fill="#86d8ee"/>
<text x="343.8" y="486.94" font-size="1.8" fill="#cfe4f8" text-anchor="middle">1月</text>
<text x="352.3" y="486.94" font-size="1.8" fill="#cfe4f8" text-anchor="middle">2月</text>
<text x="360.6" y="486.94" font-size="1.8" fill="#cfe4f8" text-anchor="middle">3月</text>
<text x="369.6" y="486.94" font-size="1.8" fill="#cfe4f8" text-anchor="middle">4月</text>
<text x="378.1" y="486.94" font-size="1.8" fill="#cfe4f8" text-anchor="middle">5月</text>
<text x="387.1" y="486.94" font-size="1.8" fill="#cfe4f8" text-anchor="middle">6月</text>
<text x="396.1" y="486.94" font-size="1.8" fill="#cfe4f8" text-anchor="middle">7月</text>
<text x="367.8" y="493.21" font-size="2.7" fill="#e8f4ff" text-anchor="middle" textLength="20" lengthAdjust="spacingAndGlyphs">分项能耗分析</text>
<rect x="458.7" y="445.9" width="1.8" height="1.8" fill="#1f9af2"/>
<text x="461.1" y="447.62" font-size="2" fill="#1f9af2">正常</text>
<rect x="467.3" y="445.9" width="1.8" height="1.8" fill="#f2c82a"/>
<text x="469.7" y="447.62" font-size="2" fill="#f2c82a">异常</text>
<rect x="475.9" y="445.9" width="1.8" height="1.8" fill="#f26a6a"/>
<text x="478.3" y="447.62" font-size="2" fill="#f26a6a">其他</text>
<line x1="414.2" y1="449.5" x2="414.2" y2="484.1" stroke="#7aa4d0" stroke-width="0.3"/>
<line x1="414.2" y1="484.1" x2="487" y2="484.1" stroke="#7aa4d0" stroke-width="0.3"/>
<text x="412.8" y="479.42" font-size="1.8" fill="#cfe4f8" text-anchor="end">50</text>
<text x="412.8" y="474.07" font-size="1.8" fill="#cfe4f8" text-anchor="end">100</text>
<text x="412.8" y="468.72" font-size="1.8" fill="#cfe4f8" text-anchor="end">150</text>
<text x="412.8" y="463.37" font-size="1.8" fill="#cfe4f8" text-anchor="end">200</text>
<text x="412.8" y="458.02" font-size="1.8" fill="#cfe4f8" text-anchor="end">250</text>
<text x="412.8" y="452.67" font-size="1.8" fill="#cfe4f8" text-anchor="end">300</text>
<rect x="423.9" y="450.7" width="3.6" height="33.4" fill="#1fbcec"/>
<text x="425.7" y="449.74" font-size="2.8" fill="#3fa0f5" text-anchor="middle">302.16</text>
<text x="425.7" y="487.04" font-size="1.8" fill="#cfe4f8" text-anchor="middle">第三车间</text>
<rect x="441.5" y="475.1" width="3.6" height="9" fill="#1fbcec"/>
<text x="443.3" y="474.14" font-size="2.8" fill="#f2a048" text-anchor="middle">68.28</text>
<text x="443.3" y="487.04" font-size="1.8" fill="#cfe4f8" text-anchor="middle">第二车间</text>
<rect x="458.2" y="477.7" width="3.6" height="6.4" fill="#1fbcec"/>
<text x="460" y="476.74" font-size="2.8" fill="#f26a6a" text-anchor="middle">50.60</text>
<text x="460" y="487.04" font-size="1.8" fill="#cfe4f8" text-anchor="middle">第五车间</text>
<rect x="476.7" y="459.7" width="3.6" height="24.4" fill="#1fbcec"/>
<text x="478.5" y="458.74" font-size="2.8" fill="#3fa0f5" text-anchor="middle">227.50</text>
<text x="478.5" y="487.04" font-size="1.8" fill="#cfe4f8" text-anchor="middle">第六车间</text>
<text x="451.5" y="493.21" font-size="2.7" fill="#e8f4ff" text-anchor="middle" textLength="13.5" lengthAdjust="spacingAndGlyphs">储能情况</text>
</svg>
<svg class="dash" style="left:504.2px;top:285.4px" width="1924" height="1075" viewBox="504.2 285.4 384.8 215" font-family='"Liberation Sans","Noto Sans CJK SC",sans-serif' font-weight="500">
<defs>
<linearGradient id="bgd" x1="0" y1="0" x2="0" y2="1"><stop offset="0" stop-color="#021f4a"/><stop offset="0.45" stop-color="#03224f"/><stop offset="1" stop-color="#031d47"/></linearGradient>
<radialGradient id="gld" cx="0.45" cy="0.3" r="0.52"><stop offset="0" stop-color="#0a5290" stop-opacity="0.32"/><stop offset="1" stop-color="#06306a" stop-opacity="0"/></radialGradient>
<linearGradient id="hld" x1="0" y1="0" x2="1" y2="0"><stop offset="0" stop-color="#7fb6ea" stop-opacity="0"/><stop offset="0.25" stop-color="#8fc2f0" stop-opacity="0.9"/><stop offset="1" stop-color="#b8dcff" stop-opacity="1"/></linearGradient>
<linearGradient id="dvd" x1="0" y1="0" x2="1" y2="0"><stop offset="0" stop-color="#7fb6ea" stop-opacity="0"/><stop offset="0.5" stop-color="#8fc2f0" stop-opacity="0.9"/><stop offset="1" stop-color="#7fb6ea" stop-opacity="0"/></linearGradient>
<linearGradient id="hbd" x1="0" y1="0" x2="0" y2="1"><stop offset="0" stop-color="#0c5480" stop-opacity="0.85"/><stop offset="0.3" stop-color="#0a4674" stop-opacity="0.45"/><stop offset="1" stop-color="#0a4070" stop-opacity="0"/></linearGradient>
</defs>
<rect x="504.2" y="285.4" width="384.8" height="215" fill="url(#bgd)"/>
<rect x="504.2" y="285.4" width="384.8" height="215" fill="url(#gld)"/>
<g fill="#9fd0ff"><circle cx="725.29" cy="441.02" r="0.42" opacity="0.3"/><circle cx="668.48" cy="439.95" r="0.2" opacity="0.3"/><circle cx="825.74" cy="460.74" r="0.31" opacity="0.53"/><circle cx="689.42" cy="348.78" r="0.19" opacity="0.17"/><circle cx="838.2" cy="354.88" r="0.27" opacity="0.53"/><circle cx="626.86" cy="360.04" r="0.46" opacity="0.18"/><circle cx="597.39" cy="465.12" r="0.38" opacity="0.21"/><circle cx="835.63" cy="325.7" r="0.36" opacity="0.42"/><circle cx="859.1" cy="346.35" r="0.22" opacity="0.45"/><circle cx="822.55" cy="358.75" r="0.32" opacity="0.52"/><circle cx="612.96" cy="447.76" r="0.25" opacity="0.44"/><circle cx="633.12" cy="331.1" r="0.34" opacity="0.5"/><circle cx="655.33" cy="374.54" r="0.4" opacity="0.23"/><circle cx="887.06" cy="343.57" r="0.36" opacity="0.21"/><circle cx="650.82" cy="390.09" r="0.29" opacity="0.4"/><circle cx="757.24" cy="449.19" r="0.18" opacity="0.17"/><circle cx="518.85" cy="338.95" r="0.2" opacity="0.15"/><circle cx="858.4" cy="410.04" r="0.31" opacity="0.54"/><circle cx="638.93" cy="437" r="0.47" opacity="0.29"/><circle cx="735.92" cy="447.19" r="0.2" opacity="0.39"/><circle cx="625.98" cy="387.89" r="0.25" opacity="0.38"/><circle cx="888.57" cy="363.98" r="0.3" opacity="0.21"/><circle cx="869.26" cy="307.52" r="0.2" opacity="0.44"/><circle cx="659.5" cy="397.79" r="0.44" opacity="0.35"/><circle cx="843.17" cy="353.29" r="0.24" opacity="0.48"/><circle cx="611.85" cy="355.52" r="0.42" opacity="0.42"/><circle cx="659.12" cy="405.13" r="0.28" opacity="0.39"/><circle cx="609.95" cy="491.72" r="0.33" opacity="0.18"/><circle cx="878.32" cy="332.59" r="0.2" opacity="0.22"/><circle cx="571.31" cy="360.69" r="0.32" opacity="0.17"/><circle cx="634.48" cy="473.42" r="0.24" opacity="0.19"/><circle cx="854.85" cy="321.56" r="0.4" opacity="0.48"/><circle cx="709.31" cy="477.86" r="0.29" opacity="0.48"/><circle cx="716.47" cy="319.16" r="0.19" opacity="0.23"/><circle cx="564.18" cy="349.82" r="0.37" opacity="0.52"/><circle cx="787.74" cy="433.06" r="0.28" opacity="0.51"/><circle cx="795.35" cy="337.86" r="0.32" opacity="0.35"/><circle cx="603.65" cy="489.07" r="0.39" opacity="0.48"/><circle cx="591.88" cy="442.44" r="0.29" opacity="0.16"/><circle cx="729.24" cy="345.11" r="0.32" opacity="0.23"/><circle cx="677.89" cy="468.68" r="0.18" opacity="0.51"/><circle cx="876.6" cy="331.4" r="0.41" opacity="0.23"/><circle cx="531.96" cy="351.78" r="0.2" opacity="0.27"/><circle cx="845.41" cy="376.16" r="0.33" opacity="0.16"/><circle cx="750.89" cy="487.38" r="0.41" opacity="0.19"/><circle cx="773.47" cy="470.5" r="0.33" opacity="0.36"/><circle cx="648.54" cy="461.91" r="0.35" opacity="0.43"/><circle cx="592.78" cy="389.15" r="0.32" opacity="0.47"/><circle cx="862.63" cy="340.78" r="0.4" opacity="0.48"/><circle cx="645.55" cy="469.47" r="0.46" opacity="0.38"/><circle cx="661.91" cy="451.39" r="0.46" opacity="0.44"/><circle cx="719.61" cy="454.6" r="0.28" opacity="0.32"/><circle cx="856.68" cy="376.35" r="0.23" opacity="0.41"/><circle cx="650.62" cy="381.13" r="0.38" opacity="0.18"/><circle cx="823.26" cy="470.3" r="0.45" opacity="0.21"/><circle cx="505.03" cy="459.45" r="0.21" opacity="0.33"/><circle cx="870.45" cy="491.12" r="0.31" opacity="0.28"/><circle cx="786.14" cy="417.04" r="0.3" opacity="0.3"/><circle cx="515.61" cy="368.48" r="0.4" opacity="0.44"/><circle cx="736.15" cy="469.13" r="0.19" opacity="0.2"/><circle cx="660.26" cy="330.63" r="0.28" opacity="0.2"/><circle cx="726.14" cy="353.52" r="0.33" opacity="0.34"/><circle cx="701.96" cy="350.73" r="0.34" opacity="0.38"/><circle cx="785.01" cy="344.72" r="0.46" opacity="0.44"/><circle cx="719.16" cy="480.72" r="0.29" opacity="0.52"/><circle cx="743.49" cy="482.1" r="0.26" opacity="0.28"/><circle cx="777.34" cy="393.83" r="0.4" opacity="0.52"/><circle cx="628.2" cy="450.03" r="0.41" opacity="0.23"/><circle cx="562.55" cy="363.68" r="0.32" opacity="0.25"/><circle cx="649.84" cy="491.51" r="0.26" opacity="0.35"/><circle cx="600.64" cy="465.82" r="0.27" opacity="0.2"/><circle cx="600.24" cy="456" r="0.28" opacity="0.31"/><circle cx="727.42" cy="323.38" r="0.27" opacity="0.51"/><circle cx="873.33" cy="415.19" r="0.38" opacity="0.32"/><circle cx="793.05" cy="356.67" r="0.39" opacity="0.16"/><circle cx="691.33" cy="384.52" r="0.46" opacity="0.21"/><circle cx="816.19" cy="386.69" r="0.42" opacity="0.23"/><circle cx="840.17" cy="450.41" r="0.47" opacity="0.53"/><circle cx="821.8" cy="482.41" r="0.38" opacity="0.31"/><circle cx="849.36" cy="414.1" r="0.42" opacity="0.43"/><circle cx="672.29" cy="336" r="0.26" opacity="0.46"/><circle cx="637.63" cy="462.78" r="0.31" opacity="0.5"/><circle cx="548.33" cy="492.38" r="0.26" opacity="0.48"/><circle cx="592.09" cy="438.15" r="0.23" opacity="0.15"/><circle cx="733.17" cy="356.38" r="0.22" opacity="0.37"/><circle cx="783.89" cy="361.01" r="0.22" opacity="0.18"/><circle cx="747.88" cy="467.64" r="0.37" opacity="0.34"/><circle cx="550.13" cy="395.48" r="0.37" opacity="0.21"/><circle cx="512.92" cy="449.97" r="0.2" opacity="0.26"/><circle cx="759.6" cy="380.51" r="0.31" opacity="0.17"/><circle cx="884.18" cy="476.05" r="0.44" opacity="0.42"/><circle cx="763.88" cy="383.85" r="0.22" opacity="0.42"/><circle cx="571.18" cy="348.72" r="0.18" opacity="0.21"/><circle cx="619.29" cy="364.95" r="0.21" opacity="0.21"/><circle cx="602.24" cy="339.49" r="0.28" opacity="0.46"/><circle cx="561.46" cy="444.82" r="0.27" opacity="0.23"/><circle cx="638.01" cy="436.01" r="0.44" opacity="0.5"/><circle cx="573.19" cy="329.28" r="0.43" opacity="0.48"/><circle cx="687.48" cy="334.95" r="0.27" opacity="0.52"/><circle cx="869.76" cy="429.28" r="0.35" opacity="0.36"/><circle cx="789.89" cy="471.31" r="0.42" opacity="0.43"/><circle cx="504.49" cy="368.55" r="0.45" opacity="0.19"/><circle cx="610.87" cy="418.56" r="0.34" opacity="0.32"/><circle cx="598.79" cy="343.68" r="0.28" opacity="0.17"/><circle cx="801.52" cy="487.57" r="0.27" opacity="0.28"/><circle cx="605.28" cy="411.91" r="0.29" opacity="0.47"/><circle cx="817.73" cy="455.97" r="0.29" opacity="0.51"/><circle cx="546.54" cy="426.82" r="0.44" opacity="0.44"/><circle cx="850.73" cy="434.29" r="0.31" opacity="0.5"/><circle cx="833.27" cy="402.8" r="0.26" opacity="0.34"/><circle cx="781.46" cy="481.69" r="0.2" opacity="0.22"/><circle cx="774.31" cy="435.98" r="0.25" opacity="0.44"/><circle cx="551.97" cy="413.24" r="0.38" opacity="0.19"/><circle cx="595.13" cy="459.37" r="0.43" opacity="0.37"/><circle cx="771.24" cy="431.97" r="0.44" opacity="0.51"/><circle cx="547.54" cy="446.3" r="0.21" opacity="0.23"/><circle cx="852.3" cy="372.19" r="0.24" opacity="0.41"/><circle cx="825.79" cy="382.6" r="0.47" opacity="0.4"/><circle cx="830.38" cy="335.78" r="0.44" opacity="0.34"/><circle cx="599.04" cy="453.75" r="0.39" opacity="0.23"/><circle cx="817.73" cy="341.31" r="0.44" opacity="0.51"/><circle cx="774.17" cy="467.88" r="0.21" opacity="0.35"/><circle cx="683.69" cy="401.45" r="0.45" opacity="0.23"/><circle cx="741.99" cy="333.74" r="0.48" opacity="0.55"/><circle cx="648.38" cy="347.77" r="0.2" opacity="0.25"/><circle cx="608.55" cy="448.32" r="0.26" opacity="0.51"/><circle cx="882.48" cy="330.52" r="0.41" opacity="0.48"/><circle cx="673.55" cy="391.09" r="0.34" opacity="0.25"/><circle cx="805.09" cy="428.55" r="0.42" opacity="0.34"/><circle cx="607.24" cy="325.81" r="0.22" opacity="0.28"/><circle cx="723.69" cy="404.49" r="0.48" opacity="0.47"/><circle cx="598.18" cy="463.02" r="0.32" opacity="0.46"/><circle cx="613.44" cy="456.4" r="0.47" opacity="0.35"/><circle cx="847.69" cy="437.28" r="0.21" opacity="0.4"/><circle cx="769.38" cy="450.59" r="0.22" opacity="0.45"/><circle cx="522.59" cy="323.19" r="0.26" opacity="0.33"/><circle cx="690.07" cy="312.58" r="0.35" opacity="0.15"/><circle cx="687.73" cy="381.01" r="0.34" opacity="0.42"/><circle cx="856.71" cy="351.29" r="0.32" opacity="0.34"/><circle cx="604.71" cy="393.77" r="0.32" opacity="0.45"/><circle cx="567.28" cy="360.67" r="0.47" opacity="0.31"/><circle cx="585.42" cy="308.27" r="0.39" opacity="0.38"/><circle cx="780.26" cy="359.27" r="0.25" opacity="0.53"/><circle cx="548.12" cy="417.79" r="0.39" opacity="0.41"/><circle cx="569.25" cy="447.61" r="0.18" opacity="0.52"/><circle cx="778.32" cy="326.74" r="0.23" opacity="0.47"/><circle cx="848.91" cy="388.73" r="0.3" opacity="0.2"/><circle cx="712.39" cy="478.1" r="0.24" opacity="0.18"/><circle cx="673.49" cy="463.32" r="0.45" opacity="0.29"/><circle cx="674.12" cy="377.67" r="0.29" opacity="0.51"/><circle cx="508.07" cy="403.41" r="0.3" opacity="0.2"/><circle cx="809.57" cy="337.94" r="0.47" opacity="0.42"/><circle cx="685.92" cy="351.65" r="0.29" opacity="0.3"/><circle cx="655.5" cy="480.34" r="0.25" opacity="0.42"/><circle cx="826.79" cy="370.82" r="0.47" opacity="0.39"/><circle cx="649.64" cy="361.61" r="0.42" opacity="0.51"/><circle cx="509.79" cy="408.55" r="0.42" opacity="0.3"/><circle cx="630.18" cy="424.46" r="0.18" opacity="0.25"/><circle cx="587.27" cy="435.76" r="0.39" opacity="0.25"/><circle cx="869.58" cy="319.98" r="0.3" opacity="0.15"/><circle cx="660.42" cy="455.65" r="0.29" opacity="0.45"/><circle cx="548.92" cy="428.31" r="0.24" opacity="0.2"/><circle cx="755.29" cy="371.84" r="0.2" opacity="0.54"/><circle cx="520.92" cy="372.2" r="0.28" opacity="0.43"/><circle cx="584.27" cy="449.49" r="0.21" opacity="0.22"/><circle cx="838.97" cy="497.87" r="0.37" opacity="0.52"/><circle cx="526.39" cy="455.98" r="0.28" opacity="0.49"/><circle cx="873.76" cy="395.75" r="0.34" opacity="0.43"/><circle cx="644.26" cy="370.39" r="0.19" opacity="0.33"/><circle cx="762.6" cy="402.85" r="0.47" opacity="0.37"/></g>
<rect x="504.2" y="285.4" width="384.8" height="19.2" fill="#021a3f"/>
<rect x="504.2" y="304.6" width="384.8" height="9" fill="url(#hbd)"/>
<rect x="508.5" y="289.2" width="24.6" height="6.3" fill="#2458c8" rx="0.5" opacity="0.6"/>
<text x="509" y="294.9" font-size="7.7" font-weight="bold" textLength="23.6" lengthAdjust="spacingAndGlyphs" stroke-width="0.35" font-family='"Liberation Sans","Noto Sans CJK SC",sans-serif'><tspan fill="#ffffff" stroke="#ffffff">E</tspan><tspan fill="#f58a7c" stroke="#f58a7c">N</tspan><tspan fill="#ffffff" stroke="#ffffff">T</tspan></text>
<text x="533.8" y="290.61" font-size="2.2" fill="#fff">®</text>
<text x="537.2" y="295.98" font-size="8" fill="#fff" font-weight="900" textLength="40.3" lengthAdjust="spacingAndGlyphs">伊诺特仪表</text>
<text x="508.2" y="301.83" font-size="4.1" fill="#fff" font-weight="500" textLength="69.4" lengthAdjust="spacingAndGlyphs">企业能效管理系统功能·燃气管理</text>
<rect x="587.5" y="292.1" width="120" height="7.9" fill="#03153a" rx="3.95" stroke="#8fb4dc" stroke-width="0.4" opacity="1"/>
<circle cx="699.2" cy="295.8" r="1.8" fill="none" stroke="#fff" stroke-width="0.7"/>
<line x1="700.5" y1="297.1" x2="701.9" y2="298.4" stroke="#fff" stroke-width="0.75"/>
<circle cx="797.3" cy="293.3" r="1.9" fill="none" stroke="#fff" stroke-width="0.7"/>
<path d="M794 297.8C794.3 294.4 800.3 294.4 800.6 297.8" fill="none" stroke="#fff" stroke-width="0.7"/>
<text x="803" y="296.13" font-size="3.5" fill="#fff" font-weight="bold" textLength="12" lengthAdjust="spacingAndGlyphs">管理员</text>
<circle cx="823.4" cy="294.7" r="3.35" fill="none" stroke="#fff" stroke-width="0.6"/>
<path d="M821.9 292.6L823.4 294.6L824.9 292.6M823.4 294.6L823.4 297M822 294.8L824.8 294.8M822 295.8L824.8 295.8" fill="none" stroke="#fff" stroke-width="0.5"/>
<text x="829" y="296.13" font-size="3.5" fill="#fff" font-weight="bold" textLength="7.9" lengthAdjust="spacingAndGlyphs">缴费</text>
<polygon points="845.4,291.4 848.9,294.5 847.9,294.5 847.9,297.7 846.3,297.7 846.3,295.6 844.5,295.6 844.5,297.7 842.9,297.7 842.9,294.5 841.9,294.5" fill="#fff"/>
<text x="851.2" y="296.13" font-size="3.5" fill="#fff" font-weight="bold" textLength="7.4" lengthAdjust="spacingAndGlyphs">首页</text>
<path d="M864.9 292.8H869.7A1.9 1.9 0 0 1 869.7 296.6H865.9" fill="none" stroke="#fff" stroke-width="0.6"/>
<polygon points="864.5,296.6 866.5,295.3 866.5,297.9" fill="#fff"/>
<text x="873.5" y="296.13" font-size="3.5" fill="#fff" font-weight="bold" textLength="7.5" lengthAdjust="spacingAndGlyphs">返回</text>
<text x="813" y="310.84" font-size="3.4" fill="#fff" font-weight="500" textLength="28" lengthAdjust="spacingAndGlyphs">2020年10月10日</text>
<text x="846.6" y="310.84" font-size="3.4" fill="#fff" font-weight="500" textLength="20.1" lengthAdjust="spacingAndGlyphs">10 : 10 : 00</text>
<text x="870.9" y="310.84" font-size="3.4" fill="#fff" font-weight="500" textLength="10.1" lengthAdjust="spacingAndGlyphs">星期六</text>
<rect x="545.2" y="312.75" width="335.5" height="0.45" fill="url(#hld)"/>
<rect x="507.65" y="308.8" width="36.4" height="188.4" fill="#04306c" stroke="#15558a" stroke-width="0.35" opacity="0.55"/>
<rect x="507.8" y="308.95" width="36.1" height="32.3" fill="#021a44" opacity="0.85"/>
<rect x="511.7" y="341.1" width="28" height="0.4" fill="url(#dvd)"/>
<rect x="511.7" y="372.5" width="28" height="0.4" fill="url(#dvd)"/>
<rect x="511.7" y="402.3" width="28" height="0.4" fill="url(#dvd)"/>
<rect x="511.7" y="431.3" width="28" height="0.4" fill="url(#dvd)"/>
<rect x="511.7" y="462" width="28" height="0.4" fill="url(#dvd)"/>
<line x1="520.8" y1="329.5" x2="530.4" y2="329.5" stroke="#27b4dc" stroke-width="0.6"/><rect x="521.85" y="325.5" width="0.9" height="3.2" fill="#27b4dc"/><rect x="523.65" y="323.5" width="0.9" height="5.2" fill="#27b4dc"/><rect x="525.45" y="324.7" width="0.9" height="4" fill="#27b4dc"/><rect x="527.25" y="322.1" width="0.9" height="6.6" fill="#27b4dc"/><rect x="528.85" y="320.1" width="0.9" height="8.6" fill="#27b4dc"/>
<text x="525.6" y="337.98" font-size="4.1" fill="#27b4dc" text-anchor="middle" font-weight="bold" textLength="17.6" lengthAdjust="spacingAndGlyphs">统计分析</text>
<rect x="521.6" y="352.1" width="8" height="8.8" fill="none" stroke="#ffffff" stroke-width="0.9"/><rect x="524" y="350.3" width="3.2" height="2" fill="#ffffff"/><rect x="523.6" y="354.9" width="4" height="3.6" fill="#ffffff" opacity="0.75"/>
<text x="525.6" y="368.08" font-size="4.1" fill="#ffffff" text-anchor="middle" font-weight="bold" textLength="17.6" lengthAdjust="spacingAndGlyphs">账户档案</text>
<circle cx="525.6" cy="387.3" r="4.3" fill="none" stroke="#ffffff" stroke-width="0.8"/><rect x="525.15" y="384.7" width="0.9" height="3.4" fill="#ffffff"/><circle cx="525.6" cy="389.4" r="0.6" fill="#ffffff"/>
<text x="525.6" y="398.68" font-size="4.1" fill="#ffffff" text-anchor="middle" font-weight="bold" textLength="17.6" lengthAdjust="spacingAndGlyphs">故障报警</text>
<circle cx="525.6" cy="417.2" r="3.6" fill="none" stroke="#ffffff" stroke-width="1"/><rect x="524.6" y="411.1" width="2" height="1.3" fill="#ffffff"/><circle cx="525.6" cy="417.2" r="1.5" fill="#ffffff" opacity="0.8"/><line x1="525.6" y1="417.2" x2="527.4" y2="415" stroke="#ffffff" stroke-width="0.6"/><rect x="525.2" y="412.2" width="0.8" height="1.4" fill="#ffffff"/>
<text x="525.6" y="427.88" font-size="4.1" fill="#ffffff" text-anchor="middle" font-weight="bold" textLength="17.6" lengthAdjust="spacingAndGlyphs">设备维护</text>
<path d="M525.25 441.21C526.98 443.51 529.74 444.89 529.51 448.11C529.39 450.41 527.67 451.67 525.6 451.67C523.3 451.67 521.58 450.18 521.69 447.65C521.81 445.81 523.07 444.89 523.53 443.51C524.22 444.66 524.57 445.12 525.02 445.58C525.72 444.2 525.83 442.82 525.25 441.21Z" fill="none" stroke="#ffffff" stroke-width="0.95" stroke-linejoin="round"/><path d="M525.65 446.5C526.4 447.5 527.6 448.1 527.5 449.5C527.45 450.5 526.7 451.05 525.8 451.05C524.8 451.05 524.05 450.4 524.1 449.3C524.15 448.5 524.7 448.1 524.9 447.5C525.2 448 525.35 448.2 525.55 448.4C525.85 447.8 525.9 447.2 525.65 446.5Z" fill="#ffffff"/>
<text x="525.6" y="458.08" font-size="4.1" fill="#ffffff" text-anchor="middle" font-weight="bold" textLength="17.6" lengthAdjust="spacingAndGlyphs">智能抄表</text>
<polygon points="527.85,473.1 530.1,477 527.85,480.9 523.35,480.9 521.1,477 523.35,473.1" fill="none" stroke="#ffffff" stroke-width="0.9" stroke-linejoin="round"/><circle cx="525.6" cy="477" r="1.7" fill="none" stroke="#ffffff" stroke-width="0.9"/>
<text x="525.6" y="486.78" font-size="4.1" fill="#ffffff" text-anchor="middle" font-weight="bold" textLength="17.6" lengthAdjust="spacingAndGlyphs">系统设置</text>
<defs><linearGradient id="icd" x1="0" y1="0" x2="0" y2="1"><stop offset="0" stop-color="#2266d0"/><stop offset="1" stop-color="#0f3a8c"/></linearGradient><linearGradient id="hxd" x1="0" y1="0" x2="0" y2="1"><stop offset="0" stop-color="#0f3f98" stop-opacity="0.7"/><stop offset="1" stop-color="#2f9cf5"/></linearGradient><linearGradient id="ybd" x1="0" y1="0" x2="0" y2="1"><stop offset="0" stop-color="#f0b818"/><stop offset="0.5" stop-color="#e2c41e"/><stop offset="1" stop-color="#a8a828" stop-opacity="0.85"/></linearGradient><linearGradient id="tbd" x1="0" y1="0" x2="1" y2="0"><stop offset="0" stop-color="#56d4f2"/><stop offset="1" stop-color="#dcf23e"/></linearGradient><linearGradient id="ga1d" x1="0" y1="1" x2="1" y2="0"><stop offset="0" stop-color="#2a74e0"/><stop offset="1" stop-color="#1fe4f2"/></linearGradient><linearGradient id="ga2d" x1="0" y1="1" x2="1" y2="0"><stop offset="0" stop-color="#f59a1e"/><stop offset="1" stop-color="#f8d822"/></linearGradient><linearGradient id="frd" x1="0" y1="0" x2="0" y2="1"><stop offset="0" stop-color="#0c4aa8" stop-opacity="0.4"/><stop offset="1" stop-color="#0c46a0" stop-opacity="0.22"/></linearGradient><linearGradient id="tgd" x1="0" y1="0" x2="1" y2="0"><stop offset="0" stop-color="#3fc8f5" stop-opacity="0"/><stop offset="0.5" stop-color="#6fe0ff" stop-opacity="1"/><stop offset="1" stop-color="#3fc8f5" stop-opacity="0"/></linearGradient></defs>
<rect x="549" y="316.7" width="82.8" height="45.9" fill="#0a4f92" opacity="0.58"/>
<rect x="549" y="316.7" width="82.8" height="45.9" fill="none" stroke="#1c5aa8" stroke-width="0.3" opacity="0.8"/>
<rect x="548.5" y="316.2" width="1" height="1" fill="#2f7df0"/>
<rect x="631.3" y="316.2" width="1" height="1" fill="#2f7df0"/>
<rect x="548.5" y="362.1" width="1" height="1" fill="#2f7df0"/>
<rect x="631.3" y="362.1" width="1" height="1" fill="#2f7df0"/>
<polygon points="561.4,338.6 589.8,338.6 588.6,347 575.6,352.2 562.6,347" fill="url(#hxd)"/>
<polyline points="588.6,347 575.6,352.2 562.6,347" fill="none" stroke="#4fb4ff" stroke-width="0.5"/>
<circle cx="575.6" cy="335" r="11.2" fill="#0a3a86" opacity="0.8"/>
<circle cx="575.6" cy="335" r="10.2" fill="url(#icd)" stroke="#7ab8f5" stroke-width="0.5"/>
<text x="593" y="338.26" font-size="8.8" fill="#f5a623" font-weight="bold" letter-spacing="0.7" stroke="#f5a623" stroke-width="0.25">5371</text>
<text x="593" y="347.33" font-size="3.5" fill="#e8f4ff" font-weight="bold" textLength="27.6" lengthAdjust="spacingAndGlyphs">监管商家（家）</text>
<circle cx="572.2" cy="334.6" r="2.2" fill="#fff" stroke="#1f5ec0" stroke-width="0.4"/>
<circle cx="579" cy="334.6" r="2.2" fill="#fff" stroke="#1f5ec0" stroke-width="0.4"/>
<circle cx="575.6" cy="331.4" r="2.2" fill="#fff" stroke="#1f5ec0" stroke-width="0.4"/>
<rect x="569" y="337" width="13.2" height="3" fill="#fff" rx="1.2"/>
<rect x="568.2" y="340" width="14.8" height="1.2" fill="#d8ecff" opacity="0.8"/>
<rect x="633.2" y="316.7" width="81.4" height="45.9" fill="#0a4f92" opacity="0.58"/>
<rect x="633.2" y="316.7" width="81.4" height="45.9" fill="none" stroke="#1c5aa8" stroke-width="0.3" opacity="0.8"/>
<rect x="632.7" y="316.2" width="1" height="1" fill="#2f7df0"/>
<rect x="714.1" y="316.2" width="1" height="1" fill="#2f7df0"/>
<rect x="632.7" y="362.1" width="1" height="1" fill="#2f7df0"/>
<rect x="714.1" y="362.1" width="1" height="1" fill="#2f7df0"/>
<polygon points="646.4,338.6 674.8,338.6 673.6,347 660.6,352.2 647.6,347" fill="url(#hxd)"/>
<polyline points="673.6,347 660.6,352.2 647.6,347" fill="none" stroke="#4fb4ff" stroke-width="0.5"/>
<circle cx="660.6" cy="335" r="11.2" fill="#0a3a86" opacity="0.8"/>
<circle cx="660.6" cy="335" r="10.2" fill="url(#icd)" stroke="#7ab8f5" stroke-width="0.5"/>
<text x="678.6" y="338.26" font-size="8.8" fill="#f5a623" font-weight="bold" letter-spacing="0.7" stroke="#f5a623" stroke-width="0.25">6200</text>
<text x="678.6" y="347.33" font-size="3.5" fill="#e8f4ff" font-weight="bold" textLength="27.6" lengthAdjust="spacingAndGlyphs">设备检测（台）</text>
<path d="M660.17 328.13C662.34 331.03 665.82 332.77 665.53 336.83C665.38 339.73 663.21 341.32 660.6 341.32C657.7 341.32 655.52 339.44 655.67 336.25C655.82 333.93 657.41 332.77 657.99 331.03C658.86 332.48 659.3 333.06 659.88 333.64C660.75 331.9 660.89 330.16 660.17 328.13Z" fill="#fff"/>
<path d="M660.61 335.05C661.54 336.29 663.03 337.03 662.91 338.77C662.85 340.01 661.92 340.69 660.8 340.69C659.56 340.69 658.63 339.88 658.69 338.52C658.75 337.53 659.44 337.03 659.68 336.29C660.06 336.91 660.24 337.16 660.49 337.4C660.86 336.66 660.92 335.92 660.61 335.05Z" fill="#1f5ec0"/>
<rect x="716.3" y="316.7" width="82.7" height="45.9" fill="#0a4f92" opacity="0.58"/>
<rect x="716.3" y="316.7" width="82.7" height="45.9" fill="none" stroke="#1c5aa8" stroke-width="0.3" opacity="0.8"/>
<rect x="715.8" y="316.2" width="1" height="1" fill="#2f7df0"/>
<rect x="798.5" y="316.2" width="1" height="1" fill="#2f7df0"/>
<rect x="715.8" y="362.1" width="1" height="1" fill="#2f7df0"/>
<rect x="798.5" y="362.1" width="1" height="1" fill="#2f7df0"/>
<polygon points="728.7,338.6 757.1,338.6 755.9,347 742.9,352.2 729.9,347" fill="url(#hxd)"/>
<polyline points="755.9,347 742.9,352.2 729.9,347" fill="none" stroke="#4fb4ff" stroke-width="0.5"/>
<circle cx="742.9" cy="335" r="11.2" fill="#0a3a86" opacity="0.8"/>
<circle cx="742.9" cy="335" r="10.2" fill="url(#icd)" stroke="#7ab8f5" stroke-width="0.5"/>
<text x="760.9" y="338.26" font-size="8.8" fill="#f5a623" font-weight="bold" letter-spacing="0.7" stroke="#f5a623" stroke-width="0.25">27008</text>
<text x="760.9" y="347.33" font-size="3.5" fill="#e8f4ff" font-weight="bold" textLength="27.6" lengthAdjust="spacingAndGlyphs">气瓶数量（个）</text>
<path d="M745.5 338.2C743.1 335.4 742.1 333.6 742.1 331.8A3.4 3.4 0 1 1 748.9 331.8C748.9 333.6 747.9 335.4 745.5 338.2Z" fill="#fff"/>
<circle cx="745.5" cy="331.8" r="1.5" fill="#1f5ec0"/>
<rect x="736.5" y="334" width="5.6" height="2.2" fill="#fff"/>
<rect x="735.7" y="337.2" width="7" height="2.4" fill="#fff"/>
<rect x="742.3" y="339" width="6.6" height="1" fill="#fff"/>
<rect x="800.5" y="316.7" width="82.7" height="45.9" fill="#0a4f92" opacity="0.58"/>
<rect x="800.5" y="316.7" width="82.7" height="45.9" fill="none" stroke="#1c5aa8" stroke-width="0.3" opacity="0.8"/>
<rect x="800" y="316.2" width="1" height="1" fill="#2f7df0"/>
<rect x="882.7" y="316.2" width="1" height="1" fill="#2f7df0"/>
<rect x="800" y="362.1" width="1" height="1" fill="#2f7df0"/>
<rect x="882.7" y="362.1" width="1" height="1" fill="#2f7df0"/>
<circle cx="809.9" cy="330.6" r="5.6" fill="none" stroke="#1fa8e0" stroke-width="0.3" opacity="0.9" stroke-dasharray="6 1.6"/>
<circle cx="809.9" cy="330.6" r="4.4" fill="#0a2f6c" stroke="#3fb8f0" stroke-width="0.35"/>
<text x="819.3" y="328.61" font-size="2.7" fill="#e8f4ff" font-weight="500" textLength="19.6" lengthAdjust="spacingAndGlyphs">本月报警数量</text>
<text x="819.3" y="335.5" fill="#1fd8f0" font-weight="bold" dominant-baseline="alphabetic"><tspan font-size="4.8" letter-spacing="0.6">132</tspan><tspan font-size="2.7" fill="#e8f4ff" dx="0.1">次</tspan></text>
<circle cx="809.9" cy="329.8" r="1.1" fill="#fff"/>
<rect x="808.4" y="331.1" width="3" height="1.9" fill="#fff" rx="0.5"/>
<rect x="806.7" y="330" width="1.3" height="2.8" fill="#fff" opacity="0.85"/>
<rect x="811.8" y="330" width="1.3" height="2.8" fill="#fff" opacity="0.85"/>
<circle cx="850.4" cy="330.6" r="5.6" fill="none" stroke="#1fa8e0" stroke-width="0.3" opacity="0.9" stroke-dasharray="6 1.6"/>
<circle cx="850.4" cy="330.6" r="4.4" fill="#0a2f6c" stroke="#3fb8f0" stroke-width="0.35"/>
<text x="859.9" y="328.61" font-size="2.7" fill="#e8f4ff" font-weight="500" textLength="19.6" lengthAdjust="spacingAndGlyphs">本月设备维修</text>
<text x="859.9" y="335.5" fill="#1fd8f0" font-weight="bold" dominant-baseline="alphabetic"><tspan font-size="4.8" letter-spacing="0.6">31</tspan><tspan font-size="2.7" fill="#e8f4ff" dx="0.1">次</tspan></text>
<circle cx="849.9" cy="330.1" r="2.1" fill="none" stroke="#fff" stroke-width="0.7"/>
<line x1="851.5" y1="331.7" x2="853.2" y2="333.4" stroke="#fff" stroke-width="0.8"/>
<line x1="849" y1="330.1" x2="850.8" y2="330.1" stroke="#fff" stroke-width="0.5"/>
<circle cx="809.9" cy="348.7" r="5.6" fill="none" stroke="#1fa8e0" stroke-width="0.3" opacity="0.9" stroke-dasharray="6 1.6"/>
<circle cx="809.9" cy="348.7" r="4.4" fill="#0a2f6c" stroke="#3fb8f0" stroke-width="0.35"/>
<text x="819.3" y="346.71" font-size="2.7" fill="#e8f4ff" font-weight="500" textLength="19.6" lengthAdjust="spacingAndGlyphs">本月短信提醒</text>
<text x="819.3" y="353.6" fill="#1fd8f0" font-weight="bold" dominant-baseline="alphabetic"><tspan font-size="4.8" letter-spacing="0.6">203</tspan><tspan font-size="2.7" fill="#e8f4ff" dx="0.1">次</tspan></text>
<ellipse cx="809.9" cy="348.4" rx="3.0" ry="2.2" fill="#fff"/>
<polygon points="808.1,349.7 807.6,351.7 809.7,350.3" fill="#fff"/>
<line x1="808.3" y1="348.4" x2="811.5" y2="348.4" stroke="#1f5ec0" stroke-width="0.35"/>
<circle cx="850.4" cy="348.7" r="5.6" fill="none" stroke="#1fa8e0" stroke-width="0.3" opacity="0.9" stroke-dasharray="6 1.6"/>
<circle cx="850.4" cy="348.7" r="4.4" fill="#0a2f6c" stroke="#3fb8f0" stroke-width="0.35"/>
<text x="859.9" y="346.71" font-size="2.7" fill="#e8f4ff" font-weight="500" textLength="19.6" lengthAdjust="spacingAndGlyphs">本月电话报警</text>
<text x="859.9" y="353.6" fill="#1fd8f0" font-weight="bold" dominant-baseline="alphabetic"><tspan font-size="4.8" letter-spacing="0.6">562</tspan><tspan font-size="2.7" fill="#e8f4ff" dx="0.1">次</tspan></text>
<rect x="847.8" y="346.1" width="5.2" height="5.2" fill="#fff" rx="1"/>
<path d="M849.6 347.3V349.7H851.6" fill="none" stroke="#1f5ec0" stroke-width="0.8"/>
<rect x="549" y="364.2" width="164.2" height="133.4" fill="#0a4f92" opacity="0.43"/>
<rect x="549" y="364.2" width="164.2" height="133.4" fill="none" stroke="#1c5aa8" stroke-width="0.3" opacity="0.8"/>
<rect x="548.5" y="363.7" width="1" height="1" fill="#2f7df0"/>
<rect x="712.7" y="363.7" width="1" height="1" fill="#2f7df0"/>
<rect x="548.5" y="497.1" width="1" height="1" fill="#2f7df0"/>
<rect x="712.7" y="497.1" width="1" height="1" fill="#2f7df0"/>
<rect x="552.6" y="370.3" width="0.55" height="3.8" fill="#36c6f0"/>
<text x="554.6" y="373.68" font-size="3.6" fill="#b4def8" letter-spacing="0.45">燃气设备异常详情</text>
<line x1="552" y1="376.4" x2="710.2" y2="376.4" stroke="#4c86c8" stroke-width="0.3" opacity="0.75"/>
<polygon points="567.2,380.6 693.6,380.6 695.8,382.8 695.8,424.2 693.6,426.4 567.2,426.4 565,424.2 565,382.8" fill="url(#frd)" stroke="#2a7ae8" stroke-width="0.45"/>
<polygon points="619,426.4 630.4,422.6 641.8,426.4" fill="#2a78e0" opacity="0.55"/>
<polygon points="625.4,426.4 630.4,424.2 635.4,426.4" fill="#3f9af5" opacity="0.7"/>
<line x1="598" y1="425.5" x2="618" y2="425.5" stroke="#3f9af5" stroke-width="0.5" opacity="0.7"/>
<line x1="643" y1="425.5" x2="663" y2="425.5" stroke="#3f9af5" stroke-width="0.5" opacity="0.7"/>
<text x="585.9" y="385.89" font-size="2.9" fill="#fff" text-anchor="middle" font-weight="bold" textLength="12.2" lengthAdjust="spacingAndGlyphs">客户名称</text>
<text x="613.8" y="385.89" font-size="2.9" fill="#fff" text-anchor="middle" font-weight="bold" textLength="12.2" lengthAdjust="spacingAndGlyphs">设备编号</text>
<text x="642.6" y="385.89" font-size="2.9" fill="#fff" text-anchor="middle" font-weight="bold" textLength="12.2" lengthAdjust="spacingAndGlyphs">异常详情</text>
<text x="671" y="385.89" font-size="2.9" fill="#fff" text-anchor="middle" font-weight="bold" textLength="12.2" lengthAdjust="spacingAndGlyphs">上报时间</text>
<circle cx="687.6" cy="384" r="1.2" fill="none" stroke="#e8f4ff" stroke-width="0.35"/>
<line x1="688.5" y1="384.9" x2="689.6" y2="386" stroke="#e8f4ff" stroke-width="0.35"/>
<line x1="572" y1="387.7" x2="690" y2="387.7" stroke="#2a78d8" stroke-width="0.3" opacity="0.9"/>
<rect x="600" y="387.4" width="60" height="0.7" fill="url(#tgd)"/>
<rect x="625.6" y="399.2" width="9.6" height="8" fill="none" rx="0.9" stroke="#fff" stroke-width="0.6"/>
<polyline points="627,403.4 628.4,403.4 629.2,401.6 630.2,405.2 631.2,402.4 632,403.4 633.8,403.4" fill="none" stroke="#fff" stroke-width="0.45"/>
<rect x="627.4" y="407.6" width="6" height="0.9" fill="#fff"/>
<text x="630.4" y="413.28" font-size="2.4" fill="#fff" text-anchor="middle" textLength="12.4" lengthAdjust="spacingAndGlyphs">无异常信息</text>
<rect x="552.6" y="433.7" width="0.5" height="3.6" fill="#36c6f0"/>
<text x="554.4" y="436.94" font-size="3.5" fill="#9fd4f5" letter-spacing="0.45">总气量走势图</text>
<line x1="552" y1="440.3" x2="710.2" y2="440.3" stroke="#4c86c8" stroke-width="0.3" opacity="0.7"/>
<text x="570.4" y="445.94" font-size="2.3" fill="#d8ecff" text-anchor="middle">单位(Nm³)</text>
<rect x="677.3" y="443.3" width="4.9" height="2.6" fill="#f0c01c"/>
<text x="683.6" y="445.58" font-size="2.4" fill="#e8f4ff" textLength="8.8" lengthAdjust="spacingAndGlyphs">总气量</text>
<text x="568.2" y="487.74" font-size="2" fill="#cfe4f8" text-anchor="end">0</text>
<text x="568.2" y="481.81" font-size="2" fill="#cfe4f8" text-anchor="end">400</text>
<text x="568.2" y="475.88" font-size="2" fill="#cfe4f8" text-anchor="end">800</text>
<text x="568.2" y="469.95" font-size="2" fill="#cfe4f8" text-anchor="end">1600</text>
<text x="568.2" y="464.02" font-size="2" fill="#cfe4f8" text-anchor="end">2000</text>
<text x="568.2" y="458.09" font-size="2" fill="#cfe4f8" text-anchor="end">2400</text>
<text x="568.2" y="452.16" font-size="2" fill="#cfe4f8" text-anchor="end">2800</text>
<rect x="573" y="451.4" width="2" height="35.6" fill="#0d5a86" opacity="0.6"/>
<rect x="573" y="478" width="2" height="9" fill="url(#ybd)"/>
<text x="574" y="490.38" font-size="1.9" fill="#cfe4f8" text-anchor="middle">2日</text>
<rect x="579.4" y="451.4" width="2" height="35.6" fill="#0d5a86" opacity="0.6"/>
<rect x="579.4" y="462.2" width="2" height="24.8" fill="url(#ybd)"/>
<text x="580.4" y="490.38" font-size="1.9" fill="#cfe4f8" text-anchor="middle">4日</text>
<rect x="585.4" y="451.4" width="2" height="35.6" fill="#0d5a86" opacity="0.6"/>
<rect x="585.4" y="462.2" width="2" height="24.8" fill="url(#ybd)"/>
<text x="586.4" y="490.38" font-size="1.9" fill="#cfe4f8" text-anchor="middle">6日</text>
<rect x="591.8" y="451.4" width="2" height="35.6" fill="#0d5a86" opacity="0.6"/>
<rect x="591.8" y="459.2" width="2" height="27.8" fill="url(#ybd)"/>
<text x="592.8" y="490.38" font-size="1.9" fill="#cfe4f8" text-anchor="middle">7日</text>
<rect x="598.2" y="451.4" width="2" height="35.6" fill="#0d5a86" opacity="0.6"/>
<rect x="598.2" y="478" width="2" height="9" fill="url(#ybd)"/>
<text x="599.2" y="490.38" font-size="1.9" fill="#cfe4f8" text-anchor="middle">9日</text>
<rect x="605.4" y="451.4" width="2" height="35.6" fill="#0d5a86" opacity="0.6"/>
<rect x="605.4" y="468.9" width="2" height="18.1" fill="url(#ybd)"/>
<text x="606.4" y="490.38" font-size="1.9" fill="#cfe4f8" text-anchor="middle">11日</text>
<rect x="613.7" y="451.4" width="2" height="35.6" fill="#0d5a86" opacity="0.6"/>
<rect x="613.7" y="475.9" width="2" height="11.1" fill="url(#ybd)"/>
<text x="614.7" y="490.38" font-size="1.9" fill="#cfe4f8" text-anchor="middle">13日</text>
<rect x="621.9" y="451.4" width="2" height="35.6" fill="#0d5a86" opacity="0.6"/>
<rect x="621.9" y="484.9" width="2" height="2.1" fill="url(#ybd)"/>
<text x="622.9" y="490.38" font-size="1.9" fill="#cfe4f8" text-anchor="middle">15日</text>
<rect x="629.9" y="451.4" width="2" height="35.6" fill="#0d5a86" opacity="0.6"/>
<rect x="629.9" y="467.6" width="2" height="19.4" fill="url(#ybd)"/>
<text x="630.9" y="490.38" font-size="1.9" fill="#cfe4f8" text-anchor="middle">17日</text>
<rect x="638.2" y="451.4" width="2" height="35.6" fill="#0d5a86" opacity="0.6"/>
<rect x="638.2" y="453.2" width="2" height="33.8" fill="url(#ybd)"/>
<text x="639.2" y="490.38" font-size="1.9" fill="#cfe4f8" text-anchor="middle">19日</text>
<rect x="647.2" y="451.4" width="2" height="35.6" fill="#0d5a86" opacity="0.6"/>
<rect x="647.2" y="459.2" width="2" height="27.8" fill="url(#ybd)"/>
<text x="648.2" y="490.38" font-size="1.9" fill="#cfe4f8" text-anchor="middle">21日</text>
<rect x="656.2" y="451.4" width="2" height="35.6" fill="#0d5a86" opacity="0.6"/>
<rect x="656.2" y="468.9" width="2" height="18.1" fill="url(#ybd)"/>
<text x="657.2" y="490.38" font-size="1.9" fill="#cfe4f8" text-anchor="middle">23日</text>
<rect x="664.7" y="451.4" width="2" height="35.6" fill="#0d5a86" opacity="0.6"/>
<rect x="664.7" y="480.5" width="2" height="6.5" fill="url(#ybd)"/>
<text x="665.7" y="490.38" font-size="1.9" fill="#cfe4f8" text-anchor="middle">25日</text>
<rect x="673.7" y="451.4" width="2" height="35.6" fill="#0d5a86" opacity="0.6"/>
<rect x="673.7" y="478" width="2" height="9" fill="url(#ybd)"/>
<text x="674.7" y="490.38" font-size="1.9" fill="#cfe4f8" text-anchor="middle">27日</text>
<rect x="682.4" y="451.4" width="2" height="35.6" fill="#0d5a86" opacity="0.6"/>
<rect x="682.4" y="477.2" width="2" height="9.8" fill="url(#ybd)"/>
<text x="683.4" y="490.38" font-size="1.9" fill="#cfe4f8" text-anchor="middle">29日</text>
<rect x="691.5" y="451.4" width="2" height="35.6" fill="#0d5a86" opacity="0.6"/>
<rect x="691.5" y="485.7" width="2" height="1.3" fill="url(#ybd)"/>
<text x="692.5" y="490.38" font-size="1.9" fill="#cfe4f8" text-anchor="middle">31日</text>
<rect x="628.2" y="463" width="5.6" height="3.3" fill="#f4f8fc" rx="0.3"/>
<text x="631" y="465.44" font-size="2" fill="#445" text-anchor="middle">17</text>
<rect x="716.4" y="364.2" width="166.8" height="133.4" fill="#0a4f92" opacity="0.43"/>
<rect x="716.4" y="364.2" width="166.8" height="133.4" fill="none" stroke="#1c5aa8" stroke-width="0.3" opacity="0.8"/>
<rect x="715.9" y="363.7" width="1" height="1" fill="#2f7df0"/>
<rect x="882.7" y="363.7" width="1" height="1" fill="#2f7df0"/>
<rect x="715.9" y="497.1" width="1" height="1" fill="#2f7df0"/>
<rect x="882.7" y="497.1" width="1" height="1" fill="#2f7df0"/>
<rect x="720" y="370.3" width="0.55" height="3.8" fill="#36c6f0"/>
<text x="722" y="373.68" font-size="3.6" fill="#b4def8" letter-spacing="0.45">燃气概览</text>
<line x1="719.4" y1="376.4" x2="880.2" y2="376.4" stroke="#4c86c8" stroke-width="0.3" opacity="0.75"/>
<path d="M750.4 406.9L746.25 393.32A14.2 14.2 0 0 1 755.26 393.56Z" fill="#f5a21e"/>
<path d="M750.4 406.9L755.26 393.56A14.2 14.2 0 0 1 763.74 411.76Z" fill="#7adbe2"/>
<path d="M750.4 406.9L763.74 411.76A14.2 14.2 0 0 1 742.26 418.53Z" fill="#2ba8f2"/>
<path d="M750.4 406.9L742.26 418.53A14.2 14.2 0 0 1 736.51 403.95Z" fill="#2a68ca"/>
<path d="M750.4 406.9L736.51 403.95A14.2 14.2 0 0 1 746.25 393.32Z" fill="#5cc832"/>
<circle cx="750.4" cy="406.9" r="5.7" fill="#0b1a6c"/>
<text x="742.7" y="384.85" font-size="2.8" fill="#f5a21e" font-weight="bold">超时不提示</text>
<text x="742.7" y="389.52" font-size="3.3" fill="#f5a21e">25.81%</text>
<polyline points="742.7,390.3 754.6,390.3 752,393" fill="none" stroke="#f5a21e" stroke-width="0.3"/>
<text x="729.3" y="394.15" font-size="2.8" fill="#5cc832" font-weight="bold">维修</text>
<text x="729.3" y="398.82" font-size="3.3" fill="#5cc832">9.52%</text>
<polyline points="729.3,399.6 737.2,399.6 739.5,398" fill="none" stroke="#5cc832" stroke-width="0.3"/>
<text x="764" y="395.65" font-size="2.8" fill="#7adbe2" font-weight="bold">设备故障</text>
<text x="764" y="400.62" font-size="3.3" fill="#7adbe2">19.35%</text>
<polyline points="775,401.4 764,401.4 762,400" fill="none" stroke="#7adbe2" stroke-width="0.3"/>
<text x="725.5" y="414.15" font-size="2.8" fill="#3f8ae0" font-weight="bold">未知报警</text>
<text x="725.5" y="418.92" font-size="3.3" fill="#3f8ae0">16.22%</text>
<polyline points="725.5,419.7 735.6,419.7 738.6,415.6" fill="none" stroke="#3f8ae0" stroke-width="0.3"/>
<text x="762.8" y="423.75" font-size="2.8" fill="#2ba8f2" font-weight="bold">管件老化漏</text>
<text x="762.8" y="428.72" font-size="3.3" fill="#2ba8f2">17.53%</text>
<polyline points="773.6,429.5 762.8,429.5 758.6,419.4" fill="none" stroke="#2ba8f2" stroke-width="0.3"/>
<text x="751.2" y="437.23" font-size="3" fill="#fff" text-anchor="middle" font-weight="500" textLength="33" lengthAdjust="spacingAndGlyphs">燃气抢报安装地原因</text>
<text x="791" y="388.74" font-size="2.3" fill="#e8f4ff">单位 (万NM3)</text>
<line x1="840" y1="387" x2="843.4" y2="387" stroke="#1fc8e8" stroke-width="0.4"/>
<text x="844.6" y="388.02" font-size="2.5" fill="#1fc8e8" textLength="13" lengthAdjust="spacingAndGlyphs">上周总气量</text>
<line x1="862" y1="387" x2="865.4" y2="387" stroke="#e8a820" stroke-width="0.4"/>
<text x="866.6" y="388.02" font-size="2.5" fill="#e8a820" textLength="13.8" lengthAdjust="spacingAndGlyphs">本周总气量</text>
<line x1="797.6" y1="393" x2="797.6" y2="427.5" stroke="#7aa4d0" stroke-width="0.3"/>
<line x1="797.6" y1="427.5" x2="881" y2="427.5" stroke="#7aa4d0" stroke-width="0.3"/>
<text x="796" y="428.2" font-size="1.9" fill="#cfe4f8" text-anchor="end">0</text>
<text x="796" y="421.9" font-size="1.9" fill="#cfe4f8" text-anchor="end">50</text>
<text x="796" y="415.6" font-size="1.9" fill="#cfe4f8" text-anchor="end">100</text>
<text x="796" y="409.3" font-size="1.9" fill="#cfe4f8" text-anchor="end">150</text>
<text x="796" y="403" font-size="1.9" fill="#cfe4f8" text-anchor="end">200</text>
<text x="796" y="396.7" font-size="1.9" fill="#cfe4f8" text-anchor="end">250</text>
<polygon points="800.7,427.3 813.78,423.1 826.86,410.2 839.94,397.3 853.02,406.4 866.1,407.6 879.18,426.4" fill="#a08468" fill-opacity="0.6" stroke="#e8a020" stroke-width="0.35"/>
<polygon points="800.7,427.3 813.78,424.4 826.86,419.7 839.94,404.3 853.02,417.2 866.1,423.9 879.18,427.2" fill="#4a9ab0" fill-opacity="0.6" stroke="#2fd0e8" stroke-width="0.35"/>
<text x="800.7" y="430.48" font-size="1.9" fill="#cfe4f8" text-anchor="middle">周一</text>
<text x="813.78" y="430.48" font-size="1.9" fill="#cfe4f8" text-anchor="middle">周二</text>
<text x="826.86" y="430.48" font-size="1.9" fill="#cfe4f8" text-anchor="middle">周三</text>
<text x="839.94" y="430.48" font-size="1.9" fill="#cfe4f8" text-anchor="middle">周四</text>
<text x="853.02" y="430.48" font-size="1.9" fill="#cfe4f8" text-anchor="middle">周五</text>
<text x="866.1" y="430.48" font-size="1.9" fill="#cfe4f8" text-anchor="middle">周六</text>
<text x="879.18" y="430.48" font-size="1.9" fill="#cfe4f8" text-anchor="middle">周日</text>
<text x="840" y="437.23" font-size="3" fill="#fff" text-anchor="middle" font-weight="500" textLength="54" lengthAdjust="spacingAndGlyphs">本周总气量与上周总气量对比趋势</text>
<text x="721.6" y="459.34" font-size="2.3" fill="#e8f4ff" textLength="10.6" lengthAdjust="spacingAndGlyphs">气瓶状态</text>
<text x="787.3" y="459.34" font-size="2.3" fill="#e8f4ff" text-anchor="middle">数量</text>
<rect x="720.3" y="462.2" width="76" height="4.2" fill="#1c1c70" opacity="0.85"/>
<text x="727.5" y="465.2" font-size="2.2" fill="#e8f4ff" text-anchor="middle">满瓶</text>
<rect x="739.6" y="463.35" width="32.2" height="1.9" fill="url(#tbd)" rx="0.95"/>
<text x="787.3" y="465.04" font-size="2" fill="#8fa8d0" text-anchor="middle">16563</text>
<text x="727.5" y="471.1" font-size="2.2" fill="#e8f4ff" text-anchor="middle">空瓶</text>
<rect x="739.6" y="469.25" width="16.8" height="1.9" fill="url(#tbd)" rx="0.95"/>
<text x="787.3" y="470.94" font-size="2" fill="#8fa8d0" text-anchor="middle">5357</text>
<rect x="720.3" y="473.8" width="76" height="4.2" fill="#1c1c70" opacity="0.85"/>
<text x="727.5" y="476.8" font-size="2.2" fill="#e8f4ff" text-anchor="middle">维修瓶</text>
<rect x="739.6" y="474.95" width="37.9" height="1.9" fill="url(#tbd)" rx="0.95"/>
<text x="787.3" y="476.64" font-size="2" fill="#8fa8d0" text-anchor="middle">18235</text>
<text x="840.8" y="452.38" font-size="2.4" fill="#e8f4ff" text-anchor="middle">燃气用户</text>
<path d="M805.78 475.87A16 16 0 1 1 836.82 475.87L831.29 474.49A10.3 10.3 0 1 0 811.31 474.49Z" fill="#0a2458"/>
<path d="M805.78 475.87A16 16 0 0 1 826.98 457.04L824.96 462.37A10.3 10.3 0 0 0 811.31 474.49Z" fill="url(#ga1d)"/>
<text x="806.9" y="475.23" font-size="1.7" fill="#cfe4f8" text-anchor="middle">0</text>
<text x="834.5" y="475.23" font-size="1.7" fill="#8fa8d0" text-anchor="middle">100</text>
<text x="821.3" y="472.32" font-size="2.5" fill="#fff" text-anchor="middle" font-weight="bold">普通居民</text>
<text x="821.3" y="481.32" font-size="5.2" fill="#1fd0e8" text-anchor="middle" textLength="10.6" lengthAdjust="spacingAndGlyphs">60%</text>
<path d="M845.68 475.87A16 16 0 1 1 876.72 475.87L871.19 474.49A10.3 10.3 0 1 0 851.21 474.49Z" fill="#0a2458"/>
<path d="M845.68 475.87A16 16 0 0 1 855.52 457.04L857.54 462.37A10.3 10.3 0 0 0 851.21 474.49Z" fill="url(#ga2d)"/>
<text x="846.8" y="475.23" font-size="1.7" fill="#cfe4f8" text-anchor="middle">0</text>
<text x="874.4" y="475.23" font-size="1.7" fill="#8fa8d0" text-anchor="middle">100</text>
<text x="861.2" y="472.32" font-size="2.5" fill="#fff" text-anchor="middle" font-weight="bold">商户</text>
<text x="861.2" y="481.32" font-size="5.2" fill="#f2d030" text-anchor="middle" textLength="10.6" lengthAdjust="spacingAndGlyphs">40%</text>
<text x="798.8" y="488.73" font-size="3" fill="#fff" text-anchor="middle" font-weight="500" textLength="15.5" lengthAdjust="spacingAndGlyphs">气瓶流转</text>
</svg>
<svg class="bg" width="1000" height="563" viewBox="0 0 1000 563" style="pointer-events:none"><polygon points="0,325 0,563 263,563" fill="#6eb0f3" fill-opacity="0.21"/></svg>
</body></html>
